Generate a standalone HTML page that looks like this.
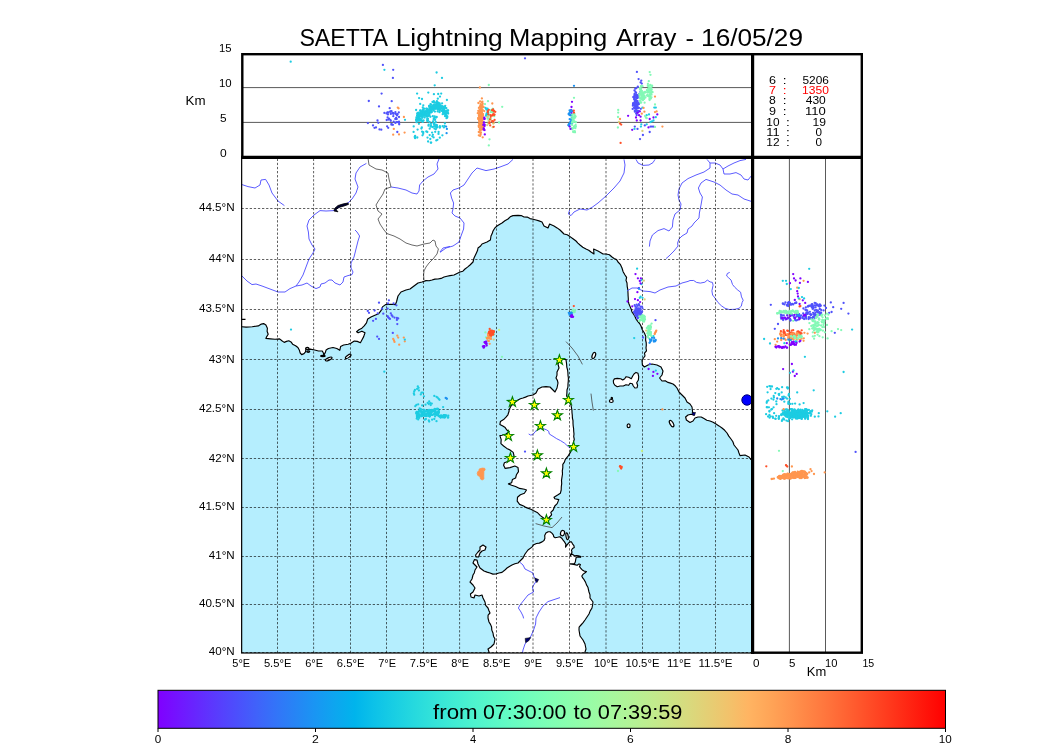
<!DOCTYPE html>
<html><head><meta charset="utf-8"><title>SAETTA Lightning Mapping Array</title>
<style>html,body{margin:0;padding:0;background:#fff;}svg{display:block}text{font-family:"Liberation Sans",sans-serif}</style></head><body>
<svg width="1050" height="750" viewBox="0 0 1050 750">
<rect width="1050" height="750" fill="#fff"/>
<defs><clipPath id="cm"><rect x="241.5" y="157.5" width="511.0" height="495.5"/></clipPath>
<filter id="idf" x="0" y="0" width="1050" height="750" filterUnits="userSpaceOnUse"><feOffset dx="0" dy="0"/></filter>
<linearGradient id="rb" x1="0" x2="1" y1="0" y2="0"><stop offset="0.000" stop-color="rgb(128,0,255)"/><stop offset="0.025" stop-color="rgb(115,20,255)"/><stop offset="0.050" stop-color="rgb(102,40,254)"/><stop offset="0.075" stop-color="rgb(89,60,253)"/><stop offset="0.100" stop-color="rgb(76,79,252)"/><stop offset="0.125" stop-color="rgb(64,98,250)"/><stop offset="0.150" stop-color="rgb(51,116,248)"/><stop offset="0.175" stop-color="rgb(38,133,245)"/><stop offset="0.200" stop-color="rgb(25,150,243)"/><stop offset="0.225" stop-color="rgb(13,166,239)"/><stop offset="0.250" stop-color="rgb(0,180,236)"/><stop offset="0.275" stop-color="rgb(13,194,232)"/><stop offset="0.300" stop-color="rgb(25,206,227)"/><stop offset="0.325" stop-color="rgb(38,217,222)"/><stop offset="0.350" stop-color="rgb(51,227,217)"/><stop offset="0.375" stop-color="rgb(64,236,212)"/><stop offset="0.400" stop-color="rgb(77,243,206)"/><stop offset="0.425" stop-color="rgb(89,248,200)"/><stop offset="0.450" stop-color="rgb(102,252,194)"/><stop offset="0.475" stop-color="rgb(115,254,187)"/><stop offset="0.500" stop-color="rgb(128,255,180)"/><stop offset="0.525" stop-color="rgb(140,254,173)"/><stop offset="0.550" stop-color="rgb(153,252,166)"/><stop offset="0.575" stop-color="rgb(166,248,158)"/><stop offset="0.600" stop-color="rgb(178,243,150)"/><stop offset="0.625" stop-color="rgb(191,236,142)"/><stop offset="0.650" stop-color="rgb(204,227,133)"/><stop offset="0.675" stop-color="rgb(217,217,125)"/><stop offset="0.700" stop-color="rgb(229,206,116)"/><stop offset="0.725" stop-color="rgb(242,194,107)"/><stop offset="0.750" stop-color="rgb(255,180,98)"/><stop offset="0.775" stop-color="rgb(255,166,88)"/><stop offset="0.800" stop-color="rgb(255,150,79)"/><stop offset="0.825" stop-color="rgb(255,133,69)"/><stop offset="0.850" stop-color="rgb(255,116,60)"/><stop offset="0.875" stop-color="rgb(255,98,50)"/><stop offset="0.900" stop-color="rgb(255,79,40)"/><stop offset="0.925" stop-color="rgb(255,60,30)"/><stop offset="0.950" stop-color="rgb(255,40,20)"/><stop offset="0.975" stop-color="rgb(255,20,10)"/><stop offset="1.000" stop-color="rgb(255,0,0)"/></linearGradient></defs>
<g clip-path="url(#cm)">
<rect x="241.5" y="157.5" width="511.0" height="495.5" fill="#b5eefe"/>
<polygon points="230.0,326.7 241.8,326.7 246.1,327.1 252.2,326.7 258.3,325.9 261.3,324.1 263.6,323.6 265.9,325.1 267.4,328.2 267.1,331.2 268.2,334.3 266.7,336.6 265.9,338.4 270.5,338.9 275.0,339.3 279.6,338.9 281.9,340.8 284.2,342.4 286.5,341.4 288.8,340.8 291.0,341.9 292.6,344.2 295.6,345.7 297.9,347.5 299.4,350.3 300.2,353.0 301.7,354.6 304.0,353.6 305.5,351.8 305.8,349.5 310.1,349.1 314.7,350.0 318.5,351.0 322.3,351.0 323.5,353.3 323.8,355.6 325.3,352.6 326.1,350.0 328.4,348.5 333.0,347.5 336.8,348.5 339.8,350.3 340.6,346.5 343.6,345.0 348.2,344.2 351.2,343.1 354.3,341.1 357.3,341.4 360.4,342.7 361.9,339.9 363.7,336.6 365.0,332.8 361.9,331.2 358.1,332.8 356.6,331.7 358.9,329.7 361.9,328.2 364.2,325.9 366.5,322.9 367.7,319.0 371.0,317.1 374.9,315.2 378.7,313.7 381.0,310.7 382.5,306.9 385.5,304.6 390.9,304.3 395.4,304.6 396.6,301.5 398.0,296.0 401.0,292.0 403.5,291.0 406.0,290.0 410.0,289.0 414.0,286.0 418.0,283.0 422.0,282.0 426.0,280.6 429.1,280.8 432.0,280.0 434.9,279.1 438.0,279.0 441.1,278.4 444.0,277.0 447.0,276.2 450.0,275.6 454.0,275.0 457.0,273.4 460.0,272.0 462.9,271.2 465.0,269.0 467.5,267.1 470.0,265.0 473.0,262.0 474.0,258.0 475.2,255.5 476.4,253.0 477.5,250.6 478.0,248.0 480.3,246.3 482.0,244.0 484.5,243.0 487.0,242.0 490.4,240.0 491.0,236.0 492.2,233.6 493.0,231.0 494.7,228.2 497.0,226.0 499.4,224.4 502.0,223.0 504.9,220.8 508.0,219.0 510.2,216.8 513.0,215.6 518.0,215.4 521.2,215.6 524.0,217.0 527.2,217.1 530.0,218.6 533.0,219.2 536.0,220.0 539.0,220.9 542.0,222.0 544.0,226.0 548.0,228.0 549.6,224.0 554.0,226.0 557.1,227.9 560.0,230.0 562.0,232.0 564.0,234.0 567.2,234.8 570.0,236.6 573.0,238.8 576.0,241.0 577.9,243.1 580.0,245.0 582.8,247.3 586.0,249.0 588.7,250.2 591.0,252.0 594.0,254.0 593.6,249.0 598.0,251.0 600.6,252.4 603.0,254.0 606.0,254.0 609.4,254.7 612.0,257.0 614.1,258.5 616.6,259.6 618.0,262.0 620.5,264.7 622.0,268.0 623.1,271.7 625.0,275.0 626.6,277.4 626.0,280.4 627.0,283.0 627.2,286.3 627.8,289.7 628.0,293.0 628.1,295.8 628.3,298.5 628.3,301.3 629.0,304.0 630.1,306.6 631.2,309.2 632.0,312.0 633.6,314.2 635.0,316.5 636.0,319.0 637.7,321.3 639.6,323.5 641.0,326.0 642.3,329.7 644.4,333.0 645.8,336.4 645.6,340.0 646.2,342.6 646.3,345.3 646.0,348.0 646.5,350.8 644.5,353.2 645.0,356.0 642.0,360.0 642.4,365.0 644.4,367.0 648.0,365.0 652.0,364.0 657.0,365.0 661.0,367.0 663.0,371.0 662.0,375.0 659.6,378.0 662.0,381.0 665.2,380.7 668.0,382.4 670.5,383.1 673.0,384.0 675.2,385.8 677.0,388.0 679.0,392.0 682.0,395.0 685.0,398.0 687.0,402.0 690.0,404.0 692.0,407.0 692.6,412.0 694.0,415.0 691.0,414.3 688.0,415.0 685.6,417.0 686.4,420.0 690.0,422.4 693.0,421.0 695.0,418.0 698.0,417.0 701.2,417.0 704.0,418.6 706.8,420.2 710.0,421.0 713.1,422.2 716.0,424.0 719.0,425.9 722.0,428.0 724.7,430.3 727.0,433.0 728.8,436.1 731.0,439.0 732.9,441.8 734.0,445.0 736.0,447.5 738.0,450.0 738.9,452.8 740.0,455.6 745.0,455.0 749.0,457.0 751.0,459.6 753.6,461.2 756.9,460.4 759.2,462.9 762.1,463.5 765.0,464.0 765.0,140.0 230.0,140.0" fill="#fff" stroke="#000" stroke-width="1.15" stroke-linejoin="round"/>
<polygon points="509.0,410.0 511.0,406.0 514.0,403.0 518.0,400.0 520.4,398.7 523.0,398.0 525.5,397.1 528.0,396.0 533.0,395.0 536.0,393.0 538.0,389.0 542.0,387.0 546.0,386.6 550.0,387.0 553.0,390.0 555.0,392.0 557.0,388.0 558.0,383.0 557.4,380.4 556.0,378.0 557.0,375.1 557.0,372.0 559.0,368.0 558.0,364.0 560.0,361.0 563.0,359.0 566.0,359.6 566.6,364.0 566.8,367.1 567.6,370.0 567.9,372.7 568.0,375.3 568.4,378.0 568.3,381.0 568.0,384.0 567.9,387.1 567.0,390.0 566.9,393.0 566.6,396.0 569.0,400.0 569.7,402.6 571.0,405.0 571.9,410.0 572.0,412.7 572.3,415.3 572.4,418.0 573.0,420.6 573.0,423.3 573.2,426.0 573.6,428.6 573.7,431.3 574.0,434.0 573.7,436.7 574.3,439.4 573.5,442.0 573.0,444.8 572.4,447.6 570.8,451.6 568.4,455.6 565.2,459.6 564.4,462.2 562.8,464.4 562.8,467.6 562.3,470.8 562.5,474.0 562.0,477.2 561.5,480.4 561.7,483.6 561.3,486.8 561.2,490.0 560.4,493.2 558.0,494.8 554.0,497.2 554.8,498.8 558.8,499.6 557.2,503.6 554.8,506.0 553.2,510.0 550.8,512.4 551.6,514.8 549.2,517.5 546.0,520.4 543.6,518.0 540.4,515.6 537.2,512.4 533.2,510.5 530.9,509.3 528.4,508.4 525.9,507.4 523.6,506.0 519.6,504.4 517.2,501.2 517.5,497.2 520.4,494.8 524.4,493.2 526.5,490.0 524.4,489.2 519.6,488.4 515.6,486.5 511.6,485.2 508.4,483.9 511.6,482.8 512.4,479.6 515.6,478.0 516.4,474.8 518.5,471.6 518.0,467.6 514.8,466.0 510.0,467.6 505.2,468.4 503.6,465.2 504.4,462.8 508.4,461.2 512.4,458.8 514.0,455.6 513.2,452.4 510.0,450.0 506.8,448.4 503.6,446.0 500.9,443.6 501.2,439.6 499.9,435.6 502.0,435.3 506.0,434.0 509.2,431.6 506.8,430.0 505.2,427.6 502.8,426.0 499.9,424.4 500.4,421.5 503.6,419.6 506.0,417.2 507.9,414.8 509.2,410.8" fill="#fff" stroke="#000" stroke-width="1.15" stroke-linejoin="round"/>
<polygon points="489.0,665.0 489.0,652.0 488.0,649.0 491.0,647.0 494.0,644.0 495.0,639.0 493.5,636.2 493.0,633.0 491.8,630.1 491.6,627.0 490.5,624.4 489.0,622.0 488.0,618.0 488.1,615.1 490.0,613.0 488.9,610.5 488.0,608.0 485.7,605.4 485.0,602.0 483.0,598.0 482.0,595.0 479.0,596.0 475.0,595.0 474.0,598.0 471.0,597.0 470.4,594.0 473.0,592.0 475.0,588.0 473.0,585.0 470.0,582.0 472.0,579.0 473.0,575.0 474.4,572.7 475.0,570.0 477.0,567.0 475.0,565.0 473.0,563.0 474.4,559.6 477.0,560.0 478.0,564.0 480.0,568.0 484.0,571.0 487.0,572.1 490.0,573.0 492.9,574.1 496.0,574.0 498.9,573.0 502.0,572.4 504.6,570.3 507.0,568.0 509.4,566.4 512.0,565.0 514.9,563.7 518.0,563.0 520.5,560.5 523.0,558.0 525.0,554.0 528.0,550.0 531.9,547.1 533.7,544.7 536.5,543.5 539.3,543.1 542.1,541.9 544.0,540.5 544.9,538.2 544.7,535.4 545.9,533.1 548.2,531.7 550.1,531.7 551.9,533.1 553.3,534.9 553.8,536.8 555.2,537.7 557.5,537.3 559.9,536.8 561.7,538.2 563.1,540.1 564.5,541.9 565.9,544.3 565.5,547.1 566.9,545.2 568.3,543.3 570.1,541.9 571.5,541.9 572.5,543.8 573.9,545.7 574.3,547.5 572.5,548.5 571.5,550.3 572.0,552.2 570.6,554.5 570.1,555.9 572.0,554.1 573.4,555.0 574.8,555.9 576.7,555.5 578.5,555.9 580.9,556.6 580.4,557.3 578.1,556.9 576.2,557.3 575.7,559.7 575.3,562.0 574.3,563.9 572.0,563.7 569.7,563.9 572.0,564.3 574.8,564.6 577.1,565.3 579.0,563.9 580.4,564.6 579.5,566.7 580.9,568.5 582.3,569.9 584.1,571.1 586.5,571.5 585.1,572.7 583.2,574.1 581.8,576.0 582.7,577.9 584.1,579.7 585.5,582.1 586.5,584.9 587.9,587.2 589.0,592.0 590.0,594.9 590.0,598.0 593.0,602.0 592.6,605.0 592.0,608.0 590.2,610.9 589.0,614.0 587.0,617.0 585.0,620.0 583.1,622.6 581.0,625.0 579.1,627.2 579.0,630.0 579.5,633.0 580.0,636.0 583.0,640.0 585.0,644.0 586.0,649.0 585.0,652.0 585.2,655.2 584.9,658.5 585.2,661.8 585.0,665.0" fill="#fff" stroke="#000" stroke-width="1.15" stroke-linejoin="round"/>
<polygon points="613.3,380.7 614.4,378.9 617.3,378.4 620.7,378.7 622.7,380.0 624.7,378.7 626.0,376.7 628.7,377.3 631.3,378.7 632.7,376.0 634.0,374.0 636.0,372.4 638.0,373.3 638.7,376.7 638.4,380.0 636.7,382.7 637.6,385.3 637.1,387.7 634.9,388.0 633.3,386.0 632.3,383.7 630.0,383.3 628.7,385.3 626.0,384.7 623.3,386.0 620.0,386.0 617.3,386.7 614.9,385.3 613.6,383.3" fill="#fff" stroke="#000" stroke-width="1.15" stroke-linejoin="round"/>
<polygon points="480.0,547.0 483.0,545.0 486.0,547.0 485.0,550.0 482.0,551.0 480.0,553.0 478.6,557.0 476.0,557.0 475.6,555.0 478.0,552.0 480.0,550.0" fill="#fff" stroke="#000" stroke-width="1.15" stroke-linejoin="round"/>
<ellipse cx="562.5" cy="533.1" rx="2.0" ry="2.7" transform="rotate(15 562.5 533.1)" fill="#fff" stroke="#000" stroke-width="1.2"/>
<ellipse cx="567.1" cy="536.3" rx="1.1" ry="3.4" transform="rotate(-10 567.1 536.3)" fill="#fff" stroke="#000" stroke-width="1.2"/>
<ellipse cx="593.8" cy="355.5" rx="1.6" ry="3.2" transform="rotate(20 593.8 355.5)" fill="#fff" stroke="#000" stroke-width="1.2"/>
<ellipse cx="611.8" cy="398.3" rx="0.7" ry="0.9" transform="rotate(0 611.8 398.3)" fill="#fff" stroke="#000" stroke-width="1.2"/>
<ellipse cx="611.3" cy="401.0" rx="1.9" ry="1.5" transform="rotate(0 611.3 401.0)" fill="#fff" stroke="#000" stroke-width="1.2"/>
<ellipse cx="628.6" cy="425.8" rx="1.5" ry="1.9" transform="rotate(0 628.6 425.8)" fill="#fff" stroke="#000" stroke-width="1.2"/>
<ellipse cx="671.6" cy="423.6" rx="1.6" ry="3.6" transform="rotate(-30 671.6 423.6)" fill="#fff" stroke="#000" stroke-width="1.2"/>
<ellipse cx="322.9" cy="356.0" rx="2.3" ry="0.7" transform="rotate(0 322.9 356.0)" fill="#fff" stroke="#000" stroke-width="1.2"/>
<ellipse cx="328.7" cy="359.0" rx="3.6" ry="1.2" transform="rotate(-25 328.7 359.0)" fill="#fff" stroke="#000" stroke-width="1.2"/>
<ellipse cx="348.2" cy="356.4" rx="3.3" ry="1.2" transform="rotate(-35 348.2 356.4)" fill="#fff" stroke="#000" stroke-width="1.2"/>
<ellipse cx="307.3" cy="348.4" rx="1.7" ry="1.0" transform="rotate(0 307.3 348.4)" fill="#fff" stroke="#000" stroke-width="1.2"/>
<ellipse cx="308.2" cy="351.6" rx="1.5" ry="0.7" transform="rotate(0 308.2 351.6)" fill="#fff" stroke="#000" stroke-width="1.2"/>
<path d="M241 319.3 L245.5 319.3" stroke="#000" stroke-width="1.3" fill="none"/>
<polyline points="242.0,184.6 248.0,186.6 255.0,188.0 260.0,185.0 261.0,180.0 265.6,179.4 269.0,185.0 272.0,193.0 278.0,201.0 284.4,205.6" fill="none" stroke="#4a4aff" stroke-width="0.9" stroke-linejoin="round"/>
<polyline points="366.4,163.4 360.0,167.0 356.0,173.0 355.0,179.0 358.0,187.0 356.0,193.0 352.0,199.0 348.0,203.0 341.0,206.0 334.0,210.6 326.0,211.0 320.0,210.6 314.0,215.0 309.0,220.0 307.0,226.0 308.4,232.0 309.0,239.0 312.0,245.0 315.0,249.0 313.0,253.0 309.0,259.0 306.0,267.0 303.0,275.0 299.0,282.0 296.0,286.0 290.0,288.6 285.0,292.0 278.0,292.0 270.0,289.0 262.0,286.0 256.0,284.0 252.0,284.6 247.0,281.0 242.0,276.0" fill="none" stroke="#4a4aff" stroke-width="0.9" stroke-linejoin="round"/>
<polyline points="296.0,286.0 302.0,285.0 307.0,283.0 311.0,286.0 316.0,288.6 320.0,287.0 321.0,284.0 325.0,283.0 329.0,280.0 332.0,280.0 335.0,283.0 340.0,285.0 343.0,282.0 344.0,277.0 348.0,275.6 352.0,274.6 353.0,272.0 351.0,268.0 351.0,263.0 354.0,257.0 356.0,249.0 358.0,241.0 359.6,236.0 357.0,232.0 355.0,230.0" fill="none" stroke="#4a4aff" stroke-width="0.9" stroke-linejoin="round"/>
<polyline points="391.0,187.0 398.0,188.0 406.0,190.0 412.0,193.0 417.0,194.0 419.0,191.0 419.6,185.0 423.0,181.0 428.0,177.0 434.0,174.0 438.0,169.0 437.0,164.0 439.0,159.0" fill="none" stroke="#4a4aff" stroke-width="0.9" stroke-linejoin="round"/>
<polyline points="440.0,252.0 443.0,248.0 450.0,246.4" fill="none" stroke="#4a4aff" stroke-width="0.9" stroke-linejoin="round"/>
<polyline points="513.0,159.4 508.0,164.0 500.0,167.0 494.0,169.0 486.0,170.6 477.0,168.0 472.0,173.0 468.0,179.0 464.0,185.0 459.0,188.0 453.0,190.0 450.4,193.0 451.6,198.0 453.6,203.0 453.0,209.0 452.0,213.0 455.0,216.0 460.0,218.0 464.0,223.0 463.6,229.0 461.0,236.0 459.0,242.0 453.0,246.0 446.0,248.0 440.0,252.4" fill="none" stroke="#4a4aff" stroke-width="0.9" stroke-linejoin="round"/>
<polyline points="624.0,159.4 625.0,165.0 624.0,173.0 620.0,181.0 614.0,188.0 606.0,196.0 598.0,203.0 592.0,207.4 587.0,210.0 580.0,209.0 574.0,212.0 571.0,215.6 568.4,214.0 569.6,210.0" fill="none" stroke="#4a4aff" stroke-width="0.9" stroke-linejoin="round"/>
<polyline points="636.0,159.4 638.0,163.0 643.0,165.4 649.0,165.0 653.0,162.6 655.0,159.4" fill="none" stroke="#4a4aff" stroke-width="0.9" stroke-linejoin="round"/>
<polyline points="707.0,159.4 710.0,163.0 710.0,168.0 704.0,172.0 696.0,175.0 688.0,178.6 682.0,183.0 679.0,189.0 678.0,195.0 679.0,200.0 681.0,204.0 680.0,210.0 675.0,214.0 673.0,220.0 672.4,227.0 669.0,231.0 664.0,228.6 658.0,230.6 652.4,235.0 650.0,241.0 649.4,246.6" fill="none" stroke="#4a4aff" stroke-width="0.9" stroke-linejoin="round"/>
<polyline points="752.0,201.6 744.0,199.0 738.0,195.0 732.0,194.0 726.0,190.0 720.0,185.0 714.0,182.0 706.0,179.4 701.0,183.0 698.4,188.0 700.0,193.0 702.4,197.0 701.0,205.0 699.4,213.0 699.0,218.0 694.0,223.0 692.0,226.0 688.0,229.0 687.0,233.0 682.0,236.0 679.0,239.0 677.6,243.0 678.0,246.0 674.0,251.0 669.0,256.0 666.0,258.6" fill="none" stroke="#4a4aff" stroke-width="0.9" stroke-linejoin="round"/>
<polyline points="710.0,163.0 715.0,163.0 720.0,165.0 723.0,169.0 724.0,174.0 730.0,174.0 736.0,172.6 741.0,175.0 744.0,179.0 748.0,180.0 750.4,177.0 752.0,175.0" fill="none" stroke="#4a4aff" stroke-width="0.9" stroke-linejoin="round"/>
<polyline points="723.0,169.0 728.0,166.0 734.0,163.0 740.0,160.6 746.0,159.4" fill="none" stroke="#4a4aff" stroke-width="0.9" stroke-linejoin="round"/>
<polyline points="627.0,291.0 632.0,288.0 637.0,288.0 643.0,291.0 650.0,291.6 655.0,293.0 660.0,290.0 668.0,287.0 676.0,286.0 682.0,283.0 688.0,281.4 690.0,280.5 693.7,280.5 696.5,282.4 700.3,283.1 704.9,282.2 707.3,280.1 710.1,281.9 712.4,282.4 713.1,285.2 711.9,290.8 712.6,295.0 715.2,298.3 718.0,302.5 721.3,305.7 725.0,308.3 729.2,309.5 734.8,309.3 739.0,308.3 741.3,306.2 742.1,302.5 743.2,300.3 741.5,296.9 740.6,292.2 737.8,290.1 734.8,287.3 732.5,284.5 731.1,280.1 728.3,277.5 726.6,275.9 727.3,273.5 729.7,272.4" fill="none" stroke="#4a4aff" stroke-width="0.9" stroke-linejoin="round"/>
<polyline points="528.7,434.0 530.5,435.0 532.7,434.7 536.7,430.0 540.0,428.8 543.3,428.7 546.5,429.8 548.7,431.3 549.3,434.0 553.0,436.3 556.7,438.7 560.5,440.6 564.7,443.3 567.5,446.0 570.0,448.0" fill="none" stroke="#4a4aff" stroke-width="0.9" stroke-linejoin="round"/>
<polyline points="520.0,562.4 523.0,565.0 525.0,569.0 529.0,571.0 533.0,573.0 534.0,577.0 537.0,580.0 535.0,583.0 532.4,587.0 533.6,592.0 528.0,595.0 524.0,600.0 520.0,605.0 518.4,608.0 521.0,612.0 523.0,616.0 523.6,618.4" fill="none" stroke="#4a4aff" stroke-width="0.9" stroke-linejoin="round"/>
<polyline points="560.0,597.6 554.0,599.6 548.0,601.6 543.0,606.0 539.0,612.0 536.0,618.0 535.6,624.0 533.6,630.0 531.0,636.0 528.0,640.0 525.0,644.0 523.0,650.0 522.4,653.0" fill="none" stroke="#4a4aff" stroke-width="0.9" stroke-linejoin="round"/>
<circle cx="747" cy="400" r="5.2" fill="#0000ff" stroke="#00007a" stroke-width="1"/>
<path d="M692 412.5 L695.5 412.5 L694.5 415.5 L692.5 415 Z" fill="#00008b" stroke="#000" stroke-width="0.6"/>
<path d="M348 203 L343.5 203.8 L338 205.5 L334.5 208.5 L334 211 L338 211.8 L336 209.6 L339 207.4 L344 206 L348.5 204.4 Z" fill="#000030" stroke="#000" stroke-width="0.8"/>
<path d="M534.8 578 L538.6 579.5 L537 582.6 L535.4 581 Z" fill="#000070" stroke="#000" stroke-width="0.6"/>
<path d="M525.2 638.4 L530.8 637.6 L528.5 641 L525.6 642.6 Z" fill="#000070" stroke="#000" stroke-width="0.6"/>
<polyline points="368.0,158.0 369.0,165.0 376.0,169.0 382.0,170.0 388.0,173.0 389.0,179.0 391.0,187.0 385.0,189.0 383.0,194.0 379.0,200.0 376.0,205.0 378.0,211.0 382.0,214.0 378.0,219.0 380.0,224.0 384.0,230.0 387.0,233.6 394.0,236.0 400.0,239.0 406.0,243.0 412.0,245.0 417.0,246.0 424.0,244.0 430.0,243.0 433.0,240.0 435.0,241.0 436.0,246.0 438.4,249.0 437.0,254.0 433.0,259.0 429.0,263.0 426.0,267.0 424.0,271.0 423.6,275.0 424.0,280.0" fill="none" stroke="#444" stroke-width="0.8" stroke-linejoin="round"/>
<polyline points="566.0,341.6 572.0,348.0 578.0,356.0 582.4,364.4" fill="none" stroke="#444" stroke-width="0.8" stroke-linejoin="round"/>
<polyline points="591.0,393.6 592.0,402.0 593.4,410.6" fill="none" stroke="#444" stroke-width="0.8" stroke-linejoin="round"/>
<polyline points="535.6,523.6 544.0,526.0 552.0,527.6 557.0,523.0 562.0,517.0" fill="none" stroke="#444" stroke-width="0.8" stroke-linejoin="round"/>
<path d="M277.5 653.0 V157.5 M313.6 653.0 V157.5 M350.5 653.0 V157.5 M386.5 653.0 V157.5 M423.5 653.0 V157.5 M459.6 653.0 V157.5 M496.5 653.0 V157.5 M533.0 653.0 V157.5 M569.5 653.0 V157.5 M606.0 653.0 V157.5 M642.5 653.0 V157.5 M679.4 653.0 V157.5 M715.5 653.0 V157.5 M241.5 652.5 H752.5 M241.5 604.5 H752.5 M241.5 556.5 H752.5 M241.5 507.5 H752.5 M241.5 458.5 H752.5 M241.5 409.5 H752.5 M241.5 359.5 H752.5 M241.5 309.5 H752.5 M241.5 259.5 H752.5 M241.5 208.5 H752.5" fill="none" stroke="#000" stroke-opacity="0.62" stroke-width="1" stroke-dasharray="2.3 1.8"/>
<g fill="#5052fb"><circle cx="379.0" cy="302.7" r="1.15"/><circle cx="388.9" cy="300.3" r="1.15"/><circle cx="388.0" cy="303.4" r="1.15"/><circle cx="393.6" cy="303.4" r="1.15"/><circle cx="396.4" cy="305.3" r="1.15"/><circle cx="382.0" cy="308.7" r="1.15"/><circle cx="387.6" cy="308.7" r="1.15"/><circle cx="367.8" cy="310.9" r="1.15"/><circle cx="369.0" cy="312.8" r="1.15"/><circle cx="374.6" cy="310.5" r="1.15"/><circle cx="377.7" cy="313.3" r="1.15"/><circle cx="383.3" cy="313.7" r="1.15"/><circle cx="390.8" cy="313.3" r="1.15"/><circle cx="391.7" cy="315.2" r="1.15"/><circle cx="388.0" cy="317.1" r="1.15"/><circle cx="389.9" cy="318.9" r="1.15"/><circle cx="394.5" cy="317.6" r="1.15"/><circle cx="396.9" cy="318.0" r="1.15"/><circle cx="398.2" cy="318.4" r="1.15"/><circle cx="396.9" cy="319.9" r="1.15"/><circle cx="375.9" cy="318.9" r="1.15"/><circle cx="373.1" cy="320.8" r="1.15"/><circle cx="397.3" cy="324.1" r="1.15"/><circle cx="392.8" cy="332.9" r="1.15"/><circle cx="377.2" cy="336.6" r="1.15"/><circle cx="379.0" cy="338.9" r="1.15"/><circle cx="388.9" cy="318.0" r="1.15"/><circle cx="387.6" cy="316.1" r="1.15"/><circle cx="392.6" cy="316.5" r="1.15"/></g>
<g fill="#ff964f"><circle cx="393.2" cy="338.9" r="1.15"/><circle cx="394.0" cy="340.4" r="1.15"/><circle cx="394.5" cy="341.9" r="1.15"/><circle cx="397.3" cy="335.7" r="1.15"/><circle cx="398.2" cy="337.6" r="1.15"/><circle cx="403.8" cy="337.6" r="1.15"/><circle cx="404.8" cy="341.3" r="1.15"/><circle cx="399.2" cy="344.7" r="1.15"/></g>
<g fill="#1dcce2"><circle cx="404.8" cy="339.6" r="1.15"/><circle cx="384.3" cy="371.7" r="1.15"/></g>
<g fill="#1dcce2"><circle cx="291.0" cy="329.6" r="1.15"/></g>
<g fill="#1dcce2"><circle cx="417.8" cy="386.4" r="1.15"/><circle cx="418.6" cy="387.8" r="1.15"/><circle cx="417.1" cy="388.9" r="1.15"/><circle cx="418.9" cy="390.4" r="1.15"/><circle cx="414.9" cy="390.0" r="1.15"/><circle cx="414.2" cy="391.5" r="1.15"/><circle cx="413.8" cy="393.3" r="1.15"/><circle cx="414.2" cy="394.7" r="1.15"/><circle cx="421.5" cy="392.7" r="1.15"/><circle cx="423.0" cy="392.6" r="1.15"/><circle cx="420.8" cy="394.4" r="1.15"/><circle cx="423.9" cy="396.3" r="1.15"/><circle cx="429.2" cy="401.4" r="1.15"/><circle cx="427.7" cy="402.9" r="1.15"/><circle cx="428.8" cy="404.0" r="1.15"/><circle cx="430.3" cy="403.2" r="1.15"/><circle cx="431.8" cy="403.6" r="1.15"/><circle cx="430.7" cy="405.1" r="1.15"/><circle cx="425.5" cy="404.7" r="1.15"/><circle cx="422.2" cy="405.4" r="1.15"/><circle cx="418.2" cy="404.3" r="1.15"/><circle cx="416.4" cy="404.9" r="1.15"/><circle cx="415.3" cy="406.2" r="1.15"/><circle cx="434.3" cy="395.9" r="1.15"/><circle cx="436.5" cy="396.8" r="1.15"/><circle cx="437.6" cy="397.7" r="1.15"/><circle cx="438.7" cy="398.8" r="1.15"/><circle cx="439.5" cy="399.8" r="1.15"/><circle cx="443.1" cy="407.1" r="1.15"/><circle cx="417.1" cy="417.5" r="1.15"/><circle cx="418.2" cy="419.4" r="1.15"/><circle cx="425.9" cy="419.0" r="1.15"/><circle cx="424.8" cy="419.7" r="1.15"/><circle cx="428.8" cy="420.5" r="1.15"/><circle cx="429.2" cy="421.6" r="1.15"/><circle cx="432.1" cy="419.7" r="1.15"/><circle cx="434.3" cy="419.0" r="1.15"/><circle cx="436.5" cy="421.2" r="1.15"/><circle cx="435.1" cy="416.4" r="1.15"/><circle cx="416.7" cy="418.6" r="1.15"/></g>
<g fill="#1dcce2"><circle cx="417.6" cy="413.1" r="1.15"/><circle cx="433.8" cy="410.7" r="1.15"/><circle cx="421.8" cy="416.1" r="1.15"/><circle cx="422.4" cy="412.2" r="1.15"/><circle cx="432.2" cy="410.8" r="1.15"/><circle cx="426.4" cy="414.2" r="1.15"/><circle cx="423.8" cy="410.2" r="1.15"/><circle cx="434.1" cy="414.6" r="1.15"/><circle cx="421.7" cy="412.1" r="1.15"/><circle cx="421.5" cy="413.3" r="1.15"/><circle cx="436.2" cy="414.3" r="1.15"/><circle cx="434.3" cy="414.1" r="1.15"/><circle cx="425.8" cy="411.4" r="1.15"/><circle cx="418.8" cy="414.5" r="1.15"/><circle cx="424.5" cy="409.8" r="1.15"/><circle cx="424.9" cy="415.9" r="1.15"/><circle cx="431.2" cy="412.6" r="1.15"/><circle cx="418.0" cy="414.9" r="1.15"/><circle cx="429.5" cy="410.7" r="1.15"/><circle cx="421.3" cy="416.2" r="1.15"/><circle cx="429.6" cy="416.6" r="1.15"/><circle cx="422.4" cy="414.1" r="1.15"/><circle cx="428.6" cy="410.7" r="1.15"/><circle cx="419.7" cy="410.2" r="1.15"/><circle cx="417.6" cy="412.7" r="1.15"/><circle cx="430.3" cy="413.6" r="1.15"/><circle cx="430.2" cy="414.3" r="1.15"/><circle cx="421.6" cy="409.7" r="1.15"/><circle cx="423.2" cy="415.0" r="1.15"/><circle cx="431.9" cy="410.0" r="1.15"/><circle cx="427.1" cy="411.2" r="1.15"/><circle cx="433.3" cy="411.4" r="1.15"/><circle cx="429.3" cy="413.6" r="1.15"/><circle cx="429.9" cy="416.0" r="1.15"/><circle cx="419.1" cy="414.6" r="1.15"/><circle cx="427.7" cy="410.4" r="1.15"/><circle cx="437.9" cy="412.1" r="1.15"/><circle cx="430.8" cy="411.5" r="1.15"/><circle cx="419.4" cy="415.5" r="1.15"/><circle cx="419.0" cy="414.7" r="1.15"/><circle cx="438.8" cy="411.3" r="1.15"/><circle cx="418.2" cy="412.0" r="1.15"/><circle cx="419.1" cy="416.6" r="1.15"/><circle cx="419.1" cy="410.8" r="1.15"/><circle cx="417.6" cy="416.6" r="1.15"/><circle cx="430.4" cy="410.2" r="1.15"/><circle cx="417.0" cy="412.6" r="1.15"/><circle cx="422.9" cy="415.5" r="1.15"/><circle cx="434.7" cy="411.3" r="1.15"/><circle cx="420.2" cy="411.2" r="1.15"/><circle cx="421.8" cy="414.3" r="1.15"/><circle cx="426.6" cy="416.0" r="1.15"/><circle cx="435.3" cy="413.0" r="1.15"/><circle cx="427.5" cy="413.2" r="1.15"/><circle cx="438.9" cy="412.6" r="1.15"/><circle cx="426.5" cy="410.7" r="1.15"/><circle cx="425.4" cy="415.4" r="1.15"/><circle cx="421.4" cy="409.6" r="1.15"/><circle cx="432.0" cy="414.9" r="1.15"/><circle cx="429.8" cy="413.4" r="1.15"/><circle cx="429.1" cy="409.9" r="1.15"/><circle cx="429.5" cy="415.7" r="1.15"/><circle cx="428.5" cy="412.4" r="1.15"/><circle cx="432.3" cy="410.7" r="1.15"/><circle cx="430.6" cy="413.1" r="1.15"/><circle cx="434.5" cy="414.1" r="1.15"/><circle cx="432.3" cy="411.6" r="1.15"/><circle cx="437.5" cy="412.1" r="1.15"/><circle cx="430.7" cy="412.0" r="1.15"/><circle cx="436.1" cy="414.8" r="1.15"/><circle cx="429.8" cy="416.2" r="1.15"/><circle cx="437.5" cy="412.2" r="1.15"/><circle cx="422.7" cy="411.9" r="1.15"/><circle cx="422.3" cy="411.6" r="1.15"/><circle cx="419.2" cy="415.0" r="1.15"/><circle cx="425.2" cy="415.7" r="1.15"/><circle cx="416.9" cy="411.8" r="1.15"/><circle cx="438.6" cy="415.7" r="1.15"/><circle cx="439.3" cy="416.4" r="1.15"/><circle cx="436.9" cy="414.2" r="1.15"/><circle cx="438.7" cy="410.6" r="1.15"/><circle cx="427.2" cy="413.6" r="1.15"/><circle cx="434.5" cy="413.7" r="1.15"/><circle cx="421.3" cy="415.7" r="1.15"/><circle cx="428.3" cy="414.1" r="1.15"/><circle cx="417.0" cy="416.6" r="1.15"/><circle cx="417.3" cy="416.6" r="1.15"/><circle cx="431.0" cy="412.9" r="1.15"/><circle cx="431.4" cy="413.0" r="1.15"/><circle cx="438.0" cy="415.3" r="1.15"/><circle cx="417.0" cy="412.6" r="1.15"/><circle cx="424.0" cy="415.1" r="1.15"/><circle cx="424.0" cy="412.1" r="1.15"/><circle cx="438.2" cy="413.5" r="1.15"/><circle cx="424.3" cy="411.3" r="1.15"/><circle cx="421.3" cy="414.9" r="1.15"/><circle cx="438.5" cy="412.3" r="1.15"/><circle cx="439.1" cy="415.8" r="1.15"/><circle cx="436.7" cy="414.7" r="1.15"/><circle cx="428.3" cy="411.9" r="1.15"/><circle cx="424.7" cy="413.0" r="1.15"/><circle cx="421.3" cy="412.6" r="1.15"/><circle cx="438.2" cy="413.3" r="1.15"/><circle cx="428.5" cy="413.0" r="1.15"/><circle cx="428.2" cy="415.9" r="1.15"/><circle cx="431.5" cy="414.8" r="1.15"/><circle cx="437.8" cy="415.0" r="1.15"/><circle cx="426.2" cy="413.9" r="1.15"/><circle cx="422.7" cy="415.8" r="1.15"/><circle cx="435.4" cy="413.0" r="1.15"/><circle cx="423.9" cy="413.7" r="1.15"/><circle cx="436.6" cy="413.2" r="1.15"/><circle cx="418.7" cy="412.2" r="1.15"/><circle cx="418.2" cy="414.8" r="1.15"/><circle cx="420.6" cy="409.7" r="1.15"/><circle cx="435.5" cy="409.9" r="1.15"/><circle cx="425.2" cy="415.5" r="1.15"/><circle cx="435.6" cy="411.6" r="1.15"/><circle cx="417.1" cy="415.6" r="1.15"/><circle cx="432.5" cy="414.9" r="1.15"/></g>
<g fill="#1dcce2"><circle cx="445.2" cy="416.9" r="1.15"/><circle cx="445.3" cy="415.6" r="1.15"/><circle cx="441.6" cy="417.0" r="1.15"/><circle cx="448.3" cy="415.7" r="1.15"/><circle cx="441.0" cy="416.1" r="1.15"/><circle cx="444.7" cy="417.4" r="1.15"/><circle cx="440.7" cy="417.6" r="1.15"/><circle cx="443.9" cy="415.5" r="1.15"/><circle cx="444.2" cy="416.2" r="1.15"/><circle cx="443.1" cy="417.4" r="1.15"/><circle cx="439.4" cy="416.0" r="1.15"/><circle cx="444.5" cy="416.2" r="1.15"/><circle cx="444.0" cy="416.9" r="1.15"/><circle cx="443.7" cy="415.5" r="1.15"/><circle cx="444.6" cy="415.5" r="1.15"/><circle cx="442.5" cy="417.1" r="1.15"/><circle cx="441.6" cy="415.9" r="1.15"/><circle cx="441.0" cy="415.4" r="1.15"/><circle cx="444.8" cy="415.8" r="1.15"/><circle cx="446.3" cy="415.5" r="1.15"/><circle cx="440.3" cy="416.8" r="1.15"/><circle cx="445.2" cy="416.0" r="1.15"/><circle cx="440.6" cy="417.3" r="1.15"/><circle cx="445.2" cy="416.4" r="1.15"/><circle cx="440.4" cy="416.1" r="1.15"/><circle cx="445.2" cy="415.7" r="1.15"/><circle cx="444.6" cy="417.4" r="1.15"/><circle cx="443.1" cy="416.6" r="1.15"/><circle cx="443.2" cy="415.6" r="1.15"/><circle cx="444.5" cy="415.5" r="1.15"/><circle cx="447.9" cy="417.5" r="1.15"/><circle cx="448.2" cy="417.4" r="1.15"/></g>
<g fill="#1dcce2"><circle cx="416.9" cy="415.8" r="1.15"/><circle cx="418.7" cy="414.7" r="1.15"/><circle cx="418.6" cy="416.0" r="1.15"/><circle cx="416.3" cy="412.3" r="1.15"/><circle cx="419.3" cy="417.7" r="1.15"/><circle cx="418.6" cy="415.3" r="1.15"/><circle cx="418.9" cy="417.7" r="1.15"/><circle cx="418.8" cy="416.3" r="1.15"/><circle cx="416.2" cy="413.6" r="1.15"/><circle cx="417.2" cy="414.9" r="1.15"/></g>
<g fill="#1dcce2"><circle cx="434.5" cy="409.9" r="1.15"/><circle cx="438.3" cy="409.2" r="1.15"/><circle cx="437.3" cy="409.1" r="1.15"/><circle cx="437.2" cy="409.0" r="1.15"/><circle cx="434.8" cy="408.9" r="1.15"/><circle cx="435.8" cy="409.1" r="1.15"/><circle cx="437.8" cy="408.8" r="1.15"/><circle cx="437.8" cy="408.9" r="1.15"/><circle cx="434.1" cy="409.7" r="1.15"/><circle cx="436.6" cy="408.8" r="1.15"/></g>
<g fill="#1dcce2"><circle cx="419.7" cy="408.4" r="1.15"/><circle cx="420.0" cy="409.1" r="1.15"/></g>
<g fill="#1c92f2"><circle cx="445.7" cy="397.9" r="1.15"/><circle cx="446.4" cy="398.3" r="1.15"/><circle cx="446.9" cy="398.8" r="1.15"/></g>
<g fill="#84f9b6"><circle cx="485.4" cy="332.4" r="1.15"/><circle cx="486.0" cy="337.3" r="1.15"/><circle cx="494.0" cy="334.4" r="1.15"/><circle cx="487.1" cy="338.4" r="1.15"/></g>
<g fill="#ff964f"><circle cx="489.8" cy="335.9" r="1.15"/><circle cx="489.8" cy="336.2" r="1.15"/><circle cx="489.3" cy="334.6" r="1.15"/><circle cx="487.3" cy="338.3" r="1.15"/><circle cx="487.6" cy="338.2" r="1.15"/><circle cx="488.4" cy="337.4" r="1.15"/><circle cx="488.9" cy="336.5" r="1.15"/><circle cx="488.1" cy="335.5" r="1.15"/><circle cx="487.7" cy="338.0" r="1.15"/><circle cx="487.0" cy="338.4" r="1.15"/><circle cx="490.7" cy="335.3" r="1.15"/><circle cx="487.9" cy="338.1" r="1.15"/><circle cx="489.0" cy="335.2" r="1.15"/><circle cx="489.5" cy="338.6" r="1.15"/><circle cx="491.1" cy="336.8" r="1.15"/><circle cx="489.6" cy="337.7" r="1.15"/><circle cx="488.5" cy="334.3" r="1.15"/><circle cx="489.4" cy="334.6" r="1.15"/><circle cx="488.3" cy="335.6" r="1.15"/><circle cx="489.5" cy="334.3" r="1.15"/><circle cx="488.0" cy="334.1" r="1.15"/><circle cx="491.0" cy="338.9" r="1.15"/></g>
<g fill="#ff5028"><circle cx="491.6" cy="332.5" r="1.15"/><circle cx="493.2" cy="334.1" r="1.15"/><circle cx="489.8" cy="333.0" r="1.15"/><circle cx="490.0" cy="334.8" r="1.15"/><circle cx="491.2" cy="334.2" r="1.15"/><circle cx="490.8" cy="332.3" r="1.15"/><circle cx="491.0" cy="335.5" r="1.15"/><circle cx="493.9" cy="331.7" r="1.15"/><circle cx="491.5" cy="331.2" r="1.15"/><circle cx="491.5" cy="333.2" r="1.15"/><circle cx="493.7" cy="331.9" r="1.15"/><circle cx="491.6" cy="335.1" r="1.15"/><circle cx="491.2" cy="332.5" r="1.15"/><circle cx="491.3" cy="333.5" r="1.15"/><circle cx="492.0" cy="330.6" r="1.15"/><circle cx="490.8" cy="331.8" r="1.15"/><circle cx="492.5" cy="331.8" r="1.15"/><circle cx="492.8" cy="334.0" r="1.15"/><circle cx="493.9" cy="331.4" r="1.15"/><circle cx="492.3" cy="331.6" r="1.15"/><circle cx="489.9" cy="332.9" r="1.15"/><circle cx="489.0" cy="332.2" r="1.15"/><circle cx="490.7" cy="330.7" r="1.15"/><circle cx="491.4" cy="332.4" r="1.15"/><circle cx="492.5" cy="333.1" r="1.15"/><circle cx="489.5" cy="331.4" r="1.15"/><circle cx="493.0" cy="331.8" r="1.15"/><circle cx="491.5" cy="334.2" r="1.15"/><circle cx="491.8" cy="334.1" r="1.15"/><circle cx="488.8" cy="332.8" r="1.15"/><circle cx="492.0" cy="332.5" r="1.15"/><circle cx="492.4" cy="331.3" r="1.15"/><circle cx="490.6" cy="332.0" r="1.15"/><circle cx="493.4" cy="331.5" r="1.15"/><circle cx="492.4" cy="333.5" r="1.15"/><circle cx="491.7" cy="333.5" r="1.15"/><circle cx="492.2" cy="334.4" r="1.15"/><circle cx="491.1" cy="333.4" r="1.15"/><circle cx="490.6" cy="334.7" r="1.15"/><circle cx="493.2" cy="334.6" r="1.15"/><circle cx="489.7" cy="328.9" r="1.15"/></g>
<g fill="#d9cf7a"><circle cx="493.7" cy="339.6" r="1.15"/></g>
<g fill="#ff964f"><circle cx="488.9" cy="341.1" r="1.15"/><circle cx="489.7" cy="343.8" r="1.15"/><circle cx="488.1" cy="340.7" r="1.15"/></g>
<g fill="#8000ff"><circle cx="485.1" cy="342.2" r="1.15"/><circle cx="486.7" cy="345.5" r="1.15"/><circle cx="486.0" cy="341.7" r="1.15"/><circle cx="484.9" cy="342.5" r="1.15"/><circle cx="485.6" cy="342.9" r="1.15"/><circle cx="485.9" cy="343.5" r="1.15"/><circle cx="486.4" cy="343.7" r="1.15"/><circle cx="484.6" cy="342.2" r="1.15"/><circle cx="486.2" cy="342.0" r="1.15"/><circle cx="485.4" cy="342.2" r="1.15"/><circle cx="486.4" cy="343.7" r="1.15"/><circle cx="485.9" cy="342.3" r="1.15"/><circle cx="484.0" cy="346.5" r="1.15"/><circle cx="482.9" cy="346.4" r="1.15"/><circle cx="484.4" cy="346.4" r="1.15"/><circle cx="484.0" cy="346.2" r="1.15"/><circle cx="484.1" cy="346.1" r="1.15"/><circle cx="483.7" cy="347.7" r="1.15"/><circle cx="484.0" cy="347.1" r="1.15"/><circle cx="484.0" cy="346.9" r="1.15"/></g>
<g fill="#c8f080"><circle cx="499.1" cy="329.9" r="1.15"/></g>
<g fill="#84f9b6"><circle cx="502.0" cy="356.8" r="1.15"/></g>
<g fill="#ff5028"><circle cx="573.8" cy="306.1" r="1.15"/></g>
<g fill="#84f9b6"><circle cx="572.9" cy="311.4" r="1.15"/><circle cx="573.5" cy="312.2" r="1.15"/><circle cx="574.7" cy="312.0" r="1.15"/><circle cx="573.5" cy="311.6" r="1.15"/><circle cx="572.4" cy="311.3" r="1.15"/><circle cx="571.4" cy="312.7" r="1.15"/><circle cx="575.1" cy="310.2" r="1.15"/><circle cx="573.0" cy="310.7" r="1.15"/><circle cx="573.2" cy="310.2" r="1.15"/><circle cx="572.9" cy="310.8" r="1.15"/><circle cx="573.2" cy="310.3" r="1.15"/><circle cx="574.9" cy="310.3" r="1.15"/><circle cx="573.0" cy="310.8" r="1.15"/><circle cx="573.7" cy="312.2" r="1.15"/><circle cx="573.2" cy="309.7" r="1.15"/><circle cx="574.3" cy="310.1" r="1.15"/></g>
<g fill="#1c92f2"><circle cx="570.3" cy="314.4" r="1.15"/><circle cx="571.7" cy="314.4" r="1.15"/><circle cx="571.5" cy="312.9" r="1.15"/><circle cx="571.5" cy="312.9" r="1.15"/><circle cx="569.5" cy="313.9" r="1.15"/><circle cx="568.8" cy="312.8" r="1.15"/><circle cx="571.0" cy="315.7" r="1.15"/><circle cx="570.3" cy="313.4" r="1.15"/><circle cx="570.8" cy="313.9" r="1.15"/><circle cx="570.8" cy="313.4" r="1.15"/><circle cx="570.8" cy="312.7" r="1.15"/><circle cx="570.6" cy="314.5" r="1.15"/><circle cx="570.4" cy="314.3" r="1.15"/><circle cx="569.7" cy="314.9" r="1.15"/></g>
<g fill="#8000ff"><circle cx="571.5" cy="316.5" r="1.15"/><circle cx="571.4" cy="316.7" r="1.15"/><circle cx="572.1" cy="316.4" r="1.15"/><circle cx="573.1" cy="316.8" r="1.15"/><circle cx="572.1" cy="315.5" r="1.15"/><circle cx="570.9" cy="316.3" r="1.15"/><circle cx="571.7" cy="315.6" r="1.15"/><circle cx="571.4" cy="315.6" r="1.15"/><circle cx="572.3" cy="316.9" r="1.15"/><circle cx="571.7" cy="315.9" r="1.15"/></g>
<g fill="#1dcce2"><circle cx="637.1" cy="268.7" r="1.15"/><circle cx="641.4" cy="280.2" r="1.15"/><circle cx="641.4" cy="284.2" r="1.15"/><circle cx="639.0" cy="288.2" r="1.15"/><circle cx="640.6" cy="296.7" r="1.15"/><circle cx="639.8" cy="297.8" r="1.15"/><circle cx="642.5" cy="297.8" r="1.15"/><circle cx="634.2" cy="338.1" r="1.15"/><circle cx="653.4" cy="336.2" r="1.15"/></g>
<g fill="#8000ff"><circle cx="635.5" cy="274.1" r="1.15"/><circle cx="637.9" cy="278.3" r="1.15"/><circle cx="640.9" cy="278.3" r="1.15"/><circle cx="639.8" cy="281.0" r="1.15"/><circle cx="640.6" cy="283.4" r="1.15"/><circle cx="638.7" cy="288.2" r="1.15"/><circle cx="637.4" cy="292.2" r="1.15"/><circle cx="637.9" cy="300.2" r="1.15"/><circle cx="635.0" cy="299.1" r="1.15"/><circle cx="640.1" cy="302.1" r="1.15"/><circle cx="632.3" cy="306.3" r="1.15"/><circle cx="627.5" cy="301.5" r="1.15"/><circle cx="648.6" cy="369.0" r="1.15"/><circle cx="653.4" cy="371.9" r="1.15"/><circle cx="657.4" cy="373.8" r="1.15"/><circle cx="652.9" cy="375.9" r="1.15"/></g>
<g fill="#d9cf7a"><circle cx="643.8" cy="280.7" r="1.15"/><circle cx="644.6" cy="299.4" r="1.15"/><circle cx="646.2" cy="330.6" r="1.15"/></g>
<g fill="#1c92f2"><circle cx="639.0" cy="288.7" r="1.15"/></g>
<g fill="#5052fb"><circle cx="636.2" cy="310.5" r="1.15"/><circle cx="637.7" cy="305.8" r="1.15"/><circle cx="635.2" cy="312.6" r="1.15"/><circle cx="637.2" cy="315.1" r="1.15"/><circle cx="638.8" cy="311.0" r="1.15"/><circle cx="634.9" cy="311.7" r="1.15"/><circle cx="635.4" cy="311.4" r="1.15"/><circle cx="640.7" cy="315.4" r="1.15"/><circle cx="639.5" cy="312.8" r="1.15"/><circle cx="636.7" cy="312.8" r="1.15"/><circle cx="640.7" cy="306.8" r="1.15"/><circle cx="638.3" cy="311.6" r="1.15"/><circle cx="639.1" cy="312.4" r="1.15"/><circle cx="638.8" cy="315.3" r="1.15"/><circle cx="638.1" cy="312.2" r="1.15"/><circle cx="642.1" cy="311.4" r="1.15"/><circle cx="639.4" cy="313.0" r="1.15"/><circle cx="638.1" cy="313.4" r="1.15"/><circle cx="635.6" cy="310.0" r="1.15"/><circle cx="636.8" cy="315.5" r="1.15"/><circle cx="637.1" cy="311.5" r="1.15"/><circle cx="639.6" cy="313.3" r="1.15"/><circle cx="636.7" cy="304.7" r="1.15"/><circle cx="637.4" cy="311.8" r="1.15"/><circle cx="638.1" cy="310.7" r="1.15"/><circle cx="637.4" cy="316.5" r="1.15"/><circle cx="636.1" cy="311.7" r="1.15"/><circle cx="636.8" cy="309.9" r="1.15"/><circle cx="637.8" cy="310.4" r="1.15"/><circle cx="639.5" cy="312.1" r="1.15"/><circle cx="638.9" cy="304.2" r="1.15"/><circle cx="639.6" cy="309.4" r="1.15"/><circle cx="639.5" cy="309.5" r="1.15"/><circle cx="636.3" cy="311.2" r="1.15"/><circle cx="636.6" cy="309.2" r="1.15"/><circle cx="639.0" cy="309.1" r="1.15"/><circle cx="640.0" cy="308.9" r="1.15"/><circle cx="635.5" cy="315.2" r="1.15"/><circle cx="638.0" cy="315.8" r="1.15"/><circle cx="636.2" cy="312.3" r="1.15"/><circle cx="638.8" cy="311.8" r="1.15"/><circle cx="637.8" cy="310.7" r="1.15"/><circle cx="637.0" cy="313.7" r="1.15"/><circle cx="639.8" cy="313.9" r="1.15"/><circle cx="639.3" cy="308.6" r="1.15"/><circle cx="639.3" cy="310.5" r="1.15"/><circle cx="637.9" cy="310.7" r="1.15"/><circle cx="639.3" cy="317.0" r="1.15"/><circle cx="640.0" cy="312.6" r="1.15"/><circle cx="634.0" cy="312.1" r="1.15"/><circle cx="635.4" cy="306.7" r="1.15"/><circle cx="638.9" cy="312.4" r="1.15"/><circle cx="635.5" cy="309.2" r="1.15"/><circle cx="642.0" cy="306.7" r="1.15"/><circle cx="639.3" cy="305.4" r="1.15"/><circle cx="637.4" cy="316.4" r="1.15"/><circle cx="634.6" cy="311.1" r="1.15"/><circle cx="637.3" cy="315.4" r="1.15"/><circle cx="638.0" cy="317.8" r="1.15"/><circle cx="641.5" cy="312.5" r="1.15"/><circle cx="638.2" cy="309.8" r="1.15"/><circle cx="638.4" cy="309.4" r="1.15"/><circle cx="637.3" cy="310.3" r="1.15"/><circle cx="637.2" cy="316.3" r="1.15"/><circle cx="640.5" cy="309.8" r="1.15"/><circle cx="638.0" cy="312.5" r="1.15"/><circle cx="638.3" cy="308.6" r="1.15"/><circle cx="634.6" cy="313.1" r="1.15"/><circle cx="637.3" cy="309.0" r="1.15"/><circle cx="636.4" cy="315.9" r="1.15"/><circle cx="637.3" cy="311.8" r="1.15"/><circle cx="639.5" cy="310.0" r="1.15"/><circle cx="640.1" cy="311.0" r="1.15"/><circle cx="636.0" cy="310.7" r="1.15"/><circle cx="641.1" cy="313.8" r="1.15"/><circle cx="637.5" cy="318.5" r="1.15"/><circle cx="634.7" cy="305.2" r="1.15"/><circle cx="636.7" cy="314.3" r="1.15"/><circle cx="636.5" cy="307.4" r="1.15"/><circle cx="639.7" cy="309.9" r="1.15"/><circle cx="638.3" cy="308.7" r="1.15"/><circle cx="637.0" cy="316.4" r="1.15"/><circle cx="636.3" cy="310.3" r="1.15"/><circle cx="638.4" cy="311.9" r="1.15"/><circle cx="636.5" cy="314.2" r="1.15"/><circle cx="635.6" cy="313.2" r="1.15"/><circle cx="637.0" cy="313.6" r="1.15"/><circle cx="638.0" cy="315.9" r="1.15"/><circle cx="642.5" cy="308.4" r="1.15"/><circle cx="639.2" cy="309.7" r="1.15"/><circle cx="655.5" cy="320.2" r="1.15"/><circle cx="643.0" cy="337.5" r="1.15"/><circle cx="649.9" cy="363.9" r="1.15"/></g>
<g fill="#84f9b6"><circle cx="642.0" cy="320.1" r="1.15"/><circle cx="644.2" cy="315.9" r="1.15"/><circle cx="643.3" cy="318.2" r="1.15"/><circle cx="644.1" cy="318.9" r="1.15"/><circle cx="644.1" cy="319.8" r="1.15"/><circle cx="640.0" cy="319.8" r="1.15"/><circle cx="642.5" cy="315.2" r="1.15"/><circle cx="640.3" cy="317.6" r="1.15"/><circle cx="643.1" cy="317.3" r="1.15"/><circle cx="645.0" cy="319.4" r="1.15"/><circle cx="644.1" cy="321.6" r="1.15"/><circle cx="639.2" cy="321.1" r="1.15"/><circle cx="641.8" cy="316.9" r="1.15"/><circle cx="642.8" cy="319.1" r="1.15"/><circle cx="644.0" cy="319.8" r="1.15"/><circle cx="642.4" cy="315.9" r="1.15"/><circle cx="640.7" cy="317.2" r="1.15"/><circle cx="644.5" cy="319.7" r="1.15"/><circle cx="643.4" cy="319.1" r="1.15"/><circle cx="643.6" cy="317.4" r="1.15"/><circle cx="641.8" cy="316.9" r="1.15"/><circle cx="643.0" cy="320.9" r="1.15"/><circle cx="639.3" cy="316.3" r="1.15"/><circle cx="641.7" cy="318.0" r="1.15"/><circle cx="644.5" cy="318.6" r="1.15"/><circle cx="643.7" cy="319.7" r="1.15"/><circle cx="643.0" cy="319.0" r="1.15"/><circle cx="642.9" cy="315.8" r="1.15"/><circle cx="640.6" cy="320.3" r="1.15"/><circle cx="642.7" cy="318.2" r="1.15"/><circle cx="644.9" cy="316.9" r="1.15"/><circle cx="640.9" cy="316.5" r="1.15"/><circle cx="643.7" cy="316.0" r="1.15"/><circle cx="643.4" cy="316.9" r="1.15"/><circle cx="643.4" cy="321.4" r="1.15"/></g>
<g fill="#84f9b6"><circle cx="650.6" cy="326.9" r="1.15"/><circle cx="650.4" cy="325.4" r="1.15"/><circle cx="647.6" cy="327.6" r="1.15"/><circle cx="650.2" cy="334.3" r="1.15"/><circle cx="648.5" cy="330.0" r="1.15"/><circle cx="649.3" cy="332.7" r="1.15"/><circle cx="650.1" cy="332.1" r="1.15"/><circle cx="648.4" cy="326.8" r="1.15"/><circle cx="650.7" cy="335.1" r="1.15"/><circle cx="649.0" cy="330.1" r="1.15"/><circle cx="649.4" cy="328.7" r="1.15"/><circle cx="651.5" cy="336.2" r="1.15"/><circle cx="648.7" cy="332.2" r="1.15"/><circle cx="649.0" cy="328.8" r="1.15"/><circle cx="648.7" cy="331.0" r="1.15"/><circle cx="648.7" cy="325.9" r="1.15"/><circle cx="649.1" cy="332.9" r="1.15"/><circle cx="648.8" cy="328.3" r="1.15"/><circle cx="651.6" cy="323.6" r="1.15"/><circle cx="649.9" cy="332.1" r="1.15"/><circle cx="649.6" cy="331.6" r="1.15"/><circle cx="648.7" cy="338.1" r="1.15"/><circle cx="647.9" cy="326.6" r="1.15"/><circle cx="648.8" cy="334.7" r="1.15"/><circle cx="649.5" cy="332.4" r="1.15"/><circle cx="648.6" cy="330.7" r="1.15"/><circle cx="648.7" cy="329.4" r="1.15"/><circle cx="649.8" cy="334.6" r="1.15"/><circle cx="650.6" cy="334.2" r="1.15"/><circle cx="649.6" cy="329.7" r="1.15"/><circle cx="649.2" cy="330.4" r="1.15"/><circle cx="649.4" cy="334.8" r="1.15"/><circle cx="647.9" cy="337.1" r="1.15"/><circle cx="650.9" cy="332.1" r="1.15"/><circle cx="648.5" cy="333.6" r="1.15"/><circle cx="650.0" cy="333.9" r="1.15"/><circle cx="646.8" cy="328.1" r="1.15"/><circle cx="650.6" cy="329.1" r="1.15"/><circle cx="650.5" cy="332.6" r="1.15"/><circle cx="649.1" cy="327.6" r="1.15"/><circle cx="648.6" cy="332.9" r="1.15"/><circle cx="650.8" cy="326.9" r="1.15"/><circle cx="647.8" cy="332.9" r="1.15"/><circle cx="650.9" cy="333.0" r="1.15"/><circle cx="650.8" cy="327.6" r="1.15"/><circle cx="648.8" cy="328.0" r="1.15"/><circle cx="647.3" cy="333.3" r="1.15"/><circle cx="648.3" cy="331.7" r="1.15"/><circle cx="650.1" cy="334.4" r="1.15"/><circle cx="648.0" cy="335.5" r="1.15"/></g>
<g fill="#ff964f"><circle cx="656.3" cy="330.6" r="1.15"/><circle cx="656.0" cy="331.4" r="1.15"/><circle cx="655.5" cy="332.2" r="1.15"/><circle cx="655.0" cy="333.2" r="1.15"/><circle cx="654.7" cy="334.0" r="1.15"/></g>
<g fill="#1c92f2"><circle cx="650.1" cy="342.1" r="1.15"/><circle cx="650.5" cy="340.8" r="1.15"/><circle cx="653.8" cy="341.5" r="1.15"/><circle cx="654.9" cy="341.3" r="1.15"/><circle cx="649.9" cy="339.5" r="1.15"/><circle cx="649.5" cy="342.8" r="1.15"/><circle cx="651.1" cy="340.7" r="1.15"/><circle cx="655.3" cy="341.1" r="1.15"/><circle cx="655.7" cy="340.0" r="1.15"/><circle cx="655.1" cy="340.8" r="1.15"/><circle cx="651.4" cy="339.6" r="1.15"/><circle cx="654.1" cy="338.0" r="1.15"/><circle cx="653.7" cy="340.3" r="1.15"/><circle cx="652.0" cy="337.8" r="1.15"/></g>
<g fill="#1dcce2"><circle cx="655.8" cy="370.6" r="1.15"/></g>
<g fill="#ff5028"><circle cx="620.3" cy="466.2" r="1.15"/><circle cx="621.2" cy="468.5" r="1.15"/><circle cx="621.7" cy="466.9" r="1.15"/><circle cx="619.9" cy="466.4" r="1.15"/><circle cx="621.2" cy="467.8" r="1.15"/><circle cx="620.7" cy="467.5" r="1.15"/></g>
<g fill="#84f9b6"><circle cx="618.0" cy="471.0" r="1.15"/></g>
<g fill="#5052fb"><circle cx="525.0" cy="451.6" r="1.15"/></g>
<g fill="#c8f080"><circle cx="642.0" cy="451.0" r="1.15"/></g>
<g fill="#ff964f"><circle cx="662.4" cy="409.4" r="1.15"/></g>
<polygon points="479.1,469.1 482.1,468.1 484.7,468.3 485.2,469.9 483.9,471.2 483.8,476.3 483.9,479 482.1,480 480.5,479 479.9,476.6 477.8,475.5 477.2,473.4 477.8,471.5 479.1,470.7" fill="#ff964f" stroke="#ff964f" stroke-width="0.8" stroke-linejoin="round"/>
<polygon points="559.4,354.7 560.6,358.3 564.4,358.4 561.3,360.6 562.5,364.3 559.4,362.1 556.3,364.3 557.5,360.6 554.4,358.4 558.2,358.3" fill="#ffff00" stroke="#008000" stroke-width="1.1" stroke-linejoin="miter"/>
<polygon points="512.4,396.7 513.6,400.3 517.4,400.4 514.3,402.6 515.5,406.3 512.4,404.1 509.3,406.3 510.5,402.6 507.4,400.4 511.2,400.3" fill="#ffff00" stroke="#008000" stroke-width="1.1" stroke-linejoin="miter"/>
<polygon points="534.4,399.7 535.6,403.3 539.4,403.4 536.3,405.6 537.5,409.3 534.4,407.1 531.3,409.3 532.5,405.6 529.4,403.4 533.2,403.3" fill="#ffff00" stroke="#008000" stroke-width="1.1" stroke-linejoin="miter"/>
<polygon points="568.4,394.7 569.6,398.3 573.4,398.4 570.3,400.6 571.5,404.3 568.4,402.1 565.3,404.3 566.5,400.6 563.4,398.4 567.2,398.3" fill="#ffff00" stroke="#008000" stroke-width="1.1" stroke-linejoin="miter"/>
<polygon points="557.4,410.1 558.6,413.7 562.4,413.8 559.3,416.0 560.5,419.7 557.4,417.4 554.3,419.7 555.5,416.0 552.4,413.8 556.2,413.7" fill="#ffff00" stroke="#008000" stroke-width="1.1" stroke-linejoin="miter"/>
<polygon points="540.4,420.7 541.6,424.3 545.4,424.4 542.3,426.6 543.5,430.3 540.4,428.1 537.3,430.3 538.5,426.6 535.4,424.4 539.2,424.3" fill="#ffff00" stroke="#008000" stroke-width="1.1" stroke-linejoin="miter"/>
<polygon points="508.4,430.7 509.6,434.3 513.4,434.4 510.3,436.6 511.5,440.3 508.4,438.1 505.3,440.3 506.5,436.6 503.4,434.4 507.2,434.3" fill="#ffff00" stroke="#008000" stroke-width="1.1" stroke-linejoin="miter"/>
<polygon points="573.6,441.7 574.8,445.3 578.6,445.4 575.5,447.6 576.7,451.3 573.6,449.1 570.5,451.3 571.7,447.6 568.6,445.4 572.4,445.3" fill="#ffff00" stroke="#008000" stroke-width="1.1" stroke-linejoin="miter"/>
<polygon points="510.4,452.7 511.6,456.3 515.4,456.4 512.3,458.6 513.5,462.3 510.4,460.1 507.3,462.3 508.5,458.6 505.4,456.4 509.2,456.3" fill="#ffff00" stroke="#008000" stroke-width="1.1" stroke-linejoin="miter"/>
<polygon points="537.4,450.1 538.6,453.7 542.4,453.8 539.3,456.0 540.5,459.7 537.4,457.4 534.3,459.7 535.5,456.0 532.4,453.8 536.2,453.7" fill="#ffff00" stroke="#008000" stroke-width="1.1" stroke-linejoin="miter"/>
<polygon points="546.4,468.1 547.6,471.7 551.4,471.8 548.3,474.0 549.5,477.7 546.4,475.4 543.3,477.7 544.5,474.0 541.4,471.8 545.2,471.7" fill="#ffff00" stroke="#008000" stroke-width="1.1" stroke-linejoin="miter"/>
<polygon points="546.4,514.7 547.6,518.3 551.4,518.4 548.3,520.6 549.5,524.3 546.4,522.0 543.3,524.3 544.5,520.6 541.4,518.4 545.2,518.3" fill="#ffff00" stroke="#008000" stroke-width="1.1" stroke-linejoin="miter"/>
</g>
<line x1="242" x2="752" y1="87.6" y2="87.6" stroke="#5a5a5a" stroke-width="1"/>
<line x1="242" x2="752" y1="122.4" y2="122.4" stroke="#5a5a5a" stroke-width="1"/>
<g fill="#1dcce2"><circle cx="290.7" cy="61.7" r="1.15"/></g>
<g fill="#5052fb"><circle cx="525.0" cy="58.3" r="1.15"/></g>
<g fill="#5052fb"><circle cx="382.9" cy="64.9" r="1.15"/><circle cx="393.2" cy="69.8" r="1.15"/><circle cx="392.9" cy="77.9" r="1.15"/><circle cx="381.6" cy="93.6" r="1.15"/><circle cx="368.8" cy="101.0" r="1.15"/><circle cx="391.7" cy="101.2" r="1.15"/><circle cx="379.0" cy="106.4" r="1.15"/><circle cx="389.7" cy="108.2" r="1.15"/><circle cx="384.4" cy="112.9" r="1.15"/><circle cx="387.4" cy="112.4" r="1.15"/><circle cx="392.5" cy="112.9" r="1.15"/><circle cx="377.5" cy="120.5" r="1.15"/><circle cx="378.3" cy="122.8" r="1.15"/><circle cx="367.9" cy="123.1" r="1.15"/><circle cx="373.0" cy="125.4" r="1.15"/><circle cx="374.5" cy="127.8" r="1.15"/><circle cx="376.0" cy="127.4" r="1.15"/><circle cx="379.5" cy="129.4" r="1.15"/><circle cx="381.3" cy="129.7" r="1.15"/><circle cx="387.1" cy="126.3" r="1.15"/><circle cx="388.2" cy="127.8" r="1.15"/><circle cx="397.3" cy="132.0" r="1.15"/></g>
<g fill="#5052fb"><circle cx="391.5" cy="111.2" r="1.15"/><circle cx="397.0" cy="115.4" r="1.15"/><circle cx="390.8" cy="113.9" r="1.15"/><circle cx="393.5" cy="113.4" r="1.15"/><circle cx="387.6" cy="117.3" r="1.15"/><circle cx="393.4" cy="113.6" r="1.15"/><circle cx="393.3" cy="116.2" r="1.15"/><circle cx="398.8" cy="112.4" r="1.15"/><circle cx="399.0" cy="117.0" r="1.15"/><circle cx="392.7" cy="113.2" r="1.15"/><circle cx="395.5" cy="113.8" r="1.15"/><circle cx="390.5" cy="111.4" r="1.15"/><circle cx="399.0" cy="121.7" r="1.15"/><circle cx="397.6" cy="122.1" r="1.15"/><circle cx="388.3" cy="112.5" r="1.15"/><circle cx="391.5" cy="123.8" r="1.15"/><circle cx="393.7" cy="121.6" r="1.15"/><circle cx="389.0" cy="118.6" r="1.15"/><circle cx="395.4" cy="122.9" r="1.15"/><circle cx="396.7" cy="114.4" r="1.15"/><circle cx="397.6" cy="114.2" r="1.15"/><circle cx="396.7" cy="119.0" r="1.15"/><circle cx="388.4" cy="119.5" r="1.15"/><circle cx="392.9" cy="124.8" r="1.15"/><circle cx="386.5" cy="113.4" r="1.15"/><circle cx="399.1" cy="123.0" r="1.15"/><circle cx="387.9" cy="114.4" r="1.15"/><circle cx="393.1" cy="113.3" r="1.15"/><circle cx="390.2" cy="111.8" r="1.15"/><circle cx="395.4" cy="112.2" r="1.15"/><circle cx="399.2" cy="124.3" r="1.15"/><circle cx="396.5" cy="122.1" r="1.15"/><circle cx="390.8" cy="120.8" r="1.15"/><circle cx="396.1" cy="118.0" r="1.15"/><circle cx="386.7" cy="120.0" r="1.15"/><circle cx="390.3" cy="119.8" r="1.15"/><circle cx="391.5" cy="124.7" r="1.15"/><circle cx="395.3" cy="119.0" r="1.15"/></g>
<g fill="#1dcce2"><circle cx="384.4" cy="69.8" r="1.15"/><circle cx="405.0" cy="119.8" r="1.15"/></g>
<g fill="#ff964f"><circle cx="397.8" cy="107.6" r="1.15"/><circle cx="398.6" cy="108.3" r="1.15"/><circle cx="403.9" cy="117.0" r="1.15"/><circle cx="393.8" cy="128.9" r="1.15"/><circle cx="393.2" cy="134.7" r="1.15"/><circle cx="399.0" cy="134.4" r="1.15"/><circle cx="404.6" cy="132.6" r="1.15"/></g>
<g fill="#1dcce2"><circle cx="436.6" cy="72.5" r="1.15"/><circle cx="442.0" cy="77.9" r="1.15"/><circle cx="434.7" cy="85.3" r="1.15"/><circle cx="417.1" cy="93.6" r="1.15"/><circle cx="428.3" cy="92.6" r="1.15"/><circle cx="433.9" cy="94.2" r="1.15"/><circle cx="438.2" cy="94.0" r="1.15"/><circle cx="441.2" cy="93.6" r="1.15"/><circle cx="440.0" cy="96.6" r="1.15"/><circle cx="419.1" cy="98.1" r="1.15"/><circle cx="422.0" cy="99.0" r="1.15"/><circle cx="446.9" cy="100.0" r="1.15"/><circle cx="420.2" cy="103.9" r="1.15"/></g>
<g fill="#1dcce2"><circle cx="421.7" cy="120.2" r="1.15"/><circle cx="425.7" cy="113.4" r="1.15"/><circle cx="435.6" cy="106.2" r="1.15"/><circle cx="416.4" cy="117.3" r="1.15"/><circle cx="437.8" cy="105.4" r="1.15"/><circle cx="432.6" cy="109.0" r="1.15"/><circle cx="445.6" cy="114.0" r="1.15"/><circle cx="445.7" cy="111.5" r="1.15"/><circle cx="431.7" cy="111.8" r="1.15"/><circle cx="435.1" cy="108.9" r="1.15"/><circle cx="439.6" cy="108.1" r="1.15"/><circle cx="433.7" cy="110.6" r="1.15"/><circle cx="426.1" cy="116.0" r="1.15"/><circle cx="428.1" cy="112.6" r="1.15"/><circle cx="438.7" cy="103.8" r="1.15"/><circle cx="425.0" cy="112.2" r="1.15"/><circle cx="433.3" cy="105.2" r="1.15"/><circle cx="418.0" cy="117.9" r="1.15"/><circle cx="418.3" cy="112.7" r="1.15"/><circle cx="430.0" cy="109.1" r="1.15"/><circle cx="439.9" cy="108.3" r="1.15"/><circle cx="416.4" cy="120.6" r="1.15"/><circle cx="437.1" cy="103.4" r="1.15"/><circle cx="417.5" cy="115.5" r="1.15"/><circle cx="431.4" cy="110.6" r="1.15"/><circle cx="444.7" cy="107.3" r="1.15"/><circle cx="419.0" cy="118.9" r="1.15"/><circle cx="418.8" cy="116.9" r="1.15"/><circle cx="443.1" cy="112.1" r="1.15"/><circle cx="418.9" cy="118.7" r="1.15"/><circle cx="441.7" cy="110.8" r="1.15"/><circle cx="419.2" cy="116.8" r="1.15"/><circle cx="423.1" cy="111.3" r="1.15"/><circle cx="446.5" cy="118.2" r="1.15"/><circle cx="418.6" cy="114.2" r="1.15"/><circle cx="437.5" cy="108.4" r="1.15"/><circle cx="443.0" cy="111.2" r="1.15"/><circle cx="437.3" cy="104.9" r="1.15"/><circle cx="433.5" cy="108.9" r="1.15"/><circle cx="442.7" cy="114.2" r="1.15"/><circle cx="440.5" cy="107.2" r="1.15"/><circle cx="417.8" cy="119.7" r="1.15"/><circle cx="421.1" cy="113.7" r="1.15"/><circle cx="421.5" cy="114.0" r="1.15"/><circle cx="424.3" cy="112.2" r="1.15"/><circle cx="426.0" cy="113.6" r="1.15"/><circle cx="419.4" cy="117.2" r="1.15"/><circle cx="442.1" cy="110.8" r="1.15"/><circle cx="429.7" cy="111.3" r="1.15"/><circle cx="447.1" cy="110.6" r="1.15"/><circle cx="445.3" cy="111.4" r="1.15"/><circle cx="441.0" cy="107.7" r="1.15"/><circle cx="424.4" cy="108.7" r="1.15"/><circle cx="437.2" cy="107.3" r="1.15"/><circle cx="426.3" cy="111.5" r="1.15"/><circle cx="429.2" cy="106.0" r="1.15"/><circle cx="434.9" cy="102.4" r="1.15"/><circle cx="445.7" cy="112.4" r="1.15"/><circle cx="446.5" cy="110.8" r="1.15"/><circle cx="430.4" cy="106.4" r="1.15"/><circle cx="421.0" cy="116.2" r="1.15"/><circle cx="437.7" cy="109.3" r="1.15"/><circle cx="445.5" cy="115.5" r="1.15"/><circle cx="439.0" cy="103.6" r="1.15"/><circle cx="435.0" cy="106.1" r="1.15"/><circle cx="447.8" cy="110.6" r="1.15"/><circle cx="423.9" cy="112.0" r="1.15"/><circle cx="431.3" cy="111.5" r="1.15"/><circle cx="427.9" cy="113.6" r="1.15"/><circle cx="425.6" cy="111.2" r="1.15"/><circle cx="437.1" cy="102.2" r="1.15"/><circle cx="429.8" cy="112.2" r="1.15"/><circle cx="427.5" cy="111.8" r="1.15"/><circle cx="430.2" cy="106.6" r="1.15"/><circle cx="438.3" cy="102.6" r="1.15"/><circle cx="438.3" cy="105.9" r="1.15"/><circle cx="433.8" cy="101.2" r="1.15"/><circle cx="440.7" cy="106.9" r="1.15"/><circle cx="431.1" cy="104.7" r="1.15"/><circle cx="443.2" cy="111.9" r="1.15"/><circle cx="431.0" cy="109.0" r="1.15"/><circle cx="429.2" cy="105.9" r="1.15"/><circle cx="423.4" cy="109.2" r="1.15"/><circle cx="423.3" cy="113.4" r="1.15"/><circle cx="440.6" cy="106.0" r="1.15"/><circle cx="427.1" cy="108.8" r="1.15"/><circle cx="418.6" cy="119.2" r="1.15"/><circle cx="432.2" cy="109.5" r="1.15"/><circle cx="422.0" cy="111.5" r="1.15"/><circle cx="437.1" cy="105.3" r="1.15"/><circle cx="443.5" cy="111.1" r="1.15"/><circle cx="417.6" cy="115.3" r="1.15"/><circle cx="447.3" cy="116.4" r="1.15"/><circle cx="435.0" cy="104.3" r="1.15"/><circle cx="444.3" cy="112.1" r="1.15"/><circle cx="425.6" cy="113.7" r="1.15"/><circle cx="439.7" cy="103.3" r="1.15"/><circle cx="423.3" cy="115.3" r="1.15"/><circle cx="416.2" cy="120.0" r="1.15"/><circle cx="436.3" cy="103.1" r="1.15"/><circle cx="446.5" cy="115.5" r="1.15"/><circle cx="419.0" cy="118.3" r="1.15"/><circle cx="438.6" cy="107.7" r="1.15"/><circle cx="438.9" cy="104.9" r="1.15"/><circle cx="422.4" cy="115.3" r="1.15"/><circle cx="444.3" cy="110.2" r="1.15"/><circle cx="448.1" cy="110.5" r="1.15"/><circle cx="427.7" cy="110.9" r="1.15"/><circle cx="423.3" cy="114.2" r="1.15"/><circle cx="440.3" cy="107.0" r="1.15"/><circle cx="437.7" cy="106.8" r="1.15"/><circle cx="420.7" cy="110.7" r="1.15"/><circle cx="418.4" cy="114.6" r="1.15"/><circle cx="445.4" cy="113.8" r="1.15"/><circle cx="423.7" cy="113.2" r="1.15"/><circle cx="421.1" cy="113.7" r="1.15"/><circle cx="436.6" cy="106.4" r="1.15"/><circle cx="422.8" cy="112.8" r="1.15"/><circle cx="437.8" cy="106.2" r="1.15"/><circle cx="445.9" cy="116.2" r="1.15"/><circle cx="434.1" cy="108.3" r="1.15"/><circle cx="426.6" cy="115.4" r="1.15"/><circle cx="439.7" cy="110.3" r="1.15"/><circle cx="422.6" cy="110.1" r="1.15"/><circle cx="439.5" cy="112.2" r="1.15"/><circle cx="439.8" cy="108.2" r="1.15"/><circle cx="427.2" cy="113.3" r="1.15"/><circle cx="442.6" cy="106.2" r="1.15"/><circle cx="431.5" cy="112.2" r="1.15"/><circle cx="438.4" cy="104.6" r="1.15"/><circle cx="441.4" cy="108.2" r="1.15"/><circle cx="429.7" cy="110.9" r="1.15"/><circle cx="444.6" cy="108.6" r="1.15"/><circle cx="432.1" cy="107.8" r="1.15"/><circle cx="432.5" cy="106.2" r="1.15"/><circle cx="437.7" cy="106.7" r="1.15"/><circle cx="422.1" cy="113.8" r="1.15"/><circle cx="443.2" cy="108.1" r="1.15"/><circle cx="420.1" cy="110.5" r="1.15"/><circle cx="424.0" cy="115.0" r="1.15"/><circle cx="445.1" cy="116.2" r="1.15"/><circle cx="427.6" cy="110.2" r="1.15"/><circle cx="438.0" cy="109.6" r="1.15"/><circle cx="417.6" cy="115.7" r="1.15"/><circle cx="433.7" cy="108.8" r="1.15"/><circle cx="421.8" cy="115.6" r="1.15"/><circle cx="437.8" cy="104.8" r="1.15"/><circle cx="443.2" cy="111.2" r="1.15"/><circle cx="437.6" cy="111.4" r="1.15"/><circle cx="431.9" cy="109.0" r="1.15"/><circle cx="444.1" cy="113.8" r="1.15"/><circle cx="429.5" cy="108.6" r="1.15"/><circle cx="425.3" cy="113.7" r="1.15"/><circle cx="426.5" cy="108.8" r="1.15"/><circle cx="425.4" cy="112.1" r="1.15"/><circle cx="419.2" cy="117.4" r="1.15"/><circle cx="423.5" cy="112.8" r="1.15"/><circle cx="436.1" cy="107.2" r="1.15"/><circle cx="430.4" cy="111.1" r="1.15"/><circle cx="422.8" cy="107.5" r="1.15"/><circle cx="445.1" cy="112.1" r="1.15"/><circle cx="440.1" cy="109.4" r="1.15"/><circle cx="439.5" cy="104.3" r="1.15"/><circle cx="432.5" cy="108.5" r="1.15"/><circle cx="424.7" cy="117.6" r="1.15"/><circle cx="437.8" cy="106.4" r="1.15"/><circle cx="432.1" cy="106.4" r="1.15"/><circle cx="436.0" cy="108.1" r="1.15"/><circle cx="420.2" cy="112.4" r="1.15"/><circle cx="440.3" cy="107.6" r="1.15"/><circle cx="425.4" cy="114.6" r="1.15"/><circle cx="431.5" cy="108.7" r="1.15"/><circle cx="437.7" cy="106.7" r="1.15"/><circle cx="431.0" cy="112.4" r="1.15"/><circle cx="435.2" cy="106.6" r="1.15"/><circle cx="434.9" cy="107.7" r="1.15"/><circle cx="424.8" cy="113.1" r="1.15"/><circle cx="443.6" cy="109.4" r="1.15"/><circle cx="416.7" cy="119.3" r="1.15"/><circle cx="432.5" cy="102.0" r="1.15"/><circle cx="438.8" cy="105.9" r="1.15"/><circle cx="436.5" cy="105.1" r="1.15"/><circle cx="416.1" cy="110.0" r="1.15"/><circle cx="439.5" cy="111.2" r="1.15"/><circle cx="426.8" cy="113.6" r="1.15"/><circle cx="445.0" cy="107.2" r="1.15"/><circle cx="417.5" cy="120.3" r="1.15"/><circle cx="426.5" cy="108.7" r="1.15"/><circle cx="443.4" cy="107.2" r="1.15"/><circle cx="446.0" cy="113.6" r="1.15"/><circle cx="436.8" cy="105.6" r="1.15"/><circle cx="428.9" cy="110.7" r="1.15"/><circle cx="421.1" cy="112.1" r="1.15"/><circle cx="433.4" cy="107.7" r="1.15"/><circle cx="438.0" cy="108.7" r="1.15"/><circle cx="431.3" cy="108.5" r="1.15"/><circle cx="437.9" cy="106.3" r="1.15"/><circle cx="448.1" cy="113.5" r="1.15"/><circle cx="429.3" cy="107.0" r="1.15"/><circle cx="436.8" cy="102.3" r="1.15"/><circle cx="423.8" cy="111.4" r="1.15"/><circle cx="446.3" cy="108.2" r="1.15"/><circle cx="440.2" cy="107.3" r="1.15"/><circle cx="440.3" cy="108.5" r="1.15"/><circle cx="437.8" cy="98.7" r="1.15"/><circle cx="440.4" cy="108.1" r="1.15"/><circle cx="440.8" cy="105.5" r="1.15"/><circle cx="437.5" cy="107.2" r="1.15"/><circle cx="437.7" cy="104.3" r="1.15"/><circle cx="441.9" cy="108.5" r="1.15"/><circle cx="423.9" cy="111.2" r="1.15"/><circle cx="433.8" cy="105.2" r="1.15"/><circle cx="447.2" cy="117.5" r="1.15"/><circle cx="434.9" cy="111.6" r="1.15"/><circle cx="447.6" cy="112.6" r="1.15"/><circle cx="426.9" cy="110.2" r="1.15"/><circle cx="445.2" cy="105.8" r="1.15"/><circle cx="442.1" cy="103.3" r="1.15"/><circle cx="433.3" cy="107.0" r="1.15"/><circle cx="444.7" cy="112.4" r="1.15"/><circle cx="416.9" cy="118.6" r="1.15"/><circle cx="417.2" cy="118.6" r="1.15"/><circle cx="420.8" cy="118.9" r="1.15"/><circle cx="423.3" cy="105.3" r="1.15"/><circle cx="417.3" cy="115.9" r="1.15"/><circle cx="422.5" cy="117.5" r="1.15"/><circle cx="446.5" cy="113.3" r="1.15"/><circle cx="416.5" cy="122.2" r="1.15"/><circle cx="445.9" cy="113.0" r="1.15"/><circle cx="430.5" cy="104.2" r="1.15"/><circle cx="439.0" cy="104.0" r="1.15"/><circle cx="423.7" cy="113.7" r="1.15"/><circle cx="433.8" cy="102.5" r="1.15"/><circle cx="439.7" cy="105.4" r="1.15"/><circle cx="437.2" cy="108.8" r="1.15"/><circle cx="444.8" cy="107.3" r="1.15"/><circle cx="440.5" cy="108.0" r="1.15"/><circle cx="432.6" cy="109.1" r="1.15"/><circle cx="430.7" cy="107.5" r="1.15"/><circle cx="447.4" cy="112.7" r="1.15"/><circle cx="440.5" cy="107.5" r="1.15"/><circle cx="422.7" cy="115.5" r="1.15"/><circle cx="419.5" cy="115.8" r="1.15"/><circle cx="419.7" cy="116.2" r="1.15"/><circle cx="436.6" cy="106.9" r="1.15"/><circle cx="428.5" cy="109.7" r="1.15"/><circle cx="437.9" cy="107.1" r="1.15"/><circle cx="423.4" cy="112.2" r="1.15"/><circle cx="436.9" cy="101.2" r="1.15"/><circle cx="442.4" cy="108.9" r="1.15"/></g>
<g fill="#1dcce2"><circle cx="428.7" cy="113.4" r="1.15"/><circle cx="429.6" cy="122.0" r="1.15"/><circle cx="427.3" cy="118.4" r="1.15"/><circle cx="427.6" cy="113.7" r="1.15"/><circle cx="429.5" cy="113.7" r="1.15"/><circle cx="420.0" cy="115.4" r="1.15"/><circle cx="426.9" cy="116.5" r="1.15"/><circle cx="422.3" cy="117.5" r="1.15"/><circle cx="427.9" cy="120.6" r="1.15"/><circle cx="429.3" cy="115.5" r="1.15"/><circle cx="417.2" cy="113.8" r="1.15"/><circle cx="418.1" cy="119.7" r="1.15"/><circle cx="417.7" cy="119.8" r="1.15"/><circle cx="416.4" cy="119.2" r="1.15"/><circle cx="420.1" cy="118.8" r="1.15"/><circle cx="428.0" cy="118.9" r="1.15"/><circle cx="417.5" cy="113.1" r="1.15"/><circle cx="422.2" cy="121.2" r="1.15"/><circle cx="423.5" cy="115.3" r="1.15"/><circle cx="423.6" cy="120.4" r="1.15"/><circle cx="419.5" cy="114.0" r="1.15"/><circle cx="430.4" cy="116.8" r="1.15"/><circle cx="423.1" cy="115.7" r="1.15"/><circle cx="420.1" cy="120.8" r="1.15"/><circle cx="428.6" cy="115.2" r="1.15"/><circle cx="427.4" cy="121.3" r="1.15"/><circle cx="422.7" cy="121.9" r="1.15"/><circle cx="417.8" cy="120.6" r="1.15"/><circle cx="429.3" cy="115.2" r="1.15"/><circle cx="420.6" cy="115.4" r="1.15"/><circle cx="418.5" cy="120.3" r="1.15"/><circle cx="427.0" cy="120.1" r="1.15"/><circle cx="426.2" cy="115.3" r="1.15"/><circle cx="417.7" cy="115.3" r="1.15"/><circle cx="428.4" cy="113.1" r="1.15"/><circle cx="424.5" cy="115.8" r="1.15"/><circle cx="420.8" cy="116.0" r="1.15"/><circle cx="425.4" cy="114.4" r="1.15"/><circle cx="418.8" cy="120.7" r="1.15"/><circle cx="427.9" cy="116.2" r="1.15"/></g>
<g fill="#1dcce2"><circle cx="433.5" cy="123.1" r="1.15"/><circle cx="436.6" cy="125.6" r="1.15"/><circle cx="434.4" cy="123.7" r="1.15"/><circle cx="434.0" cy="124.6" r="1.15"/><circle cx="434.7" cy="116.3" r="1.15"/><circle cx="435.5" cy="126.6" r="1.15"/><circle cx="434.6" cy="117.9" r="1.15"/><circle cx="433.8" cy="118.3" r="1.15"/><circle cx="436.2" cy="124.9" r="1.15"/><circle cx="433.7" cy="119.6" r="1.15"/><circle cx="433.0" cy="121.3" r="1.15"/><circle cx="436.8" cy="125.2" r="1.15"/><circle cx="436.7" cy="116.9" r="1.15"/><circle cx="436.6" cy="127.1" r="1.15"/><circle cx="436.1" cy="117.5" r="1.15"/><circle cx="436.4" cy="127.9" r="1.15"/><circle cx="435.8" cy="122.2" r="1.15"/><circle cx="433.9" cy="126.7" r="1.15"/><circle cx="435.1" cy="119.9" r="1.15"/><circle cx="432.8" cy="116.2" r="1.15"/></g>
<g fill="#1dcce2"><circle cx="435.8" cy="129.3" r="1.15"/><circle cx="417.6" cy="129.6" r="1.15"/><circle cx="428.1" cy="141.5" r="1.15"/><circle cx="428.5" cy="125.7" r="1.15"/><circle cx="439.8" cy="137.7" r="1.15"/><circle cx="430.8" cy="142.7" r="1.15"/><circle cx="426.3" cy="131.4" r="1.15"/><circle cx="415.1" cy="138.2" r="1.15"/><circle cx="413.6" cy="131.9" r="1.15"/><circle cx="427.3" cy="132.0" r="1.15"/><circle cx="414.7" cy="137.0" r="1.15"/><circle cx="423.3" cy="132.2" r="1.15"/><circle cx="440.1" cy="127.3" r="1.15"/><circle cx="429.7" cy="128.7" r="1.15"/><circle cx="432.9" cy="134.8" r="1.15"/><circle cx="434.7" cy="124.9" r="1.15"/><circle cx="433.6" cy="137.4" r="1.15"/><circle cx="438.5" cy="133.9" r="1.15"/><circle cx="442.6" cy="126.2" r="1.15"/><circle cx="415.3" cy="137.1" r="1.15"/><circle cx="444.5" cy="125.9" r="1.15"/><circle cx="431.2" cy="142.6" r="1.15"/><circle cx="421.8" cy="127.4" r="1.15"/><circle cx="436.3" cy="140.4" r="1.15"/><circle cx="422.5" cy="135.3" r="1.15"/><circle cx="431.0" cy="126.0" r="1.15"/><circle cx="429.7" cy="135.1" r="1.15"/><circle cx="437.4" cy="127.0" r="1.15"/><circle cx="431.0" cy="123.9" r="1.15"/><circle cx="444.9" cy="123.3" r="1.15"/><circle cx="430.6" cy="126.7" r="1.15"/><circle cx="422.1" cy="131.7" r="1.15"/><circle cx="421.4" cy="128.6" r="1.15"/><circle cx="423.2" cy="133.8" r="1.15"/><circle cx="443.9" cy="127.4" r="1.15"/><circle cx="418.9" cy="123.8" r="1.15"/><circle cx="439.9" cy="126.1" r="1.15"/><circle cx="427.5" cy="137.6" r="1.15"/><circle cx="430.3" cy="139.0" r="1.15"/><circle cx="432.3" cy="136.3" r="1.15"/><circle cx="432.1" cy="132.6" r="1.15"/><circle cx="413.7" cy="126.4" r="1.15"/><circle cx="428.7" cy="124.6" r="1.15"/><circle cx="432.4" cy="127.0" r="1.15"/><circle cx="435.2" cy="131.8" r="1.15"/><circle cx="434.4" cy="128.6" r="1.15"/><circle cx="417.3" cy="137.5" r="1.15"/><circle cx="439.7" cy="127.5" r="1.15"/><circle cx="437.4" cy="139.8" r="1.15"/><circle cx="438.6" cy="132.0" r="1.15"/><circle cx="442.4" cy="135.3" r="1.15"/><circle cx="415.1" cy="135.8" r="1.15"/></g>
<g fill="#1c92f2"><circle cx="446.1" cy="126.6" r="1.15"/><circle cx="446.9" cy="128.9" r="1.15"/><circle cx="446.6" cy="133.2" r="1.15"/></g>
<g fill="#ff964f"><circle cx="480.4" cy="116.0" r="1.15"/><circle cx="479.7" cy="129.5" r="1.15"/><circle cx="478.4" cy="103.0" r="1.15"/><circle cx="480.7" cy="110.9" r="1.15"/><circle cx="480.6" cy="113.6" r="1.15"/><circle cx="481.5" cy="111.1" r="1.15"/><circle cx="481.1" cy="115.5" r="1.15"/><circle cx="480.7" cy="112.3" r="1.15"/><circle cx="482.3" cy="104.9" r="1.15"/><circle cx="478.9" cy="115.2" r="1.15"/><circle cx="480.9" cy="123.4" r="1.15"/><circle cx="481.5" cy="122.3" r="1.15"/><circle cx="481.9" cy="124.5" r="1.15"/><circle cx="479.4" cy="116.3" r="1.15"/><circle cx="478.8" cy="132.0" r="1.15"/><circle cx="480.3" cy="118.4" r="1.15"/><circle cx="482.1" cy="129.4" r="1.15"/><circle cx="480.2" cy="119.6" r="1.15"/><circle cx="481.6" cy="114.4" r="1.15"/><circle cx="479.4" cy="112.9" r="1.15"/><circle cx="481.5" cy="121.8" r="1.15"/><circle cx="481.1" cy="106.3" r="1.15"/><circle cx="480.8" cy="114.8" r="1.15"/><circle cx="481.8" cy="121.2" r="1.15"/><circle cx="479.8" cy="109.6" r="1.15"/><circle cx="480.3" cy="130.3" r="1.15"/><circle cx="481.9" cy="106.8" r="1.15"/><circle cx="482.2" cy="125.6" r="1.15"/><circle cx="478.9" cy="107.9" r="1.15"/><circle cx="480.5" cy="105.8" r="1.15"/><circle cx="478.7" cy="126.0" r="1.15"/><circle cx="483.7" cy="107.2" r="1.15"/><circle cx="480.4" cy="121.1" r="1.15"/><circle cx="481.4" cy="127.2" r="1.15"/><circle cx="481.7" cy="114.6" r="1.15"/><circle cx="479.1" cy="119.1" r="1.15"/><circle cx="479.2" cy="121.0" r="1.15"/><circle cx="479.4" cy="123.6" r="1.15"/><circle cx="483.0" cy="114.1" r="1.15"/><circle cx="482.1" cy="114.0" r="1.15"/><circle cx="481.2" cy="120.3" r="1.15"/><circle cx="481.0" cy="129.4" r="1.15"/><circle cx="481.0" cy="126.0" r="1.15"/><circle cx="482.0" cy="112.3" r="1.15"/><circle cx="480.9" cy="132.5" r="1.15"/><circle cx="481.2" cy="115.6" r="1.15"/><circle cx="480.3" cy="123.1" r="1.15"/><circle cx="481.0" cy="121.1" r="1.15"/><circle cx="480.9" cy="107.5" r="1.15"/><circle cx="480.2" cy="123.0" r="1.15"/><circle cx="480.2" cy="121.6" r="1.15"/><circle cx="480.4" cy="129.7" r="1.15"/><circle cx="481.4" cy="113.1" r="1.15"/><circle cx="481.7" cy="120.3" r="1.15"/><circle cx="482.0" cy="102.5" r="1.15"/><circle cx="482.0" cy="113.4" r="1.15"/><circle cx="481.1" cy="116.6" r="1.15"/><circle cx="481.1" cy="108.8" r="1.15"/><circle cx="481.2" cy="121.6" r="1.15"/><circle cx="483.2" cy="126.3" r="1.15"/><circle cx="479.2" cy="119.9" r="1.15"/><circle cx="481.2" cy="125.1" r="1.15"/><circle cx="480.6" cy="134.7" r="1.15"/><circle cx="482.1" cy="106.5" r="1.15"/><circle cx="478.6" cy="110.9" r="1.15"/><circle cx="481.8" cy="119.8" r="1.15"/><circle cx="482.5" cy="106.4" r="1.15"/><circle cx="480.1" cy="123.1" r="1.15"/><circle cx="480.7" cy="116.2" r="1.15"/><circle cx="481.5" cy="114.4" r="1.15"/><circle cx="481.0" cy="111.2" r="1.15"/><circle cx="479.0" cy="118.7" r="1.15"/><circle cx="481.1" cy="121.9" r="1.15"/><circle cx="480.8" cy="116.5" r="1.15"/><circle cx="478.9" cy="127.1" r="1.15"/><circle cx="481.0" cy="124.2" r="1.15"/><circle cx="479.4" cy="121.9" r="1.15"/><circle cx="480.8" cy="118.4" r="1.15"/><circle cx="478.8" cy="135.3" r="1.15"/><circle cx="479.4" cy="111.8" r="1.15"/><circle cx="480.1" cy="128.1" r="1.15"/><circle cx="481.8" cy="124.7" r="1.15"/><circle cx="480.2" cy="116.0" r="1.15"/><circle cx="479.4" cy="115.9" r="1.15"/><circle cx="482.2" cy="116.5" r="1.15"/><circle cx="480.9" cy="119.6" r="1.15"/><circle cx="480.0" cy="106.7" r="1.15"/><circle cx="479.0" cy="123.8" r="1.15"/><circle cx="481.6" cy="110.7" r="1.15"/><circle cx="477.8" cy="113.2" r="1.15"/><circle cx="480.5" cy="124.6" r="1.15"/><circle cx="479.4" cy="116.6" r="1.15"/><circle cx="478.4" cy="110.8" r="1.15"/><circle cx="481.7" cy="110.1" r="1.15"/><circle cx="480.2" cy="129.2" r="1.15"/><circle cx="480.4" cy="109.9" r="1.15"/><circle cx="479.7" cy="118.0" r="1.15"/><circle cx="479.8" cy="115.2" r="1.15"/><circle cx="481.7" cy="118.6" r="1.15"/><circle cx="481.7" cy="119.4" r="1.15"/><circle cx="480.1" cy="122.0" r="1.15"/><circle cx="482.8" cy="110.2" r="1.15"/><circle cx="480.5" cy="133.1" r="1.15"/><circle cx="480.4" cy="116.1" r="1.15"/><circle cx="480.1" cy="116.6" r="1.15"/><circle cx="480.1" cy="135.9" r="1.15"/><circle cx="479.5" cy="118.5" r="1.15"/><circle cx="480.8" cy="121.9" r="1.15"/><circle cx="480.9" cy="105.5" r="1.15"/><circle cx="481.7" cy="109.0" r="1.15"/><circle cx="482.7" cy="103.6" r="1.15"/><circle cx="482.5" cy="121.2" r="1.15"/><circle cx="481.8" cy="119.3" r="1.15"/><circle cx="482.0" cy="124.0" r="1.15"/><circle cx="481.1" cy="118.3" r="1.15"/><circle cx="480.5" cy="104.1" r="1.15"/><circle cx="482.4" cy="101.7" r="1.15"/><circle cx="480.1" cy="101.5" r="1.15"/><circle cx="480.3" cy="124.5" r="1.15"/><circle cx="479.4" cy="113.7" r="1.15"/><circle cx="479.2" cy="118.1" r="1.15"/><circle cx="480.3" cy="115.7" r="1.15"/><circle cx="482.1" cy="126.9" r="1.15"/><circle cx="481.3" cy="111.9" r="1.15"/><circle cx="481.4" cy="119.7" r="1.15"/><circle cx="481.8" cy="110.0" r="1.15"/><circle cx="482.3" cy="114.7" r="1.15"/><circle cx="482.4" cy="124.9" r="1.15"/><circle cx="482.2" cy="124.3" r="1.15"/><circle cx="483.0" cy="115.6" r="1.15"/><circle cx="481.2" cy="108.3" r="1.15"/><circle cx="481.6" cy="118.1" r="1.15"/><circle cx="482.2" cy="105.1" r="1.15"/><circle cx="479.9" cy="113.6" r="1.15"/><circle cx="478.2" cy="118.0" r="1.15"/><circle cx="483.0" cy="126.8" r="1.15"/><circle cx="482.6" cy="121.9" r="1.15"/><circle cx="483.4" cy="117.7" r="1.15"/><circle cx="480.0" cy="125.2" r="1.15"/><circle cx="482.6" cy="119.1" r="1.15"/><circle cx="481.8" cy="115.8" r="1.15"/><circle cx="481.1" cy="112.1" r="1.15"/><circle cx="482.7" cy="118.6" r="1.15"/><circle cx="480.4" cy="128.4" r="1.15"/><circle cx="481.4" cy="117.6" r="1.15"/><circle cx="480.0" cy="124.7" r="1.15"/><circle cx="480.7" cy="120.1" r="1.15"/><circle cx="481.7" cy="120.8" r="1.15"/><circle cx="482.3" cy="119.7" r="1.15"/><circle cx="482.3" cy="117.7" r="1.15"/><circle cx="480.5" cy="118.0" r="1.15"/><circle cx="482.5" cy="117.4" r="1.15"/><circle cx="480.5" cy="111.1" r="1.15"/><circle cx="480.2" cy="114.5" r="1.15"/><circle cx="478.2" cy="119.1" r="1.15"/><circle cx="481.3" cy="124.2" r="1.15"/><circle cx="481.6" cy="112.4" r="1.15"/><circle cx="480.8" cy="112.8" r="1.15"/><circle cx="480.3" cy="129.5" r="1.15"/><circle cx="481.5" cy="111.1" r="1.15"/><circle cx="479.6" cy="119.7" r="1.15"/><circle cx="481.1" cy="122.6" r="1.15"/><circle cx="481.6" cy="107.2" r="1.15"/><circle cx="481.7" cy="107.4" r="1.15"/><circle cx="479.9" cy="106.9" r="1.15"/><circle cx="481.1" cy="124.9" r="1.15"/><circle cx="480.1" cy="120.7" r="1.15"/><circle cx="479.4" cy="132.2" r="1.15"/><circle cx="484.2" cy="111.1" r="1.15"/><circle cx="479.6" cy="114.2" r="1.15"/></g>
<g fill="#ff964f"><circle cx="479.9" cy="87.5" r="1.15"/><circle cx="492.3" cy="103.5" r="1.15"/><circle cx="482.7" cy="137.3" r="1.15"/><circle cx="481.9" cy="98.4" r="1.15"/></g>
<g fill="#84f9b6"><circle cx="488.8" cy="85.0" r="1.15"/><circle cx="488.0" cy="101.2" r="1.15"/><circle cx="485.0" cy="104.1" r="1.15"/><circle cx="502.2" cy="106.8" r="1.15"/><circle cx="499.0" cy="122.5" r="1.15"/><circle cx="489.5" cy="139.3" r="1.15"/><circle cx="488.8" cy="145.4" r="1.15"/></g>
<g fill="#1dcce2"><circle cx="486.4" cy="109.5" r="1.15"/><circle cx="488.2" cy="114.7" r="1.15"/><circle cx="487.7" cy="111.6" r="1.15"/><circle cx="486.7" cy="113.5" r="1.15"/><circle cx="488.0" cy="113.4" r="1.15"/><circle cx="488.1" cy="112.3" r="1.15"/><circle cx="487.8" cy="112.4" r="1.15"/><circle cx="486.9" cy="114.3" r="1.15"/><circle cx="486.6" cy="114.5" r="1.15"/><circle cx="486.0" cy="115.7" r="1.15"/><circle cx="487.5" cy="108.6" r="1.15"/><circle cx="487.3" cy="109.5" r="1.15"/><circle cx="485.6" cy="108.0" r="1.15"/><circle cx="486.6" cy="115.5" r="1.15"/></g>
<g fill="#84f9b6"><circle cx="489.0" cy="115.0" r="1.15"/><circle cx="490.6" cy="110.4" r="1.15"/><circle cx="492.5" cy="112.0" r="1.15"/><circle cx="487.6" cy="118.7" r="1.15"/><circle cx="493.0" cy="108.9" r="1.15"/><circle cx="490.7" cy="112.2" r="1.15"/><circle cx="492.2" cy="112.2" r="1.15"/><circle cx="492.6" cy="108.9" r="1.15"/><circle cx="494.2" cy="116.2" r="1.15"/><circle cx="490.3" cy="118.3" r="1.15"/><circle cx="492.9" cy="112.2" r="1.15"/><circle cx="487.9" cy="116.1" r="1.15"/><circle cx="490.5" cy="118.9" r="1.15"/><circle cx="488.4" cy="118.5" r="1.15"/></g>
<g fill="#d9cf7a"><circle cx="492.9" cy="115.4" r="1.15"/><circle cx="488.4" cy="123.5" r="1.15"/><circle cx="488.6" cy="121.0" r="1.15"/><circle cx="490.5" cy="119.2" r="1.15"/><circle cx="487.4" cy="117.0" r="1.15"/><circle cx="492.7" cy="127.2" r="1.15"/><circle cx="487.2" cy="125.1" r="1.15"/><circle cx="493.2" cy="123.5" r="1.15"/><circle cx="493.8" cy="123.1" r="1.15"/><circle cx="490.0" cy="119.3" r="1.15"/></g>
<g fill="#ff5028"><circle cx="492.1" cy="121.2" r="1.15"/><circle cx="495.3" cy="111.8" r="1.15"/><circle cx="490.2" cy="125.4" r="1.15"/><circle cx="492.9" cy="114.7" r="1.15"/><circle cx="492.0" cy="110.2" r="1.15"/><circle cx="488.8" cy="109.8" r="1.15"/><circle cx="494.1" cy="111.6" r="1.15"/><circle cx="490.5" cy="115.1" r="1.15"/><circle cx="493.0" cy="110.4" r="1.15"/><circle cx="487.8" cy="112.2" r="1.15"/><circle cx="492.0" cy="115.6" r="1.15"/><circle cx="488.3" cy="114.3" r="1.15"/><circle cx="489.7" cy="122.4" r="1.15"/><circle cx="493.1" cy="109.5" r="1.15"/><circle cx="494.1" cy="111.0" r="1.15"/><circle cx="490.7" cy="116.8" r="1.15"/><circle cx="487.9" cy="111.1" r="1.15"/><circle cx="493.3" cy="121.7" r="1.15"/><circle cx="493.7" cy="126.8" r="1.15"/><circle cx="494.5" cy="114.6" r="1.15"/><circle cx="492.7" cy="121.2" r="1.15"/><circle cx="489.4" cy="123.0" r="1.15"/><circle cx="494.6" cy="119.9" r="1.15"/><circle cx="493.6" cy="114.2" r="1.15"/><circle cx="494.1" cy="115.1" r="1.15"/><circle cx="490.0" cy="119.4" r="1.15"/></g>
<g fill="#8000ff"><circle cx="483.8" cy="122.8" r="1.15"/><circle cx="484.6" cy="118.8" r="1.15"/><circle cx="483.3" cy="124.9" r="1.15"/><circle cx="483.8" cy="129.7" r="1.15"/><circle cx="484.6" cy="126.0" r="1.15"/><circle cx="484.8" cy="134.4" r="1.15"/><circle cx="484.0" cy="122.3" r="1.15"/><circle cx="484.4" cy="119.1" r="1.15"/><circle cx="483.7" cy="128.5" r="1.15"/><circle cx="484.7" cy="124.6" r="1.15"/><circle cx="484.6" cy="130.1" r="1.15"/><circle cx="483.8" cy="128.7" r="1.15"/><circle cx="484.3" cy="117.6" r="1.15"/></g>
<g fill="#1c92f2"><circle cx="574.0" cy="85.8" r="1.15"/></g>
<g fill="#84f9b6"><circle cx="574.0" cy="97.8" r="1.15"/></g>
<g fill="#8000ff"><circle cx="572.0" cy="101.8" r="1.15"/></g>
<g fill="#8000ff"><circle cx="571.1" cy="112.3" r="1.15"/><circle cx="572.6" cy="111.4" r="1.15"/><circle cx="571.4" cy="114.6" r="1.15"/><circle cx="571.1" cy="110.5" r="1.15"/><circle cx="571.3" cy="111.1" r="1.15"/><circle cx="571.7" cy="114.1" r="1.15"/><circle cx="571.1" cy="110.3" r="1.15"/><circle cx="571.5" cy="107.0" r="1.15"/></g>
<g fill="#1c92f2"><circle cx="571.7" cy="121.2" r="1.15"/><circle cx="569.7" cy="119.2" r="1.15"/><circle cx="570.1" cy="110.9" r="1.15"/><circle cx="569.6" cy="110.5" r="1.15"/><circle cx="568.7" cy="124.7" r="1.15"/><circle cx="571.4" cy="115.1" r="1.15"/><circle cx="568.4" cy="125.3" r="1.15"/><circle cx="568.6" cy="114.1" r="1.15"/><circle cx="571.7" cy="119.9" r="1.15"/><circle cx="570.1" cy="123.5" r="1.15"/><circle cx="572.0" cy="120.0" r="1.15"/><circle cx="572.0" cy="111.1" r="1.15"/><circle cx="570.4" cy="121.9" r="1.15"/><circle cx="571.7" cy="118.2" r="1.15"/><circle cx="570.8" cy="114.9" r="1.15"/><circle cx="571.2" cy="120.0" r="1.15"/><circle cx="572.3" cy="119.1" r="1.15"/><circle cx="569.1" cy="123.8" r="1.15"/><circle cx="570.1" cy="112.2" r="1.15"/><circle cx="572.2" cy="118.5" r="1.15"/><circle cx="569.0" cy="113.4" r="1.15"/><circle cx="569.4" cy="126.1" r="1.15"/><circle cx="571.6" cy="110.5" r="1.15"/><circle cx="571.1" cy="115.6" r="1.15"/><circle cx="570.1" cy="122.9" r="1.15"/><circle cx="569.5" cy="115.0" r="1.15"/><circle cx="572.0" cy="123.7" r="1.15"/><circle cx="571.6" cy="122.9" r="1.15"/><circle cx="572.1" cy="123.1" r="1.15"/><circle cx="571.3" cy="115.0" r="1.15"/></g>
<g fill="#84f9b6"><circle cx="574.7" cy="131.2" r="1.15"/><circle cx="574.1" cy="126.9" r="1.15"/><circle cx="572.4" cy="122.0" r="1.15"/><circle cx="574.0" cy="127.1" r="1.15"/><circle cx="573.9" cy="117.5" r="1.15"/><circle cx="575.9" cy="122.3" r="1.15"/><circle cx="572.2" cy="129.3" r="1.15"/><circle cx="573.3" cy="131.5" r="1.15"/><circle cx="571.8" cy="127.8" r="1.15"/><circle cx="574.6" cy="126.9" r="1.15"/><circle cx="571.9" cy="122.7" r="1.15"/><circle cx="573.8" cy="118.7" r="1.15"/><circle cx="572.1" cy="124.9" r="1.15"/><circle cx="573.3" cy="132.1" r="1.15"/><circle cx="572.7" cy="120.5" r="1.15"/><circle cx="574.5" cy="115.5" r="1.15"/><circle cx="572.3" cy="114.6" r="1.15"/><circle cx="575.3" cy="128.2" r="1.15"/><circle cx="572.2" cy="118.4" r="1.15"/><circle cx="574.5" cy="114.0" r="1.15"/><circle cx="572.0" cy="116.6" r="1.15"/><circle cx="575.0" cy="117.7" r="1.15"/><circle cx="574.9" cy="116.1" r="1.15"/><circle cx="574.4" cy="126.1" r="1.15"/><circle cx="574.4" cy="116.3" r="1.15"/><circle cx="573.7" cy="117.8" r="1.15"/><circle cx="573.1" cy="119.4" r="1.15"/><circle cx="575.6" cy="116.5" r="1.15"/><circle cx="573.4" cy="128.2" r="1.15"/><circle cx="572.0" cy="128.1" r="1.15"/><circle cx="575.6" cy="125.0" r="1.15"/><circle cx="575.6" cy="121.8" r="1.15"/><circle cx="575.0" cy="132.3" r="1.15"/><circle cx="573.8" cy="121.7" r="1.15"/><circle cx="575.8" cy="126.5" r="1.15"/><circle cx="573.8" cy="120.6" r="1.15"/><circle cx="574.8" cy="131.9" r="1.15"/><circle cx="573.8" cy="122.0" r="1.15"/><circle cx="573.9" cy="113.7" r="1.15"/><circle cx="575.2" cy="127.0" r="1.15"/></g>
<g fill="#ff5028"><circle cx="573.8" cy="110.6" r="1.15"/><circle cx="574.0" cy="112.6" r="1.15"/></g>
<g fill="#8000ff"><circle cx="569.7" cy="126.6" r="1.15"/><circle cx="570.5" cy="128.9" r="1.15"/></g>
<g fill="#84f9b6"><circle cx="618.2" cy="109.9" r="1.15"/><circle cx="618.2" cy="112.6" r="1.15"/><circle cx="618.0" cy="117.0" r="1.15"/><circle cx="617.9" cy="127.5" r="1.15"/></g>
<g fill="#ff964f"><circle cx="620.0" cy="119.0" r="1.15"/></g>
<g fill="#d9cf7a"><circle cx="618.9" cy="122.0" r="1.15"/></g>
<g fill="#ff5028"><circle cx="620.0" cy="123.6" r="1.15"/><circle cx="621.2" cy="124.6" r="1.15"/><circle cx="620.6" cy="142.9" r="1.15"/></g>
<g fill="#5052fb"><circle cx="636.9" cy="71.9" r="1.15"/><circle cx="638.6" cy="79.1" r="1.15"/><circle cx="641.3" cy="80.6" r="1.15"/><circle cx="640.6" cy="82.4" r="1.15"/><circle cx="637.8" cy="86.7" r="1.15"/><circle cx="641.8" cy="83.6" r="1.15"/></g>
<g fill="#5052fb"><circle cx="634.7" cy="94.9" r="1.15"/><circle cx="637.1" cy="95.7" r="1.15"/><circle cx="635.3" cy="100.6" r="1.15"/><circle cx="634.2" cy="99.3" r="1.15"/><circle cx="635.4" cy="101.1" r="1.15"/><circle cx="636.4" cy="105.0" r="1.15"/><circle cx="634.5" cy="107.6" r="1.15"/><circle cx="634.9" cy="111.7" r="1.15"/><circle cx="635.0" cy="108.5" r="1.15"/><circle cx="637.1" cy="111.6" r="1.15"/><circle cx="636.7" cy="108.1" r="1.15"/><circle cx="634.3" cy="107.5" r="1.15"/><circle cx="635.3" cy="102.5" r="1.15"/><circle cx="634.1" cy="98.1" r="1.15"/><circle cx="636.7" cy="106.6" r="1.15"/><circle cx="637.5" cy="98.1" r="1.15"/><circle cx="634.7" cy="99.8" r="1.15"/><circle cx="635.0" cy="102.5" r="1.15"/><circle cx="638.0" cy="112.2" r="1.15"/><circle cx="633.2" cy="103.2" r="1.15"/><circle cx="637.2" cy="108.4" r="1.15"/><circle cx="636.7" cy="95.4" r="1.15"/><circle cx="633.2" cy="97.1" r="1.15"/><circle cx="636.6" cy="105.6" r="1.15"/><circle cx="638.8" cy="104.1" r="1.15"/><circle cx="637.6" cy="101.2" r="1.15"/><circle cx="634.7" cy="102.7" r="1.15"/><circle cx="633.3" cy="103.6" r="1.15"/><circle cx="638.1" cy="96.6" r="1.15"/><circle cx="632.9" cy="105.7" r="1.15"/><circle cx="635.1" cy="105.2" r="1.15"/><circle cx="634.0" cy="104.5" r="1.15"/><circle cx="636.7" cy="115.0" r="1.15"/><circle cx="636.0" cy="104.8" r="1.15"/><circle cx="635.3" cy="88.6" r="1.15"/><circle cx="640.5" cy="91.8" r="1.15"/><circle cx="640.8" cy="108.8" r="1.15"/><circle cx="639.3" cy="94.0" r="1.15"/><circle cx="639.0" cy="103.5" r="1.15"/><circle cx="636.4" cy="105.5" r="1.15"/><circle cx="634.3" cy="97.1" r="1.15"/><circle cx="634.8" cy="101.4" r="1.15"/><circle cx="638.9" cy="107.9" r="1.15"/><circle cx="638.7" cy="103.5" r="1.15"/><circle cx="638.0" cy="107.6" r="1.15"/><circle cx="635.4" cy="100.3" r="1.15"/><circle cx="636.5" cy="97.4" r="1.15"/><circle cx="637.6" cy="97.6" r="1.15"/><circle cx="635.7" cy="95.6" r="1.15"/><circle cx="636.1" cy="105.9" r="1.15"/><circle cx="636.0" cy="101.5" r="1.15"/><circle cx="634.8" cy="104.5" r="1.15"/><circle cx="636.1" cy="108.4" r="1.15"/><circle cx="633.0" cy="104.2" r="1.15"/><circle cx="636.8" cy="97.0" r="1.15"/><circle cx="634.5" cy="97.2" r="1.15"/><circle cx="636.1" cy="92.9" r="1.15"/><circle cx="637.3" cy="104.6" r="1.15"/><circle cx="636.8" cy="97.5" r="1.15"/><circle cx="636.0" cy="102.0" r="1.15"/><circle cx="635.3" cy="100.1" r="1.15"/><circle cx="636.7" cy="103.3" r="1.15"/><circle cx="636.6" cy="111.8" r="1.15"/><circle cx="636.5" cy="101.2" r="1.15"/><circle cx="634.9" cy="102.7" r="1.15"/><circle cx="634.4" cy="95.9" r="1.15"/><circle cx="637.5" cy="105.8" r="1.15"/><circle cx="638.1" cy="95.1" r="1.15"/><circle cx="637.5" cy="110.9" r="1.15"/><circle cx="635.8" cy="106.2" r="1.15"/><circle cx="634.7" cy="108.0" r="1.15"/><circle cx="634.5" cy="90.4" r="1.15"/><circle cx="634.8" cy="110.8" r="1.15"/><circle cx="635.0" cy="107.9" r="1.15"/><circle cx="635.4" cy="91.9" r="1.15"/><circle cx="636.8" cy="103.7" r="1.15"/><circle cx="635.6" cy="108.2" r="1.15"/><circle cx="632.7" cy="108.9" r="1.15"/><circle cx="636.1" cy="108.0" r="1.15"/><circle cx="635.1" cy="105.8" r="1.15"/><circle cx="634.7" cy="107.7" r="1.15"/><circle cx="638.6" cy="111.0" r="1.15"/><circle cx="634.6" cy="93.9" r="1.15"/><circle cx="635.5" cy="104.7" r="1.15"/><circle cx="636.3" cy="88.2" r="1.15"/><circle cx="638.5" cy="95.6" r="1.15"/><circle cx="637.4" cy="107.3" r="1.15"/><circle cx="636.3" cy="101.1" r="1.15"/><circle cx="636.1" cy="110.1" r="1.15"/><circle cx="636.6" cy="101.4" r="1.15"/><circle cx="636.1" cy="113.3" r="1.15"/><circle cx="637.9" cy="103.2" r="1.15"/><circle cx="636.3" cy="94.8" r="1.15"/><circle cx="636.4" cy="97.5" r="1.15"/><circle cx="636.2" cy="98.8" r="1.15"/></g>
<g fill="#84f9b6"><circle cx="649.7" cy="72.1" r="1.15"/><circle cx="650.5" cy="74.8" r="1.15"/><circle cx="648.8" cy="81.2" r="1.15"/></g>
<g fill="#84f9b6"><circle cx="640.0" cy="89.5" r="1.15"/><circle cx="643.9" cy="96.3" r="1.15"/><circle cx="640.4" cy="102.7" r="1.15"/><circle cx="644.3" cy="96.8" r="1.15"/><circle cx="643.3" cy="94.9" r="1.15"/><circle cx="643.1" cy="94.5" r="1.15"/><circle cx="640.3" cy="93.7" r="1.15"/><circle cx="641.7" cy="91.7" r="1.15"/><circle cx="644.6" cy="102.7" r="1.15"/><circle cx="643.4" cy="96.4" r="1.15"/><circle cx="642.8" cy="100.2" r="1.15"/><circle cx="641.6" cy="99.4" r="1.15"/><circle cx="644.0" cy="96.2" r="1.15"/><circle cx="643.4" cy="95.0" r="1.15"/><circle cx="641.0" cy="90.4" r="1.15"/><circle cx="642.0" cy="95.2" r="1.15"/><circle cx="642.4" cy="93.0" r="1.15"/><circle cx="641.8" cy="90.8" r="1.15"/><circle cx="643.0" cy="93.5" r="1.15"/><circle cx="642.1" cy="95.9" r="1.15"/><circle cx="644.9" cy="92.7" r="1.15"/><circle cx="641.8" cy="97.1" r="1.15"/><circle cx="643.8" cy="92.4" r="1.15"/><circle cx="644.0" cy="98.3" r="1.15"/><circle cx="640.0" cy="100.9" r="1.15"/><circle cx="645.5" cy="97.6" r="1.15"/><circle cx="642.9" cy="94.0" r="1.15"/><circle cx="641.0" cy="88.7" r="1.15"/><circle cx="642.6" cy="86.3" r="1.15"/><circle cx="639.6" cy="96.2" r="1.15"/><circle cx="640.6" cy="92.5" r="1.15"/><circle cx="644.1" cy="98.9" r="1.15"/><circle cx="640.6" cy="94.3" r="1.15"/><circle cx="641.9" cy="86.1" r="1.15"/><circle cx="640.5" cy="94.7" r="1.15"/><circle cx="639.2" cy="94.5" r="1.15"/><circle cx="641.2" cy="102.5" r="1.15"/><circle cx="640.8" cy="89.3" r="1.15"/><circle cx="641.8" cy="94.0" r="1.15"/><circle cx="640.0" cy="88.1" r="1.15"/><circle cx="640.5" cy="87.8" r="1.15"/><circle cx="643.7" cy="98.6" r="1.15"/><circle cx="643.6" cy="96.4" r="1.15"/><circle cx="642.5" cy="98.2" r="1.15"/><circle cx="641.2" cy="91.4" r="1.15"/><circle cx="645.0" cy="92.0" r="1.15"/><circle cx="641.0" cy="86.2" r="1.15"/><circle cx="642.7" cy="94.1" r="1.15"/><circle cx="639.9" cy="97.8" r="1.15"/><circle cx="641.7" cy="85.8" r="1.15"/><circle cx="643.0" cy="99.7" r="1.15"/><circle cx="643.4" cy="93.3" r="1.15"/><circle cx="644.4" cy="96.1" r="1.15"/><circle cx="642.6" cy="95.9" r="1.15"/><circle cx="640.2" cy="98.7" r="1.15"/><circle cx="640.0" cy="88.3" r="1.15"/><circle cx="642.1" cy="98.3" r="1.15"/><circle cx="642.9" cy="94.1" r="1.15"/><circle cx="641.5" cy="93.6" r="1.15"/><circle cx="642.5" cy="92.8" r="1.15"/></g>
<g fill="#84f9b6"><circle cx="650.4" cy="88.9" r="1.15"/><circle cx="651.7" cy="89.5" r="1.15"/><circle cx="649.8" cy="89.1" r="1.15"/><circle cx="648.7" cy="86.0" r="1.15"/><circle cx="648.1" cy="96.0" r="1.15"/><circle cx="646.9" cy="90.2" r="1.15"/><circle cx="652.5" cy="92.2" r="1.15"/><circle cx="649.0" cy="92.4" r="1.15"/><circle cx="649.9" cy="94.9" r="1.15"/><circle cx="650.0" cy="94.3" r="1.15"/><circle cx="648.7" cy="92.1" r="1.15"/><circle cx="652.1" cy="85.6" r="1.15"/><circle cx="651.0" cy="88.0" r="1.15"/><circle cx="647.6" cy="94.6" r="1.15"/><circle cx="648.1" cy="95.8" r="1.15"/><circle cx="651.5" cy="94.7" r="1.15"/><circle cx="648.7" cy="91.1" r="1.15"/><circle cx="650.4" cy="97.1" r="1.15"/><circle cx="649.4" cy="88.1" r="1.15"/><circle cx="649.5" cy="98.9" r="1.15"/><circle cx="649.5" cy="88.4" r="1.15"/><circle cx="650.8" cy="90.7" r="1.15"/><circle cx="652.1" cy="91.9" r="1.15"/><circle cx="647.7" cy="91.2" r="1.15"/><circle cx="652.1" cy="86.3" r="1.15"/><circle cx="651.0" cy="93.5" r="1.15"/><circle cx="651.3" cy="92.6" r="1.15"/><circle cx="649.3" cy="87.7" r="1.15"/><circle cx="648.9" cy="91.2" r="1.15"/><circle cx="650.1" cy="96.5" r="1.15"/><circle cx="649.6" cy="100.0" r="1.15"/><circle cx="650.0" cy="88.2" r="1.15"/><circle cx="650.5" cy="88.5" r="1.15"/><circle cx="650.9" cy="85.7" r="1.15"/><circle cx="647.1" cy="92.3" r="1.15"/><circle cx="650.0" cy="89.0" r="1.15"/><circle cx="650.8" cy="89.7" r="1.15"/><circle cx="652.0" cy="92.0" r="1.15"/><circle cx="649.9" cy="92.5" r="1.15"/><circle cx="650.2" cy="85.0" r="1.15"/><circle cx="647.8" cy="85.9" r="1.15"/><circle cx="648.7" cy="96.1" r="1.15"/><circle cx="648.7" cy="89.5" r="1.15"/><circle cx="647.9" cy="84.0" r="1.15"/><circle cx="646.7" cy="95.6" r="1.15"/><circle cx="649.8" cy="88.6" r="1.15"/><circle cx="650.9" cy="94.1" r="1.15"/><circle cx="648.1" cy="88.7" r="1.15"/><circle cx="650.9" cy="98.6" r="1.15"/><circle cx="649.1" cy="96.7" r="1.15"/><circle cx="651.5" cy="97.3" r="1.15"/><circle cx="649.7" cy="95.6" r="1.15"/><circle cx="650.8" cy="89.7" r="1.15"/><circle cx="649.9" cy="90.8" r="1.15"/><circle cx="647.5" cy="92.2" r="1.15"/></g>
<g fill="#8000ff"><circle cx="628.1" cy="115.8" r="1.15"/><circle cx="636.0" cy="117.5" r="1.15"/><circle cx="639.0" cy="115.2" r="1.15"/><circle cx="640.6" cy="116.7" r="1.15"/><circle cx="657.3" cy="114.4" r="1.15"/><circle cx="653.5" cy="117.5" r="1.15"/><circle cx="649.7" cy="119.0" r="1.15"/><circle cx="636.8" cy="120.5" r="1.15"/><circle cx="640.6" cy="120.5" r="1.15"/><circle cx="632.2" cy="129.8" r="1.15"/><circle cx="648.5" cy="127.4" r="1.15"/><circle cx="637.5" cy="112.9" r="1.15"/><circle cx="639.8" cy="111.4" r="1.15"/></g>
<g fill="#1dcce2"><circle cx="642.4" cy="107.6" r="1.15"/><circle cx="654.3" cy="107.6" r="1.15"/><circle cx="655.8" cy="107.6" r="1.15"/><circle cx="646.7" cy="115.2" r="1.15"/><circle cx="649.0" cy="114.4" r="1.15"/><circle cx="650.5" cy="122.0" r="1.15"/><circle cx="655.8" cy="117.2" r="1.15"/><circle cx="653.5" cy="120.5" r="1.15"/><circle cx="641.3" cy="124.3" r="1.15"/><circle cx="640.9" cy="126.6" r="1.15"/><circle cx="646.7" cy="124.3" r="1.15"/><circle cx="634.5" cy="128.9" r="1.15"/><circle cx="652.0" cy="121.3" r="1.15"/></g>
<g fill="#5052fb"><circle cx="637.5" cy="128.9" r="1.15"/><circle cx="634.8" cy="126.6" r="1.15"/><circle cx="644.8" cy="125.4" r="1.15"/><circle cx="652.0" cy="126.6" r="1.15"/><circle cx="649.7" cy="132.0" r="1.15"/><circle cx="642.9" cy="135.0" r="1.15"/><circle cx="640.0" cy="139.1" r="1.15"/><circle cx="653.5" cy="126.6" r="1.15"/><circle cx="650.5" cy="126.6" r="1.15"/></g>
<g fill="#84f9b6"><circle cx="655.0" cy="104.5" r="1.15"/><circle cx="645.9" cy="117.5" r="1.15"/><circle cx="655.0" cy="126.9" r="1.15"/><circle cx="645.1" cy="116.0" r="1.15"/><circle cx="646.7" cy="118.2" r="1.15"/></g>
<g fill="#ff964f"><circle cx="655.0" cy="96.6" r="1.15"/><circle cx="643.6" cy="107.9" r="1.15"/><circle cx="644.4" cy="111.7" r="1.15"/><circle cx="641.8" cy="113.7" r="1.15"/><circle cx="655.0" cy="112.1" r="1.15"/><circle cx="656.6" cy="111.4" r="1.15"/><circle cx="662.4" cy="126.6" r="1.15"/></g>
<g fill="#d9cf7a"><circle cx="642.4" cy="130.9" r="1.15"/></g>
<line x1="789.4" x2="789.4" y1="158" y2="652" stroke="#5a5a5a" stroke-width="1"/>
<line x1="825.5" x2="825.5" y1="158" y2="652" stroke="#5a5a5a" stroke-width="1"/>
<g fill="#5052fb"><circle cx="830.8" cy="302.4" r="1.15"/><circle cx="843.6" cy="302.9" r="1.15"/><circle cx="833.2" cy="307.2" r="1.15"/><circle cx="841.2" cy="308.8" r="1.15"/><circle cx="848.4" cy="313.6" r="1.15"/><circle cx="831.6" cy="312.0" r="1.15"/><circle cx="770.8" cy="304.8" r="1.15"/><circle cx="778.0" cy="324.0" r="1.15"/><circle cx="774.8" cy="328.8" r="1.15"/><circle cx="834.8" cy="332.8" r="1.15"/><circle cx="824.4" cy="305.6" r="1.15"/><circle cx="826.0" cy="308.0" r="1.15"/><circle cx="823.6" cy="310.4" r="1.15"/><circle cx="829.2" cy="312.8" r="1.15"/></g>
<g fill="#5052fb"><circle cx="792.4" cy="304.0" r="1.15"/><circle cx="784.5" cy="304.4" r="1.15"/><circle cx="795.0" cy="303.2" r="1.15"/><circle cx="788.0" cy="304.9" r="1.15"/><circle cx="787.2" cy="304.8" r="1.15"/><circle cx="788.1" cy="302.7" r="1.15"/><circle cx="789.0" cy="302.2" r="1.15"/><circle cx="783.2" cy="303.8" r="1.15"/><circle cx="787.0" cy="305.5" r="1.15"/><circle cx="782.8" cy="303.5" r="1.15"/><circle cx="790.9" cy="304.5" r="1.15"/><circle cx="791.1" cy="304.5" r="1.15"/><circle cx="796.2" cy="302.9" r="1.15"/><circle cx="789.4" cy="302.3" r="1.15"/><circle cx="793.2" cy="304.4" r="1.15"/><circle cx="796.2" cy="302.4" r="1.15"/><circle cx="789.9" cy="303.1" r="1.15"/><circle cx="788.2" cy="306.1" r="1.15"/><circle cx="785.4" cy="302.5" r="1.15"/><circle cx="787.9" cy="303.1" r="1.15"/></g>
<g fill="#5052fb"><circle cx="817.0" cy="311.5" r="1.15"/><circle cx="807.6" cy="313.1" r="1.15"/><circle cx="805.9" cy="309.8" r="1.15"/><circle cx="817.0" cy="311.6" r="1.15"/><circle cx="805.8" cy="307.4" r="1.15"/><circle cx="817.9" cy="310.5" r="1.15"/><circle cx="816.9" cy="304.4" r="1.15"/><circle cx="817.6" cy="304.6" r="1.15"/><circle cx="803.4" cy="308.5" r="1.15"/><circle cx="814.7" cy="310.5" r="1.15"/><circle cx="811.7" cy="304.7" r="1.15"/><circle cx="813.2" cy="308.5" r="1.15"/><circle cx="809.9" cy="311.8" r="1.15"/><circle cx="820.7" cy="314.9" r="1.15"/><circle cx="813.2" cy="306.9" r="1.15"/><circle cx="818.6" cy="312.6" r="1.15"/><circle cx="820.5" cy="305.7" r="1.15"/><circle cx="821.2" cy="310.0" r="1.15"/><circle cx="814.7" cy="305.4" r="1.15"/><circle cx="819.8" cy="304.3" r="1.15"/><circle cx="815.5" cy="314.3" r="1.15"/><circle cx="817.6" cy="305.1" r="1.15"/><circle cx="820.8" cy="313.2" r="1.15"/><circle cx="821.1" cy="312.6" r="1.15"/><circle cx="820.3" cy="305.2" r="1.15"/><circle cx="811.6" cy="304.7" r="1.15"/><circle cx="819.4" cy="313.1" r="1.15"/><circle cx="809.1" cy="305.7" r="1.15"/><circle cx="807.8" cy="306.4" r="1.15"/><circle cx="815.7" cy="303.2" r="1.15"/><circle cx="813.1" cy="312.8" r="1.15"/><circle cx="807.2" cy="310.5" r="1.15"/><circle cx="807.7" cy="313.9" r="1.15"/><circle cx="812.0" cy="307.1" r="1.15"/><circle cx="819.8" cy="309.0" r="1.15"/><circle cx="803.2" cy="313.5" r="1.15"/><circle cx="819.3" cy="313.2" r="1.15"/><circle cx="811.7" cy="306.9" r="1.15"/><circle cx="808.1" cy="306.4" r="1.15"/><circle cx="812.1" cy="304.8" r="1.15"/><circle cx="812.5" cy="308.8" r="1.15"/><circle cx="805.4" cy="309.8" r="1.15"/><circle cx="819.5" cy="312.1" r="1.15"/><circle cx="812.8" cy="305.6" r="1.15"/><circle cx="816.0" cy="305.5" r="1.15"/><circle cx="818.4" cy="306.0" r="1.15"/><circle cx="806.4" cy="312.4" r="1.15"/><circle cx="815.6" cy="307.3" r="1.15"/><circle cx="810.1" cy="314.1" r="1.15"/><circle cx="818.8" cy="315.1" r="1.15"/><circle cx="813.1" cy="307.2" r="1.15"/><circle cx="813.7" cy="307.6" r="1.15"/><circle cx="820.6" cy="305.8" r="1.15"/><circle cx="818.0" cy="312.5" r="1.15"/><circle cx="807.9" cy="312.4" r="1.15"/><circle cx="815.5" cy="312.6" r="1.15"/><circle cx="812.3" cy="304.2" r="1.15"/><circle cx="811.7" cy="314.6" r="1.15"/><circle cx="819.5" cy="306.5" r="1.15"/><circle cx="814.7" cy="302.8" r="1.15"/><circle cx="816.1" cy="309.9" r="1.15"/><circle cx="810.0" cy="305.9" r="1.15"/></g>
<g fill="#5052fb"><circle cx="783.8" cy="315.3" r="1.15"/><circle cx="796.4" cy="316.7" r="1.15"/><circle cx="786.3" cy="318.6" r="1.15"/><circle cx="781.1" cy="314.9" r="1.15"/><circle cx="791.1" cy="314.9" r="1.15"/><circle cx="797.9" cy="316.0" r="1.15"/><circle cx="811.5" cy="319.1" r="1.15"/><circle cx="783.4" cy="317.9" r="1.15"/><circle cx="790.5" cy="320.6" r="1.15"/><circle cx="783.1" cy="320.0" r="1.15"/><circle cx="814.1" cy="314.0" r="1.15"/><circle cx="813.0" cy="317.2" r="1.15"/><circle cx="813.5" cy="317.0" r="1.15"/><circle cx="816.4" cy="315.9" r="1.15"/><circle cx="787.8" cy="318.2" r="1.15"/><circle cx="816.3" cy="315.4" r="1.15"/><circle cx="805.8" cy="315.5" r="1.15"/><circle cx="794.3" cy="318.0" r="1.15"/><circle cx="808.8" cy="317.2" r="1.15"/><circle cx="814.7" cy="318.3" r="1.15"/><circle cx="782.0" cy="318.0" r="1.15"/><circle cx="782.0" cy="315.3" r="1.15"/><circle cx="800.2" cy="316.5" r="1.15"/><circle cx="805.7" cy="316.5" r="1.15"/><circle cx="810.3" cy="317.6" r="1.15"/><circle cx="802.3" cy="318.0" r="1.15"/><circle cx="799.0" cy="317.4" r="1.15"/><circle cx="780.9" cy="314.7" r="1.15"/><circle cx="792.1" cy="315.2" r="1.15"/><circle cx="787.7" cy="318.6" r="1.15"/><circle cx="796.9" cy="314.8" r="1.15"/><circle cx="804.6" cy="314.9" r="1.15"/><circle cx="791.7" cy="315.0" r="1.15"/><circle cx="805.4" cy="317.2" r="1.15"/><circle cx="781.2" cy="318.7" r="1.15"/><circle cx="787.3" cy="315.5" r="1.15"/><circle cx="784.5" cy="317.9" r="1.15"/><circle cx="801.0" cy="315.4" r="1.15"/><circle cx="817.0" cy="316.5" r="1.15"/><circle cx="785.6" cy="319.4" r="1.15"/><circle cx="799.4" cy="317.0" r="1.15"/><circle cx="802.8" cy="317.0" r="1.15"/><circle cx="796.5" cy="313.9" r="1.15"/><circle cx="809.8" cy="317.6" r="1.15"/><circle cx="806.7" cy="314.0" r="1.15"/><circle cx="798.0" cy="316.1" r="1.15"/><circle cx="799.9" cy="318.6" r="1.15"/><circle cx="790.1" cy="318.9" r="1.15"/><circle cx="806.1" cy="314.1" r="1.15"/><circle cx="812.0" cy="318.1" r="1.15"/><circle cx="790.5" cy="320.0" r="1.15"/><circle cx="782.3" cy="317.7" r="1.15"/><circle cx="811.8" cy="318.8" r="1.15"/><circle cx="814.0" cy="317.1" r="1.15"/><circle cx="814.1" cy="313.9" r="1.15"/><circle cx="810.8" cy="315.0" r="1.15"/><circle cx="780.9" cy="317.1" r="1.15"/><circle cx="804.4" cy="318.8" r="1.15"/><circle cx="815.0" cy="314.9" r="1.15"/><circle cx="799.8" cy="318.1" r="1.15"/><circle cx="795.3" cy="320.2" r="1.15"/><circle cx="799.1" cy="314.1" r="1.15"/><circle cx="804.1" cy="319.0" r="1.15"/><circle cx="806.2" cy="317.1" r="1.15"/><circle cx="797.8" cy="319.8" r="1.15"/><circle cx="806.3" cy="318.7" r="1.15"/><circle cx="810.6" cy="314.3" r="1.15"/><circle cx="795.1" cy="319.0" r="1.15"/><circle cx="808.6" cy="319.0" r="1.15"/><circle cx="799.5" cy="317.1" r="1.15"/><circle cx="814.3" cy="315.2" r="1.15"/><circle cx="792.3" cy="314.8" r="1.15"/><circle cx="793.7" cy="316.5" r="1.15"/><circle cx="809.5" cy="318.2" r="1.15"/><circle cx="796.4" cy="320.4" r="1.15"/></g>
<g fill="#8000ff"><circle cx="794.4" cy="314.9" r="1.15"/><circle cx="790.3" cy="316.2" r="1.15"/><circle cx="784.9" cy="317.6" r="1.15"/><circle cx="794.9" cy="318.0" r="1.15"/><circle cx="803.7" cy="315.5" r="1.15"/><circle cx="788.1" cy="317.7" r="1.15"/><circle cx="799.5" cy="317.9" r="1.15"/><circle cx="782.5" cy="318.4" r="1.15"/><circle cx="787.2" cy="314.8" r="1.15"/><circle cx="805.2" cy="315.0" r="1.15"/><circle cx="804.7" cy="315.5" r="1.15"/><circle cx="786.3" cy="319.1" r="1.15"/><circle cx="799.3" cy="319.3" r="1.15"/><circle cx="782.2" cy="317.9" r="1.15"/></g>
<g fill="#84f9b6"><circle cx="786.2" cy="311.4" r="1.15"/><circle cx="786.1" cy="313.1" r="1.15"/><circle cx="786.9" cy="313.5" r="1.15"/><circle cx="796.7" cy="312.5" r="1.15"/><circle cx="779.7" cy="311.0" r="1.15"/><circle cx="788.4" cy="313.2" r="1.15"/><circle cx="798.0" cy="312.9" r="1.15"/><circle cx="777.2" cy="313.5" r="1.15"/><circle cx="789.5" cy="311.0" r="1.15"/><circle cx="791.8" cy="313.6" r="1.15"/><circle cx="782.9" cy="312.4" r="1.15"/><circle cx="790.3" cy="312.5" r="1.15"/><circle cx="784.2" cy="312.3" r="1.15"/><circle cx="796.4" cy="312.3" r="1.15"/><circle cx="780.7" cy="312.4" r="1.15"/><circle cx="792.7" cy="310.8" r="1.15"/><circle cx="795.1" cy="312.1" r="1.15"/><circle cx="781.7" cy="311.3" r="1.15"/><circle cx="778.9" cy="313.3" r="1.15"/><circle cx="794.2" cy="311.9" r="1.15"/><circle cx="797.7" cy="311.3" r="1.15"/><circle cx="777.3" cy="313.2" r="1.15"/><circle cx="793.0" cy="311.1" r="1.15"/><circle cx="783.8" cy="310.8" r="1.15"/><circle cx="788.8" cy="312.3" r="1.15"/><circle cx="790.3" cy="313.3" r="1.15"/><circle cx="794.8" cy="311.7" r="1.15"/><circle cx="785.9" cy="311.0" r="1.15"/><circle cx="789.3" cy="311.8" r="1.15"/><circle cx="791.7" cy="311.5" r="1.15"/><circle cx="784.7" cy="312.6" r="1.15"/><circle cx="780.3" cy="311.3" r="1.15"/><circle cx="788.8" cy="312.7" r="1.15"/><circle cx="779.7" cy="311.9" r="1.15"/><circle cx="786.6" cy="311.9" r="1.15"/><circle cx="778.6" cy="312.8" r="1.15"/><circle cx="791.7" cy="311.3" r="1.15"/><circle cx="788.3" cy="313.2" r="1.15"/><circle cx="792.6" cy="310.6" r="1.15"/><circle cx="783.8" cy="311.3" r="1.15"/><circle cx="795.3" cy="312.8" r="1.15"/><circle cx="792.8" cy="310.6" r="1.15"/><circle cx="792.7" cy="311.0" r="1.15"/><circle cx="781.0" cy="312.0" r="1.15"/><circle cx="789.8" cy="311.4" r="1.15"/><circle cx="795.1" cy="312.9" r="1.15"/><circle cx="797.3" cy="311.0" r="1.15"/><circle cx="787.0" cy="311.7" r="1.15"/><circle cx="785.4" cy="310.9" r="1.15"/><circle cx="796.0" cy="311.0" r="1.15"/></g>
<g fill="#84f9b6"><circle cx="818.8" cy="325.2" r="1.15"/><circle cx="816.7" cy="328.7" r="1.15"/><circle cx="817.1" cy="331.8" r="1.15"/><circle cx="815.3" cy="321.3" r="1.15"/><circle cx="827.6" cy="317.9" r="1.15"/><circle cx="818.8" cy="318.3" r="1.15"/><circle cx="821.1" cy="325.5" r="1.15"/><circle cx="824.2" cy="321.4" r="1.15"/><circle cx="818.6" cy="322.7" r="1.15"/><circle cx="818.8" cy="319.5" r="1.15"/><circle cx="816.7" cy="331.7" r="1.15"/><circle cx="821.5" cy="315.7" r="1.15"/><circle cx="818.5" cy="324.7" r="1.15"/><circle cx="812.3" cy="328.4" r="1.15"/><circle cx="813.8" cy="326.9" r="1.15"/><circle cx="822.3" cy="320.0" r="1.15"/><circle cx="820.6" cy="330.2" r="1.15"/><circle cx="815.1" cy="328.1" r="1.15"/><circle cx="824.9" cy="332.3" r="1.15"/><circle cx="816.0" cy="317.5" r="1.15"/><circle cx="823.4" cy="320.4" r="1.15"/><circle cx="825.1" cy="315.5" r="1.15"/><circle cx="814.9" cy="325.3" r="1.15"/><circle cx="812.8" cy="336.4" r="1.15"/><circle cx="814.1" cy="328.1" r="1.15"/><circle cx="819.4" cy="336.2" r="1.15"/><circle cx="827.0" cy="324.9" r="1.15"/><circle cx="819.6" cy="328.8" r="1.15"/><circle cx="817.2" cy="331.8" r="1.15"/><circle cx="811.5" cy="319.3" r="1.15"/><circle cx="811.3" cy="325.9" r="1.15"/><circle cx="824.0" cy="327.1" r="1.15"/><circle cx="816.5" cy="323.5" r="1.15"/><circle cx="823.9" cy="323.0" r="1.15"/><circle cx="814.9" cy="325.4" r="1.15"/><circle cx="809.4" cy="323.1" r="1.15"/><circle cx="817.4" cy="322.1" r="1.15"/><circle cx="814.1" cy="338.7" r="1.15"/><circle cx="822.9" cy="330.7" r="1.15"/><circle cx="822.6" cy="317.3" r="1.15"/><circle cx="817.2" cy="323.4" r="1.15"/><circle cx="817.3" cy="329.6" r="1.15"/><circle cx="817.6" cy="334.7" r="1.15"/><circle cx="817.6" cy="325.9" r="1.15"/><circle cx="822.4" cy="327.1" r="1.15"/><circle cx="812.8" cy="328.4" r="1.15"/><circle cx="814.8" cy="335.8" r="1.15"/><circle cx="826.6" cy="318.6" r="1.15"/><circle cx="822.1" cy="322.4" r="1.15"/><circle cx="809.3" cy="329.2" r="1.15"/><circle cx="822.7" cy="337.3" r="1.15"/><circle cx="819.5" cy="319.5" r="1.15"/><circle cx="823.5" cy="325.0" r="1.15"/><circle cx="818.9" cy="328.9" r="1.15"/><circle cx="814.6" cy="329.4" r="1.15"/><circle cx="817.8" cy="314.4" r="1.15"/><circle cx="814.6" cy="328.5" r="1.15"/><circle cx="814.0" cy="330.4" r="1.15"/><circle cx="812.2" cy="325.7" r="1.15"/><circle cx="821.6" cy="321.6" r="1.15"/><circle cx="815.3" cy="323.2" r="1.15"/><circle cx="812.6" cy="321.0" r="1.15"/><circle cx="815.8" cy="318.2" r="1.15"/><circle cx="820.7" cy="329.6" r="1.15"/><circle cx="817.5" cy="329.1" r="1.15"/><circle cx="824.2" cy="320.1" r="1.15"/><circle cx="828.0" cy="319.1" r="1.15"/><circle cx="817.5" cy="330.5" r="1.15"/><circle cx="813.4" cy="325.0" r="1.15"/><circle cx="816.4" cy="326.2" r="1.15"/><circle cx="825.9" cy="318.6" r="1.15"/><circle cx="814.2" cy="321.5" r="1.15"/><circle cx="813.4" cy="320.0" r="1.15"/><circle cx="812.8" cy="332.3" r="1.15"/><circle cx="817.8" cy="331.2" r="1.15"/><circle cx="821.4" cy="315.4" r="1.15"/><circle cx="819.2" cy="330.6" r="1.15"/><circle cx="815.4" cy="324.3" r="1.15"/><circle cx="817.6" cy="315.5" r="1.15"/><circle cx="815.4" cy="329.3" r="1.15"/><circle cx="819.1" cy="328.9" r="1.15"/><circle cx="813.0" cy="321.1" r="1.15"/><circle cx="822.4" cy="314.7" r="1.15"/><circle cx="817.3" cy="316.0" r="1.15"/><circle cx="818.4" cy="332.0" r="1.15"/></g>
<g fill="#84f9b6"><circle cx="838.0" cy="329.1" r="1.15"/><circle cx="841.2" cy="330.1" r="1.15"/><circle cx="831.6" cy="331.2" r="1.15"/><circle cx="827.6" cy="338.4" r="1.15"/><circle cx="826.8" cy="313.6" r="1.15"/><circle cx="828.4" cy="314.7" r="1.15"/><circle cx="793.2" cy="320.8" r="1.15"/></g>
<g fill="#ff5028"><circle cx="799.7" cy="334.3" r="1.15"/><circle cx="796.4" cy="334.9" r="1.15"/><circle cx="798.4" cy="331.5" r="1.15"/><circle cx="800.0" cy="335.4" r="1.15"/><circle cx="793.0" cy="333.2" r="1.15"/><circle cx="798.3" cy="334.5" r="1.15"/><circle cx="799.8" cy="332.6" r="1.15"/><circle cx="799.2" cy="332.5" r="1.15"/><circle cx="789.8" cy="332.8" r="1.15"/><circle cx="793.2" cy="330.2" r="1.15"/><circle cx="785.1" cy="334.7" r="1.15"/><circle cx="780.8" cy="334.9" r="1.15"/><circle cx="800.4" cy="332.6" r="1.15"/><circle cx="799.5" cy="335.0" r="1.15"/><circle cx="788.5" cy="334.3" r="1.15"/><circle cx="784.6" cy="332.2" r="1.15"/><circle cx="783.9" cy="331.8" r="1.15"/><circle cx="801.5" cy="333.5" r="1.15"/><circle cx="787.2" cy="330.6" r="1.15"/><circle cx="798.8" cy="335.2" r="1.15"/><circle cx="801.7" cy="330.3" r="1.15"/><circle cx="797.4" cy="331.7" r="1.15"/><circle cx="784.4" cy="332.8" r="1.15"/><circle cx="786.8" cy="335.1" r="1.15"/><circle cx="783.4" cy="332.1" r="1.15"/><circle cx="783.7" cy="334.0" r="1.15"/><circle cx="790.9" cy="332.7" r="1.15"/><circle cx="799.8" cy="333.3" r="1.15"/><circle cx="791.3" cy="334.8" r="1.15"/><circle cx="793.0" cy="335.0" r="1.15"/><circle cx="794.2" cy="334.0" r="1.15"/><circle cx="791.7" cy="330.7" r="1.15"/><circle cx="792.9" cy="334.9" r="1.15"/><circle cx="796.6" cy="335.3" r="1.15"/><circle cx="785.7" cy="334.8" r="1.15"/><circle cx="783.7" cy="330.2" r="1.15"/><circle cx="780.9" cy="331.2" r="1.15"/><circle cx="785.0" cy="334.3" r="1.15"/><circle cx="791.2" cy="334.8" r="1.15"/><circle cx="788.0" cy="330.9" r="1.15"/></g>
<g fill="#ff964f"><circle cx="787.2" cy="334.2" r="1.15"/><circle cx="799.9" cy="339.6" r="1.15"/><circle cx="794.0" cy="336.8" r="1.15"/><circle cx="794.5" cy="337.8" r="1.15"/><circle cx="801.6" cy="338.7" r="1.15"/><circle cx="791.4" cy="336.4" r="1.15"/><circle cx="791.9" cy="334.0" r="1.15"/><circle cx="781.6" cy="338.7" r="1.15"/><circle cx="791.3" cy="334.0" r="1.15"/><circle cx="780.7" cy="333.0" r="1.15"/><circle cx="791.0" cy="336.9" r="1.15"/><circle cx="803.8" cy="338.3" r="1.15"/><circle cx="790.2" cy="337.0" r="1.15"/><circle cx="780.1" cy="334.0" r="1.15"/><circle cx="791.2" cy="337.1" r="1.15"/><circle cx="797.5" cy="339.4" r="1.15"/><circle cx="789.1" cy="335.6" r="1.15"/><circle cx="783.3" cy="334.8" r="1.15"/><circle cx="784.6" cy="338.7" r="1.15"/><circle cx="796.0" cy="338.5" r="1.15"/><circle cx="781.3" cy="336.2" r="1.15"/><circle cx="796.8" cy="334.4" r="1.15"/><circle cx="793.7" cy="333.1" r="1.15"/><circle cx="796.7" cy="337.1" r="1.15"/><circle cx="796.6" cy="333.1" r="1.15"/><circle cx="794.0" cy="335.4" r="1.15"/><circle cx="785.7" cy="339.9" r="1.15"/><circle cx="793.4" cy="337.9" r="1.15"/><circle cx="792.6" cy="339.2" r="1.15"/><circle cx="783.9" cy="336.3" r="1.15"/><circle cx="798.1" cy="334.0" r="1.15"/><circle cx="783.4" cy="336.3" r="1.15"/><circle cx="793.8" cy="339.1" r="1.15"/><circle cx="796.6" cy="334.5" r="1.15"/><circle cx="788.3" cy="338.8" r="1.15"/><circle cx="783.9" cy="335.0" r="1.15"/><circle cx="788.1" cy="337.1" r="1.15"/><circle cx="798.5" cy="333.9" r="1.15"/><circle cx="791.1" cy="339.0" r="1.15"/><circle cx="797.0" cy="339.0" r="1.15"/></g>
<g fill="#84f9b6"><circle cx="801.7" cy="337.1" r="1.15"/><circle cx="794.3" cy="336.3" r="1.15"/><circle cx="797.6" cy="338.4" r="1.15"/><circle cx="794.4" cy="338.0" r="1.15"/><circle cx="794.1" cy="336.0" r="1.15"/><circle cx="791.5" cy="336.6" r="1.15"/><circle cx="801.2" cy="336.7" r="1.15"/><circle cx="798.8" cy="335.5" r="1.15"/><circle cx="794.8" cy="337.0" r="1.15"/><circle cx="791.0" cy="336.2" r="1.15"/><circle cx="801.2" cy="335.6" r="1.15"/><circle cx="800.9" cy="337.4" r="1.15"/><circle cx="793.7" cy="335.8" r="1.15"/><circle cx="799.4" cy="337.2" r="1.15"/><circle cx="795.2" cy="338.0" r="1.15"/><circle cx="797.8" cy="338.5" r="1.15"/><circle cx="795.2" cy="336.8" r="1.15"/><circle cx="801.5" cy="336.3" r="1.15"/></g>
<g fill="#ff964f"><circle cx="774.8" cy="339.2" r="1.15"/><circle cx="777.2" cy="341.6" r="1.15"/><circle cx="775.6" cy="344.8" r="1.15"/><circle cx="781.2" cy="340.0" r="1.15"/><circle cx="803.6" cy="340.8" r="1.15"/><circle cx="807.6" cy="333.6" r="1.15"/><circle cx="804.4" cy="332.8" r="1.15"/><circle cx="814.8" cy="332.8" r="1.15"/><circle cx="803.6" cy="280.8" r="1.15"/><circle cx="797.2" cy="287.7" r="1.15"/><circle cx="799.6" cy="299.2" r="1.15"/></g>
<g fill="#ff5028"><circle cx="799.6" cy="306.4" r="1.15"/><circle cx="800.4" cy="306.1" r="1.15"/></g>
<g fill="#1c92f2"><circle cx="778.0" cy="338.4" r="1.15"/><circle cx="781.2" cy="338.1" r="1.15"/><circle cx="783.6" cy="338.7" r="1.15"/><circle cx="788.4" cy="339.7" r="1.15"/><circle cx="790.8" cy="340.0" r="1.15"/><circle cx="796.4" cy="341.6" r="1.15"/><circle cx="798.0" cy="315.2" r="1.15"/><circle cx="799.6" cy="316.0" r="1.15"/></g>
<g fill="#8000ff"><circle cx="784.0" cy="347.5" r="1.15"/><circle cx="782.6" cy="347.2" r="1.15"/><circle cx="785.4" cy="346.5" r="1.15"/><circle cx="786.6" cy="347.6" r="1.15"/><circle cx="778.6" cy="346.2" r="1.15"/><circle cx="787.1" cy="347.7" r="1.15"/><circle cx="782.4" cy="347.8" r="1.15"/><circle cx="776.1" cy="346.7" r="1.15"/><circle cx="779.2" cy="346.5" r="1.15"/><circle cx="776.3" cy="347.6" r="1.15"/><circle cx="780.7" cy="346.9" r="1.15"/><circle cx="779.4" cy="347.4" r="1.15"/><circle cx="783.2" cy="346.9" r="1.15"/><circle cx="775.4" cy="346.8" r="1.15"/><circle cx="777.9" cy="346.5" r="1.15"/><circle cx="781.7" cy="347.8" r="1.15"/></g>
<g fill="#8000ff"><circle cx="793.8" cy="341.8" r="1.15"/><circle cx="790.7" cy="344.9" r="1.15"/><circle cx="796.6" cy="342.9" r="1.15"/><circle cx="792.9" cy="342.5" r="1.15"/><circle cx="794.5" cy="344.8" r="1.15"/><circle cx="793.8" cy="344.1" r="1.15"/><circle cx="789.8" cy="344.6" r="1.15"/><circle cx="793.6" cy="341.7" r="1.15"/><circle cx="792.0" cy="344.2" r="1.15"/><circle cx="791.1" cy="344.4" r="1.15"/><circle cx="794.0" cy="343.9" r="1.15"/><circle cx="796.0" cy="344.8" r="1.15"/><circle cx="791.9" cy="342.1" r="1.15"/><circle cx="794.6" cy="344.2" r="1.15"/><circle cx="791.6" cy="343.0" r="1.15"/><circle cx="795.7" cy="342.2" r="1.15"/></g>
<g fill="#8000ff"><circle cx="799.6" cy="341.6" r="1.15"/><circle cx="800.4" cy="340.8" r="1.15"/><circle cx="786.8" cy="343.2" r="1.15"/></g>
<g fill="#8000ff"><circle cx="793.2" cy="274.1" r="1.15"/><circle cx="794.0" cy="278.4" r="1.15"/><circle cx="795.6" cy="280.5" r="1.15"/><circle cx="800.4" cy="278.4" r="1.15"/><circle cx="807.9" cy="281.9" r="1.15"/><circle cx="799.9" cy="282.9" r="1.15"/><circle cx="790.0" cy="283.2" r="1.15"/><circle cx="797.2" cy="291.2" r="1.15"/><circle cx="797.7" cy="293.6" r="1.15"/><circle cx="798.0" cy="296.5" r="1.15"/><circle cx="794.8" cy="300.0" r="1.15"/><circle cx="799.6" cy="304.0" r="1.15"/><circle cx="802.8" cy="300.3" r="1.15"/><circle cx="805.2" cy="302.9" r="1.15"/><circle cx="791.9" cy="364.0" r="1.15"/><circle cx="783.1" cy="369.1" r="1.15"/><circle cx="792.9" cy="371.7" r="1.15"/><circle cx="796.7" cy="373.9" r="1.15"/><circle cx="794.8" cy="376.0" r="1.15"/></g>
<g fill="#1dcce2"><circle cx="809.2" cy="268.8" r="1.15"/><circle cx="782.8" cy="280.8" r="1.15"/><circle cx="786.0" cy="280.8" r="1.15"/><circle cx="786.8" cy="284.0" r="1.15"/><circle cx="790.8" cy="289.1" r="1.15"/><circle cx="798.8" cy="288.0" r="1.15"/><circle cx="802.0" cy="297.1" r="1.15"/><circle cx="804.1" cy="298.4" r="1.15"/><circle cx="798.8" cy="298.4" r="1.15"/><circle cx="852.1" cy="329.6" r="1.15"/><circle cx="764.1" cy="339.0" r="1.15"/><circle cx="770.0" cy="343.5" r="1.15"/><circle cx="804.9" cy="356.8" r="1.15"/><circle cx="843.6" cy="372.0" r="1.15"/><circle cx="790.0" cy="372.8" r="1.15"/><circle cx="793.5" cy="370.4" r="1.15"/><circle cx="784.4" cy="343.2" r="1.15"/><circle cx="795.6" cy="341.3" r="1.15"/></g>
<g fill="#1dcce2"><circle cx="803.3" cy="414.1" r="1.15"/><circle cx="806.4" cy="414.3" r="1.15"/><circle cx="796.2" cy="412.4" r="1.15"/><circle cx="804.3" cy="416.0" r="1.15"/><circle cx="800.3" cy="417.0" r="1.15"/><circle cx="792.6" cy="414.8" r="1.15"/><circle cx="800.4" cy="412.3" r="1.15"/><circle cx="796.0" cy="413.8" r="1.15"/><circle cx="801.4" cy="412.9" r="1.15"/><circle cx="800.1" cy="417.6" r="1.15"/><circle cx="791.6" cy="410.8" r="1.15"/><circle cx="805.3" cy="414.6" r="1.15"/><circle cx="793.1" cy="413.0" r="1.15"/><circle cx="798.3" cy="410.9" r="1.15"/><circle cx="801.7" cy="418.7" r="1.15"/><circle cx="794.5" cy="412.6" r="1.15"/><circle cx="791.3" cy="416.9" r="1.15"/><circle cx="792.8" cy="412.0" r="1.15"/><circle cx="796.6" cy="413.3" r="1.15"/><circle cx="798.5" cy="415.1" r="1.15"/><circle cx="793.3" cy="410.5" r="1.15"/><circle cx="795.1" cy="410.7" r="1.15"/><circle cx="793.3" cy="416.4" r="1.15"/><circle cx="794.2" cy="414.6" r="1.15"/><circle cx="799.5" cy="412.8" r="1.15"/><circle cx="795.5" cy="417.9" r="1.15"/><circle cx="800.3" cy="413.2" r="1.15"/><circle cx="798.6" cy="412.2" r="1.15"/><circle cx="801.0" cy="413.4" r="1.15"/><circle cx="804.2" cy="413.9" r="1.15"/><circle cx="797.5" cy="418.5" r="1.15"/><circle cx="795.7" cy="415.2" r="1.15"/><circle cx="792.1" cy="419.3" r="1.15"/><circle cx="789.6" cy="413.1" r="1.15"/><circle cx="794.6" cy="413.6" r="1.15"/><circle cx="786.9" cy="412.5" r="1.15"/><circle cx="802.9" cy="414.0" r="1.15"/><circle cx="806.1" cy="412.8" r="1.15"/><circle cx="797.1" cy="417.3" r="1.15"/><circle cx="796.0" cy="414.5" r="1.15"/><circle cx="804.8" cy="413.4" r="1.15"/><circle cx="790.9" cy="414.5" r="1.15"/><circle cx="800.6" cy="411.9" r="1.15"/><circle cx="793.7" cy="416.3" r="1.15"/><circle cx="794.5" cy="413.2" r="1.15"/><circle cx="792.6" cy="417.2" r="1.15"/><circle cx="810.3" cy="412.3" r="1.15"/><circle cx="793.1" cy="416.3" r="1.15"/><circle cx="799.4" cy="410.8" r="1.15"/><circle cx="795.4" cy="413.8" r="1.15"/><circle cx="800.0" cy="415.1" r="1.15"/><circle cx="799.9" cy="417.7" r="1.15"/><circle cx="789.6" cy="413.2" r="1.15"/><circle cx="793.7" cy="413.5" r="1.15"/><circle cx="803.3" cy="416.9" r="1.15"/><circle cx="802.9" cy="413.7" r="1.15"/><circle cx="792.9" cy="413.7" r="1.15"/><circle cx="800.6" cy="409.7" r="1.15"/><circle cx="796.3" cy="413.2" r="1.15"/><circle cx="784.1" cy="419.5" r="1.15"/><circle cx="786.0" cy="414.5" r="1.15"/><circle cx="809.7" cy="413.0" r="1.15"/><circle cx="805.1" cy="418.8" r="1.15"/><circle cx="797.6" cy="412.2" r="1.15"/><circle cx="804.6" cy="414.5" r="1.15"/><circle cx="792.8" cy="414.8" r="1.15"/><circle cx="791.8" cy="415.8" r="1.15"/><circle cx="801.6" cy="418.9" r="1.15"/><circle cx="786.0" cy="409.4" r="1.15"/><circle cx="794.4" cy="412.9" r="1.15"/><circle cx="803.8" cy="414.8" r="1.15"/><circle cx="783.3" cy="412.5" r="1.15"/><circle cx="805.1" cy="409.1" r="1.15"/><circle cx="798.7" cy="411.1" r="1.15"/><circle cx="795.2" cy="415.1" r="1.15"/><circle cx="811.3" cy="414.2" r="1.15"/><circle cx="793.4" cy="412.8" r="1.15"/><circle cx="799.2" cy="414.3" r="1.15"/><circle cx="792.4" cy="414.4" r="1.15"/><circle cx="799.8" cy="413.3" r="1.15"/><circle cx="789.5" cy="414.2" r="1.15"/><circle cx="795.4" cy="412.6" r="1.15"/><circle cx="793.1" cy="413.0" r="1.15"/><circle cx="793.6" cy="415.0" r="1.15"/><circle cx="802.1" cy="411.4" r="1.15"/><circle cx="806.8" cy="414.3" r="1.15"/><circle cx="800.1" cy="413.1" r="1.15"/><circle cx="804.2" cy="411.0" r="1.15"/><circle cx="797.8" cy="410.1" r="1.15"/><circle cx="805.8" cy="414.5" r="1.15"/><circle cx="804.0" cy="410.8" r="1.15"/><circle cx="798.4" cy="410.7" r="1.15"/><circle cx="787.3" cy="417.1" r="1.15"/><circle cx="807.9" cy="417.5" r="1.15"/><circle cx="802.2" cy="411.6" r="1.15"/><circle cx="787.8" cy="411.9" r="1.15"/><circle cx="802.5" cy="414.2" r="1.15"/><circle cx="800.1" cy="412.1" r="1.15"/><circle cx="787.0" cy="416.3" r="1.15"/><circle cx="797.0" cy="413.2" r="1.15"/><circle cx="793.6" cy="415.0" r="1.15"/><circle cx="790.8" cy="414.8" r="1.15"/><circle cx="789.2" cy="417.1" r="1.15"/><circle cx="787.3" cy="414.5" r="1.15"/><circle cx="799.8" cy="416.0" r="1.15"/><circle cx="787.8" cy="414.7" r="1.15"/><circle cx="786.1" cy="415.9" r="1.15"/><circle cx="794.3" cy="415.3" r="1.15"/><circle cx="795.1" cy="416.6" r="1.15"/><circle cx="805.4" cy="410.8" r="1.15"/><circle cx="806.4" cy="411.8" r="1.15"/><circle cx="782.6" cy="413.5" r="1.15"/><circle cx="793.2" cy="411.1" r="1.15"/><circle cx="807.0" cy="414.8" r="1.15"/><circle cx="802.5" cy="411.9" r="1.15"/><circle cx="804.9" cy="413.2" r="1.15"/><circle cx="785.8" cy="416.0" r="1.15"/><circle cx="793.3" cy="414.6" r="1.15"/><circle cx="795.6" cy="413.3" r="1.15"/><circle cx="806.4" cy="416.1" r="1.15"/><circle cx="794.2" cy="413.7" r="1.15"/><circle cx="796.8" cy="414.2" r="1.15"/><circle cx="807.2" cy="410.3" r="1.15"/><circle cx="804.3" cy="415.1" r="1.15"/><circle cx="798.2" cy="417.5" r="1.15"/><circle cx="788.2" cy="413.8" r="1.15"/><circle cx="804.5" cy="411.6" r="1.15"/><circle cx="786.8" cy="412.3" r="1.15"/><circle cx="799.3" cy="417.9" r="1.15"/><circle cx="807.6" cy="412.6" r="1.15"/><circle cx="803.7" cy="412.9" r="1.15"/><circle cx="794.0" cy="416.8" r="1.15"/><circle cx="806.7" cy="415.0" r="1.15"/><circle cx="806.2" cy="415.9" r="1.15"/><circle cx="799.4" cy="413.8" r="1.15"/><circle cx="797.3" cy="414.4" r="1.15"/><circle cx="794.1" cy="415.8" r="1.15"/><circle cx="802.3" cy="414.0" r="1.15"/><circle cx="791.6" cy="412.1" r="1.15"/><circle cx="795.2" cy="411.9" r="1.15"/><circle cx="795.5" cy="410.7" r="1.15"/><circle cx="798.9" cy="412.0" r="1.15"/><circle cx="795.0" cy="414.1" r="1.15"/><circle cx="794.2" cy="416.6" r="1.15"/><circle cx="806.2" cy="409.1" r="1.15"/><circle cx="797.5" cy="412.1" r="1.15"/><circle cx="787.5" cy="416.3" r="1.15"/><circle cx="812.2" cy="410.5" r="1.15"/><circle cx="793.2" cy="415.6" r="1.15"/><circle cx="797.7" cy="411.2" r="1.15"/><circle cx="802.4" cy="411.8" r="1.15"/><circle cx="802.5" cy="415.9" r="1.15"/><circle cx="786.4" cy="412.9" r="1.15"/><circle cx="783.4" cy="418.5" r="1.15"/><circle cx="802.7" cy="415.9" r="1.15"/><circle cx="799.4" cy="415.4" r="1.15"/><circle cx="808.9" cy="409.9" r="1.15"/><circle cx="807.4" cy="413.1" r="1.15"/><circle cx="800.1" cy="414.2" r="1.15"/><circle cx="788.9" cy="419.1" r="1.15"/><circle cx="796.4" cy="414.5" r="1.15"/><circle cx="800.6" cy="410.2" r="1.15"/><circle cx="789.6" cy="412.5" r="1.15"/><circle cx="796.5" cy="412.6" r="1.15"/><circle cx="793.7" cy="416.0" r="1.15"/><circle cx="805.7" cy="416.4" r="1.15"/><circle cx="793.8" cy="413.6" r="1.15"/><circle cx="800.1" cy="413.3" r="1.15"/><circle cx="794.4" cy="415.1" r="1.15"/><circle cx="798.4" cy="412.5" r="1.15"/><circle cx="810.9" cy="415.8" r="1.15"/><circle cx="789.5" cy="417.0" r="1.15"/><circle cx="794.5" cy="409.3" r="1.15"/><circle cx="790.1" cy="417.5" r="1.15"/><circle cx="783.9" cy="413.4" r="1.15"/><circle cx="797.4" cy="415.1" r="1.15"/><circle cx="787.0" cy="409.9" r="1.15"/><circle cx="794.5" cy="416.9" r="1.15"/><circle cx="795.2" cy="413.5" r="1.15"/><circle cx="788.1" cy="411.2" r="1.15"/><circle cx="797.6" cy="414.3" r="1.15"/><circle cx="793.7" cy="416.1" r="1.15"/><circle cx="794.1" cy="413.1" r="1.15"/><circle cx="790.3" cy="413.2" r="1.15"/><circle cx="798.6" cy="413.0" r="1.15"/><circle cx="792.1" cy="409.8" r="1.15"/><circle cx="791.8" cy="415.5" r="1.15"/><circle cx="802.0" cy="413.3" r="1.15"/><circle cx="792.1" cy="411.9" r="1.15"/><circle cx="787.0" cy="414.0" r="1.15"/><circle cx="787.9" cy="412.3" r="1.15"/><circle cx="798.0" cy="418.0" r="1.15"/><circle cx="792.5" cy="414.6" r="1.15"/><circle cx="804.9" cy="417.4" r="1.15"/><circle cx="811.8" cy="411.7" r="1.15"/><circle cx="807.4" cy="413.5" r="1.15"/><circle cx="797.6" cy="413.0" r="1.15"/><circle cx="801.6" cy="414.2" r="1.15"/><circle cx="784.8" cy="409.8" r="1.15"/><circle cx="801.9" cy="417.5" r="1.15"/><circle cx="795.3" cy="413.0" r="1.15"/><circle cx="793.5" cy="417.5" r="1.15"/><circle cx="786.2" cy="413.3" r="1.15"/><circle cx="783.6" cy="413.9" r="1.15"/><circle cx="789.5" cy="412.3" r="1.15"/><circle cx="805.6" cy="409.9" r="1.15"/><circle cx="787.9" cy="410.3" r="1.15"/><circle cx="784.1" cy="413.2" r="1.15"/><circle cx="792.9" cy="416.0" r="1.15"/><circle cx="790.9" cy="409.2" r="1.15"/><circle cx="807.3" cy="410.0" r="1.15"/><circle cx="787.7" cy="409.8" r="1.15"/><circle cx="802.5" cy="413.9" r="1.15"/><circle cx="796.6" cy="416.1" r="1.15"/><circle cx="783.8" cy="414.7" r="1.15"/><circle cx="806.1" cy="411.7" r="1.15"/><circle cx="805.0" cy="414.9" r="1.15"/><circle cx="792.4" cy="409.5" r="1.15"/><circle cx="807.5" cy="417.8" r="1.15"/><circle cx="802.5" cy="410.0" r="1.15"/><circle cx="797.3" cy="411.4" r="1.15"/><circle cx="807.3" cy="413.7" r="1.15"/><circle cx="807.8" cy="413.5" r="1.15"/><circle cx="799.9" cy="410.3" r="1.15"/><circle cx="801.9" cy="414.2" r="1.15"/><circle cx="799.9" cy="413.5" r="1.15"/><circle cx="789.1" cy="415.2" r="1.15"/><circle cx="801.4" cy="412.7" r="1.15"/><circle cx="790.4" cy="418.0" r="1.15"/><circle cx="786.5" cy="415.6" r="1.15"/><circle cx="805.6" cy="416.9" r="1.15"/><circle cx="791.3" cy="415.1" r="1.15"/><circle cx="796.1" cy="415.5" r="1.15"/><circle cx="794.9" cy="413.0" r="1.15"/><circle cx="794.3" cy="416.6" r="1.15"/><circle cx="801.2" cy="412.7" r="1.15"/><circle cx="807.7" cy="418.5" r="1.15"/><circle cx="796.3" cy="411.7" r="1.15"/><circle cx="803.9" cy="415.0" r="1.15"/><circle cx="799.1" cy="414.9" r="1.15"/><circle cx="794.4" cy="416.1" r="1.15"/><circle cx="797.5" cy="415.8" r="1.15"/><circle cx="799.1" cy="415.5" r="1.15"/><circle cx="796.1" cy="411.0" r="1.15"/><circle cx="801.9" cy="416.2" r="1.15"/><circle cx="791.1" cy="415.7" r="1.15"/><circle cx="798.3" cy="409.4" r="1.15"/><circle cx="801.8" cy="411.4" r="1.15"/><circle cx="806.8" cy="413.1" r="1.15"/><circle cx="800.5" cy="412.9" r="1.15"/><circle cx="789.3" cy="414.1" r="1.15"/><circle cx="788.3" cy="414.8" r="1.15"/><circle cx="804.4" cy="413.1" r="1.15"/><circle cx="786.0" cy="416.5" r="1.15"/><circle cx="788.4" cy="413.7" r="1.15"/><circle cx="798.1" cy="414.0" r="1.15"/><circle cx="785.1" cy="415.6" r="1.15"/><circle cx="791.0" cy="413.7" r="1.15"/><circle cx="807.2" cy="416.2" r="1.15"/><circle cx="794.9" cy="413.2" r="1.15"/><circle cx="807.4" cy="414.0" r="1.15"/><circle cx="785.6" cy="412.6" r="1.15"/><circle cx="796.4" cy="413.6" r="1.15"/><circle cx="795.9" cy="412.0" r="1.15"/><circle cx="795.0" cy="410.6" r="1.15"/><circle cx="800.1" cy="412.2" r="1.15"/><circle cx="790.6" cy="415.0" r="1.15"/><circle cx="791.2" cy="414.5" r="1.15"/><circle cx="802.9" cy="414.7" r="1.15"/><circle cx="793.1" cy="414.8" r="1.15"/><circle cx="791.5" cy="413.1" r="1.15"/><circle cx="794.7" cy="412.7" r="1.15"/><circle cx="789.1" cy="412.5" r="1.15"/><circle cx="810.0" cy="412.5" r="1.15"/><circle cx="804.8" cy="412.0" r="1.15"/><circle cx="796.1" cy="413.8" r="1.15"/><circle cx="789.6" cy="414.1" r="1.15"/><circle cx="805.4" cy="415.0" r="1.15"/><circle cx="789.3" cy="414.2" r="1.15"/><circle cx="801.2" cy="414.0" r="1.15"/><circle cx="791.5" cy="413.6" r="1.15"/><circle cx="793.8" cy="416.2" r="1.15"/><circle cx="810.6" cy="411.1" r="1.15"/><circle cx="801.2" cy="415.7" r="1.15"/><circle cx="788.5" cy="411.8" r="1.15"/><circle cx="793.2" cy="412.9" r="1.15"/><circle cx="794.2" cy="411.5" r="1.15"/><circle cx="781.3" cy="415.2" r="1.15"/><circle cx="796.1" cy="418.7" r="1.15"/><circle cx="793.6" cy="410.6" r="1.15"/><circle cx="794.0" cy="415.7" r="1.15"/><circle cx="794.4" cy="411.1" r="1.15"/><circle cx="801.7" cy="414.6" r="1.15"/><circle cx="797.5" cy="413.5" r="1.15"/><circle cx="794.3" cy="414.1" r="1.15"/><circle cx="795.5" cy="412.1" r="1.15"/><circle cx="792.7" cy="412.4" r="1.15"/><circle cx="798.9" cy="413.4" r="1.15"/><circle cx="809.8" cy="413.4" r="1.15"/><circle cx="801.1" cy="414.0" r="1.15"/><circle cx="781.9" cy="414.7" r="1.15"/><circle cx="797.8" cy="414.1" r="1.15"/><circle cx="799.5" cy="412.6" r="1.15"/><circle cx="799.2" cy="418.1" r="1.15"/><circle cx="784.6" cy="411.4" r="1.15"/><circle cx="798.7" cy="413.5" r="1.15"/><circle cx="788.6" cy="411.0" r="1.15"/><circle cx="785.9" cy="412.2" r="1.15"/><circle cx="795.1" cy="411.2" r="1.15"/><circle cx="805.8" cy="411.3" r="1.15"/><circle cx="797.8" cy="417.1" r="1.15"/><circle cx="806.6" cy="411.8" r="1.15"/><circle cx="800.6" cy="413.3" r="1.15"/><circle cx="798.9" cy="416.2" r="1.15"/><circle cx="793.7" cy="413.1" r="1.15"/><circle cx="808.3" cy="416.0" r="1.15"/><circle cx="793.2" cy="414.3" r="1.15"/><circle cx="799.5" cy="413.9" r="1.15"/><circle cx="791.6" cy="409.2" r="1.15"/><circle cx="797.6" cy="411.3" r="1.15"/><circle cx="798.7" cy="417.5" r="1.15"/><circle cx="808.0" cy="419.0" r="1.15"/><circle cx="790.5" cy="413.5" r="1.15"/><circle cx="807.3" cy="416.5" r="1.15"/><circle cx="801.7" cy="415.5" r="1.15"/><circle cx="798.3" cy="417.6" r="1.15"/><circle cx="793.8" cy="412.6" r="1.15"/><circle cx="784.0" cy="413.4" r="1.15"/><circle cx="805.6" cy="414.8" r="1.15"/><circle cx="790.0" cy="417.2" r="1.15"/></g>
<g fill="#1dcce2"><circle cx="786.6" cy="415.9" r="1.15"/><circle cx="775.3" cy="418.6" r="1.15"/><circle cx="787.8" cy="388.6" r="1.15"/><circle cx="774.1" cy="413.2" r="1.15"/><circle cx="781.9" cy="420.9" r="1.15"/><circle cx="787.0" cy="409.6" r="1.15"/><circle cx="776.3" cy="401.4" r="1.15"/><circle cx="788.7" cy="395.5" r="1.15"/><circle cx="772.0" cy="386.5" r="1.15"/><circle cx="768.1" cy="416.5" r="1.15"/><circle cx="773.4" cy="399.6" r="1.15"/><circle cx="788.8" cy="394.8" r="1.15"/><circle cx="787.1" cy="398.7" r="1.15"/><circle cx="786.4" cy="420.6" r="1.15"/><circle cx="778.8" cy="418.8" r="1.15"/><circle cx="773.7" cy="395.9" r="1.15"/><circle cx="784.4" cy="413.1" r="1.15"/><circle cx="788.4" cy="403.0" r="1.15"/><circle cx="788.0" cy="387.7" r="1.15"/><circle cx="789.0" cy="393.8" r="1.15"/><circle cx="782.4" cy="419.7" r="1.15"/><circle cx="784.3" cy="401.7" r="1.15"/><circle cx="781.7" cy="392.4" r="1.15"/><circle cx="769.4" cy="415.0" r="1.15"/><circle cx="779.0" cy="416.2" r="1.15"/><circle cx="767.6" cy="392.3" r="1.15"/><circle cx="769.4" cy="411.6" r="1.15"/><circle cx="779.1" cy="395.1" r="1.15"/><circle cx="772.0" cy="409.1" r="1.15"/><circle cx="789.8" cy="398.8" r="1.15"/><circle cx="771.3" cy="409.5" r="1.15"/><circle cx="782.5" cy="410.5" r="1.15"/><circle cx="776.2" cy="415.8" r="1.15"/><circle cx="772.8" cy="416.6" r="1.15"/><circle cx="788.1" cy="421.2" r="1.15"/><circle cx="778.7" cy="394.2" r="1.15"/><circle cx="782.1" cy="387.2" r="1.15"/><circle cx="783.9" cy="396.6" r="1.15"/><circle cx="787.0" cy="387.5" r="1.15"/><circle cx="788.5" cy="401.7" r="1.15"/><circle cx="773.6" cy="407.3" r="1.15"/><circle cx="789.8" cy="417.5" r="1.15"/><circle cx="776.5" cy="404.2" r="1.15"/><circle cx="768.9" cy="407.3" r="1.15"/><circle cx="770.6" cy="389.1" r="1.15"/><circle cx="777.2" cy="388.2" r="1.15"/><circle cx="785.7" cy="397.5" r="1.15"/><circle cx="782.2" cy="397.0" r="1.15"/><circle cx="773.9" cy="397.5" r="1.15"/><circle cx="776.3" cy="388.8" r="1.15"/><circle cx="778.8" cy="418.5" r="1.15"/><circle cx="767.2" cy="386.8" r="1.15"/><circle cx="773.0" cy="417.9" r="1.15"/><circle cx="766.8" cy="407.2" r="1.15"/><circle cx="769.4" cy="386.1" r="1.15"/><circle cx="769.5" cy="410.8" r="1.15"/><circle cx="766.7" cy="402.8" r="1.15"/><circle cx="783.9" cy="409.8" r="1.15"/><circle cx="775.6" cy="418.9" r="1.15"/><circle cx="779.2" cy="394.0" r="1.15"/><circle cx="770.7" cy="416.4" r="1.15"/><circle cx="771.4" cy="398.6" r="1.15"/><circle cx="775.3" cy="393.1" r="1.15"/><circle cx="766.9" cy="401.5" r="1.15"/><circle cx="781.2" cy="414.3" r="1.15"/><circle cx="768.3" cy="400.4" r="1.15"/><circle cx="769.6" cy="417.7" r="1.15"/><circle cx="766.1" cy="414.2" r="1.15"/><circle cx="767.2" cy="407.3" r="1.15"/><circle cx="778.8" cy="417.4" r="1.15"/></g>
<g fill="#1dcce2"><circle cx="813.7" cy="390.3" r="1.15"/><circle cx="797.2" cy="392.4" r="1.15"/><circle cx="818.8" cy="413.2" r="1.15"/><circle cx="818.5" cy="416.4" r="1.15"/><circle cx="814.8" cy="416.7" r="1.15"/><circle cx="827.3" cy="411.3" r="1.15"/><circle cx="840.7" cy="413.2" r="1.15"/><circle cx="835.1" cy="416.7" r="1.15"/><circle cx="803.6" cy="403.1" r="1.15"/><circle cx="799.6" cy="404.4" r="1.15"/><circle cx="795.1" cy="403.6" r="1.15"/><circle cx="788.4" cy="403.9" r="1.15"/><circle cx="790.3" cy="403.9" r="1.15"/><circle cx="792.4" cy="403.8" r="1.15"/><circle cx="770.5" cy="386.5" r="1.15"/><circle cx="778.8" cy="389.2" r="1.15"/></g>
<g fill="#1c92f2"><circle cx="777.2" cy="398.5" r="1.15"/><circle cx="780.4" cy="399.1" r="1.15"/><circle cx="782.8" cy="398.8" r="1.15"/><circle cx="783.6" cy="398.5" r="1.15"/><circle cx="781.7" cy="399.6" r="1.15"/></g>
<g fill="#ff964f"><circle cx="783.6" cy="409.2" r="1.15"/></g>
<g fill="#ff964f"><circle cx="803.4" cy="475.4" r="1.15"/><circle cx="786.1" cy="477.7" r="1.15"/><circle cx="788.6" cy="477.0" r="1.15"/><circle cx="804.6" cy="474.6" r="1.15"/><circle cx="789.4" cy="478.2" r="1.15"/><circle cx="799.1" cy="474.1" r="1.15"/><circle cx="792.2" cy="475.0" r="1.15"/><circle cx="802.8" cy="475.1" r="1.15"/><circle cx="787.3" cy="473.8" r="1.15"/><circle cx="805.4" cy="475.0" r="1.15"/><circle cx="795.7" cy="475.2" r="1.15"/><circle cx="790.0" cy="476.0" r="1.15"/><circle cx="804.8" cy="471.9" r="1.15"/><circle cx="793.4" cy="476.7" r="1.15"/><circle cx="804.6" cy="475.3" r="1.15"/><circle cx="783.7" cy="476.0" r="1.15"/><circle cx="783.8" cy="474.5" r="1.15"/><circle cx="800.3" cy="471.6" r="1.15"/><circle cx="805.6" cy="474.2" r="1.15"/><circle cx="791.9" cy="475.1" r="1.15"/><circle cx="793.9" cy="476.7" r="1.15"/><circle cx="805.4" cy="477.9" r="1.15"/><circle cx="778.2" cy="477.1" r="1.15"/><circle cx="782.9" cy="476.4" r="1.15"/><circle cx="797.2" cy="474.8" r="1.15"/><circle cx="789.7" cy="476.8" r="1.15"/><circle cx="799.6" cy="473.9" r="1.15"/><circle cx="801.0" cy="472.4" r="1.15"/><circle cx="804.4" cy="476.6" r="1.15"/><circle cx="784.9" cy="478.1" r="1.15"/><circle cx="789.1" cy="477.9" r="1.15"/><circle cx="806.1" cy="475.5" r="1.15"/><circle cx="802.1" cy="471.6" r="1.15"/><circle cx="800.9" cy="473.6" r="1.15"/><circle cx="790.9" cy="475.9" r="1.15"/><circle cx="783.0" cy="476.9" r="1.15"/><circle cx="778.5" cy="477.4" r="1.15"/><circle cx="794.1" cy="475.7" r="1.15"/><circle cx="789.3" cy="476.1" r="1.15"/><circle cx="798.0" cy="475.6" r="1.15"/><circle cx="797.1" cy="477.1" r="1.15"/><circle cx="797.5" cy="472.6" r="1.15"/><circle cx="778.0" cy="477.5" r="1.15"/><circle cx="797.1" cy="473.3" r="1.15"/><circle cx="792.1" cy="477.9" r="1.15"/><circle cx="785.5" cy="474.6" r="1.15"/><circle cx="798.2" cy="477.1" r="1.15"/><circle cx="802.7" cy="475.6" r="1.15"/><circle cx="784.6" cy="478.2" r="1.15"/><circle cx="779.0" cy="477.5" r="1.15"/><circle cx="807.3" cy="477.5" r="1.15"/><circle cx="784.2" cy="478.1" r="1.15"/><circle cx="802.1" cy="472.1" r="1.15"/><circle cx="784.8" cy="478.8" r="1.15"/><circle cx="789.9" cy="475.0" r="1.15"/><circle cx="789.2" cy="478.1" r="1.15"/><circle cx="794.6" cy="477.6" r="1.15"/><circle cx="793.9" cy="476.3" r="1.15"/><circle cx="785.2" cy="476.9" r="1.15"/><circle cx="798.5" cy="476.4" r="1.15"/><circle cx="795.1" cy="473.3" r="1.15"/><circle cx="795.0" cy="473.2" r="1.15"/><circle cx="794.1" cy="473.0" r="1.15"/><circle cx="792.0" cy="474.9" r="1.15"/><circle cx="789.4" cy="474.7" r="1.15"/><circle cx="779.0" cy="478.3" r="1.15"/><circle cx="800.6" cy="476.1" r="1.15"/><circle cx="805.1" cy="476.5" r="1.15"/><circle cx="806.6" cy="477.2" r="1.15"/><circle cx="789.3" cy="474.1" r="1.15"/><circle cx="800.9" cy="475.6" r="1.15"/><circle cx="790.3" cy="475.8" r="1.15"/><circle cx="782.6" cy="477.3" r="1.15"/><circle cx="783.0" cy="474.9" r="1.15"/><circle cx="806.3" cy="473.2" r="1.15"/><circle cx="794.7" cy="475.2" r="1.15"/><circle cx="795.4" cy="473.7" r="1.15"/><circle cx="797.7" cy="471.6" r="1.15"/><circle cx="778.8" cy="476.4" r="1.15"/><circle cx="794.9" cy="473.2" r="1.15"/><circle cx="799.6" cy="474.8" r="1.15"/><circle cx="785.1" cy="475.5" r="1.15"/><circle cx="800.0" cy="476.3" r="1.15"/><circle cx="802.4" cy="475.9" r="1.15"/><circle cx="795.9" cy="473.1" r="1.15"/><circle cx="794.6" cy="473.7" r="1.15"/><circle cx="788.4" cy="474.1" r="1.15"/><circle cx="799.3" cy="476.8" r="1.15"/><circle cx="792.7" cy="474.9" r="1.15"/><circle cx="780.3" cy="478.9" r="1.15"/><circle cx="802.1" cy="474.9" r="1.15"/><circle cx="798.6" cy="475.9" r="1.15"/><circle cx="794.4" cy="476.3" r="1.15"/><circle cx="798.6" cy="472.9" r="1.15"/><circle cx="800.3" cy="473.6" r="1.15"/><circle cx="781.0" cy="475.8" r="1.15"/><circle cx="807.6" cy="477.7" r="1.15"/><circle cx="801.9" cy="470.9" r="1.15"/><circle cx="795.0" cy="472.0" r="1.15"/><circle cx="786.5" cy="476.6" r="1.15"/><circle cx="797.9" cy="475.5" r="1.15"/><circle cx="797.5" cy="475.2" r="1.15"/><circle cx="790.5" cy="478.5" r="1.15"/><circle cx="790.2" cy="473.9" r="1.15"/><circle cx="792.6" cy="472.7" r="1.15"/><circle cx="796.2" cy="474.3" r="1.15"/><circle cx="797.1" cy="475.1" r="1.15"/><circle cx="804.7" cy="478.0" r="1.15"/><circle cx="797.4" cy="474.4" r="1.15"/><circle cx="794.4" cy="472.5" r="1.15"/><circle cx="806.5" cy="474.3" r="1.15"/><circle cx="777.8" cy="477.2" r="1.15"/><circle cx="793.9" cy="477.7" r="1.15"/><circle cx="792.2" cy="474.3" r="1.15"/><circle cx="788.0" cy="475.9" r="1.15"/><circle cx="792.7" cy="475.9" r="1.15"/><circle cx="784.1" cy="476.2" r="1.15"/><circle cx="787.7" cy="473.6" r="1.15"/><circle cx="798.7" cy="475.4" r="1.15"/><circle cx="783.0" cy="477.3" r="1.15"/><circle cx="781.3" cy="478.0" r="1.15"/><circle cx="793.7" cy="476.7" r="1.15"/><circle cx="806.0" cy="476.9" r="1.15"/><circle cx="798.9" cy="475.2" r="1.15"/><circle cx="803.9" cy="476.3" r="1.15"/><circle cx="786.8" cy="474.9" r="1.15"/><circle cx="807.3" cy="473.8" r="1.15"/><circle cx="791.1" cy="475.5" r="1.15"/><circle cx="792.9" cy="472.9" r="1.15"/><circle cx="793.8" cy="472.5" r="1.15"/><circle cx="793.0" cy="476.4" r="1.15"/><circle cx="801.4" cy="471.3" r="1.15"/><circle cx="788.1" cy="478.4" r="1.15"/><circle cx="792.8" cy="474.4" r="1.15"/><circle cx="795.8" cy="476.3" r="1.15"/><circle cx="801.5" cy="478.0" r="1.15"/><circle cx="799.1" cy="472.6" r="1.15"/><circle cx="793.0" cy="476.7" r="1.15"/><circle cx="805.4" cy="475.6" r="1.15"/><circle cx="802.8" cy="471.5" r="1.15"/><circle cx="804.9" cy="475.1" r="1.15"/><circle cx="804.9" cy="475.2" r="1.15"/><circle cx="795.9" cy="474.2" r="1.15"/><circle cx="795.6" cy="477.9" r="1.15"/><circle cx="790.5" cy="475.0" r="1.15"/><circle cx="783.5" cy="478.6" r="1.15"/><circle cx="792.3" cy="474.7" r="1.15"/><circle cx="797.9" cy="475.3" r="1.15"/><circle cx="795.0" cy="475.0" r="1.15"/><circle cx="785.1" cy="476.3" r="1.15"/><circle cx="800.2" cy="474.9" r="1.15"/><circle cx="794.0" cy="478.1" r="1.15"/><circle cx="803.6" cy="472.3" r="1.15"/><circle cx="803.3" cy="471.7" r="1.15"/><circle cx="800.7" cy="475.7" r="1.15"/><circle cx="781.9" cy="477.0" r="1.15"/><circle cx="786.6" cy="475.2" r="1.15"/><circle cx="799.4" cy="472.6" r="1.15"/><circle cx="784.4" cy="477.1" r="1.15"/><circle cx="804.1" cy="471.5" r="1.15"/><circle cx="800.5" cy="472.2" r="1.15"/><circle cx="803.1" cy="472.0" r="1.15"/><circle cx="780.6" cy="478.8" r="1.15"/><circle cx="801.5" cy="471.4" r="1.15"/><circle cx="782.7" cy="477.1" r="1.15"/><circle cx="800.4" cy="477.2" r="1.15"/><circle cx="800.5" cy="471.7" r="1.15"/><circle cx="805.2" cy="472.0" r="1.15"/><circle cx="801.7" cy="472.4" r="1.15"/><circle cx="806.1" cy="473.6" r="1.15"/><circle cx="792.0" cy="473.4" r="1.15"/><circle cx="804.5" cy="473.8" r="1.15"/><circle cx="792.6" cy="474.8" r="1.15"/><circle cx="790.7" cy="478.4" r="1.15"/><circle cx="787.5" cy="475.2" r="1.15"/><circle cx="794.8" cy="477.5" r="1.15"/><circle cx="779.4" cy="476.5" r="1.15"/><circle cx="784.5" cy="477.2" r="1.15"/><circle cx="794.2" cy="477.5" r="1.15"/><circle cx="792.7" cy="472.7" r="1.15"/><circle cx="782.8" cy="476.5" r="1.15"/><circle cx="790.7" cy="476.3" r="1.15"/><circle cx="806.1" cy="473.2" r="1.15"/><circle cx="795.2" cy="477.3" r="1.15"/><circle cx="803.5" cy="475.0" r="1.15"/><circle cx="782.6" cy="477.5" r="1.15"/><circle cx="796.9" cy="475.7" r="1.15"/><circle cx="801.1" cy="476.3" r="1.15"/><circle cx="786.2" cy="478.0" r="1.15"/><circle cx="783.2" cy="477.4" r="1.15"/><circle cx="797.0" cy="475.8" r="1.15"/><circle cx="800.5" cy="472.6" r="1.15"/><circle cx="798.5" cy="477.2" r="1.15"/><circle cx="779.5" cy="475.9" r="1.15"/><circle cx="805.4" cy="477.9" r="1.15"/><circle cx="783.4" cy="476.6" r="1.15"/><circle cx="796.5" cy="474.7" r="1.15"/><circle cx="780.8" cy="476.5" r="1.15"/><circle cx="788.3" cy="477.0" r="1.15"/><circle cx="805.2" cy="476.7" r="1.15"/><circle cx="801.3" cy="475.9" r="1.15"/><circle cx="784.1" cy="475.8" r="1.15"/><circle cx="799.8" cy="476.8" r="1.15"/><circle cx="802.2" cy="473.4" r="1.15"/><circle cx="800.7" cy="478.1" r="1.15"/><circle cx="781.0" cy="477.3" r="1.15"/><circle cx="801.6" cy="476.0" r="1.15"/><circle cx="801.7" cy="474.6" r="1.15"/><circle cx="802.6" cy="474.7" r="1.15"/><circle cx="786.3" cy="477.3" r="1.15"/><circle cx="799.8" cy="478.0" r="1.15"/><circle cx="784.2" cy="477.9" r="1.15"/><circle cx="803.5" cy="472.4" r="1.15"/><circle cx="789.4" cy="478.2" r="1.15"/><circle cx="785.7" cy="475.8" r="1.15"/><circle cx="806.3" cy="474.4" r="1.15"/><circle cx="784.9" cy="474.1" r="1.15"/><circle cx="794.8" cy="473.4" r="1.15"/><circle cx="782.9" cy="476.5" r="1.15"/><circle cx="795.3" cy="473.5" r="1.15"/><circle cx="802.7" cy="477.3" r="1.15"/><circle cx="790.4" cy="474.6" r="1.15"/><circle cx="782.8" cy="477.8" r="1.15"/><circle cx="785.2" cy="476.5" r="1.15"/><circle cx="806.3" cy="475.3" r="1.15"/><circle cx="802.8" cy="476.9" r="1.15"/><circle cx="803.5" cy="475.7" r="1.15"/><circle cx="805.7" cy="477.7" r="1.15"/><circle cx="789.8" cy="476.3" r="1.15"/><circle cx="798.2" cy="472.2" r="1.15"/></g>
<g fill="#ff964f"><circle cx="771.6" cy="479.0" r="1.15"/><circle cx="772.7" cy="478.8" r="1.15"/><circle cx="774.0" cy="478.6" r="1.15"/><circle cx="791.9" cy="466.5" r="1.15"/><circle cx="810.5" cy="469.2" r="1.15"/><circle cx="809.2" cy="472.4" r="1.15"/><circle cx="814.0" cy="474.0" r="1.15"/><circle cx="824.7" cy="472.4" r="1.15"/><circle cx="811.6" cy="471.1" r="1.15"/></g>
<g fill="#ff5028"><circle cx="766.3" cy="466.3" r="1.15"/><circle cx="786.0" cy="465.2" r="1.15"/><circle cx="786.6" cy="465.8" r="1.15"/><circle cx="787.3" cy="466.6" r="1.15"/></g>
<g fill="#84f9b6"><circle cx="779.0" cy="450.8" r="1.15"/><circle cx="782.8" cy="471.1" r="1.15"/></g>
<g fill="#5052fb"><circle cx="855.6" cy="451.9" r="1.15"/></g>
<rect x="241.65" y="157.5" width="510.85" height="495.5" fill="none" stroke="#000" stroke-width="1.2"/>
<rect x="242.3" y="54.2" width="510.2" height="103.1" fill="none" stroke="#000" stroke-width="2.4"/>
<rect x="752.5" y="54.2" width="109.3" height="103.1" fill="none" stroke="#000" stroke-width="2.4"/>
<rect x="752.5" y="157.3" width="109.3" height="495.4" fill="none" stroke="#000" stroke-width="2.4"/>
<line x1="241" x2="863" y1="157.4" y2="157.4" stroke="#000" stroke-width="3.4"/>
<line x1="752.6" x2="752.6" y1="53" y2="653.9" stroke="#000" stroke-width="3.2"/>
<rect x="158" y="690.3" width="787.5" height="38" fill="url(#rb)" stroke="#000" stroke-width="1"/>
<line x1="158.0" x2="158.0" y1="728.3" y2="732" stroke="#000" stroke-width="1"/>
<line x1="315.5" x2="315.5" y1="728.3" y2="732" stroke="#000" stroke-width="1"/>
<line x1="473.0" x2="473.0" y1="728.3" y2="732" stroke="#000" stroke-width="1"/>
<line x1="630.5" x2="630.5" y1="728.3" y2="732" stroke="#000" stroke-width="1"/>
<line x1="788.0" x2="788.0" y1="728.3" y2="732" stroke="#000" stroke-width="1"/>
<line x1="945.5" x2="945.5" y1="728.3" y2="732" stroke="#000" stroke-width="1"/>
<g filter="url(#idf)">
<text x="299.4" y="45.9" font-size="23.5" textLength="88.5" lengthAdjust="spacingAndGlyphs">SAETTA</text>
<text x="395.7" y="45.9" font-size="23.5" textLength="107.1" lengthAdjust="spacingAndGlyphs">Lightning</text>
<text x="509.1" y="45.9" font-size="23.5" textLength="98.2" lengthAdjust="spacingAndGlyphs">Mapping</text>
<text x="615.9" y="45.9" font-size="23.5" textLength="60.4" lengthAdjust="spacingAndGlyphs">Array</text>
<text x="685.5" y="45.9" font-size="23.5" textLength="8.4" lengthAdjust="spacingAndGlyphs">-</text>
<text x="701.1" y="45.9" font-size="23.5" textLength="101.9" lengthAdjust="spacingAndGlyphs">16/05/29</text>
<text x="433.1" y="718.7" font-size="19.9" textLength="44.6" lengthAdjust="spacingAndGlyphs">from</text>
<text x="482.9" y="718.7" font-size="19.9" textLength="83.6" lengthAdjust="spacingAndGlyphs">07:30:00</text>
<text x="573.4" y="718.7" font-size="19.9" textLength="18.4" lengthAdjust="spacingAndGlyphs">to</text>
<text x="597.8" y="718.7" font-size="19.9" textLength="84.6" lengthAdjust="spacingAndGlyphs">07:39:59</text>
<text x="154.8" y="743.0" font-size="11.0" textLength="6.5" lengthAdjust="spacingAndGlyphs">0</text>
<text x="312.1" y="743.0" font-size="11.0" textLength="6.8" lengthAdjust="spacingAndGlyphs">2</text>
<text x="469.9" y="743.0" font-size="11.0" textLength="6.2" lengthAdjust="spacingAndGlyphs">4</text>
<text x="627.1" y="743.0" font-size="11.0" textLength="6.7" lengthAdjust="spacingAndGlyphs">6</text>
<text x="784.7" y="743.0" font-size="11.0" textLength="6.6" lengthAdjust="spacingAndGlyphs">8</text>
<text x="938.8" y="743.0" font-size="11.0" textLength="13.0" lengthAdjust="spacingAndGlyphs">10</text>
<text x="218.9" y="51.6" font-size="11.0" textLength="12.6" lengthAdjust="spacingAndGlyphs">15</text>
<text x="218.9" y="87.0" font-size="11.0" textLength="12.7" lengthAdjust="spacingAndGlyphs">10</text>
<text x="219.9" y="122.0" font-size="11.0" textLength="6.6" lengthAdjust="spacingAndGlyphs">5</text>
<text x="220.0" y="157.0" font-size="11.0" textLength="6.7" lengthAdjust="spacingAndGlyphs">0</text>
<text x="185.5" y="105.0" font-size="12.2" textLength="20.0" lengthAdjust="spacingAndGlyphs">Km</text>
<text x="752.9" y="666.8" font-size="11.0" textLength="6.5" lengthAdjust="spacingAndGlyphs">0</text>
<text x="789.1" y="666.8" font-size="11.0" textLength="6.4" lengthAdjust="spacingAndGlyphs">5</text>
<text x="825.0" y="666.8" font-size="11.0" textLength="12.4" lengthAdjust="spacingAndGlyphs">10</text>
<text x="862.4" y="666.8" font-size="11.0" textLength="11.8" lengthAdjust="spacingAndGlyphs">15</text>
<text x="806.8" y="675.7" font-size="12.2" textLength="19.4" lengthAdjust="spacingAndGlyphs">Km</text>
<text x="208.8" y="655.0" font-size="11.0" textLength="25.9" lengthAdjust="spacingAndGlyphs">40°N</text>
<text x="198.9" y="607.2" font-size="11.0" textLength="35.8" lengthAdjust="spacingAndGlyphs">40.5°N</text>
<text x="208.8" y="559.0" font-size="11.0" textLength="25.9" lengthAdjust="spacingAndGlyphs">41°N</text>
<text x="198.9" y="510.4" font-size="11.0" textLength="35.8" lengthAdjust="spacingAndGlyphs">41.5°N</text>
<text x="208.8" y="461.5" font-size="11.0" textLength="25.9" lengthAdjust="spacingAndGlyphs">42°N</text>
<text x="198.9" y="412.2" font-size="11.0" textLength="35.8" lengthAdjust="spacingAndGlyphs">42.5°N</text>
<text x="208.8" y="362.5" font-size="11.0" textLength="25.9" lengthAdjust="spacingAndGlyphs">43°N</text>
<text x="198.9" y="312.4" font-size="11.0" textLength="35.8" lengthAdjust="spacingAndGlyphs">43.5°N</text>
<text x="208.8" y="261.9" font-size="11.0" textLength="25.9" lengthAdjust="spacingAndGlyphs">44°N</text>
<text x="198.9" y="210.9" font-size="11.0" textLength="35.8" lengthAdjust="spacingAndGlyphs">44.5°N</text>
<text x="232.3" y="667.2" font-size="11.0" textLength="17.8" lengthAdjust="spacingAndGlyphs">5°E</text>
<text x="263.9" y="667.2" font-size="11.0" textLength="27.5" lengthAdjust="spacingAndGlyphs">5.5°E</text>
<text x="305.2" y="667.2" font-size="11.0" textLength="17.9" lengthAdjust="spacingAndGlyphs">6°E</text>
<text x="336.8" y="667.2" font-size="11.0" textLength="27.6" lengthAdjust="spacingAndGlyphs">6.5°E</text>
<text x="378.2" y="667.2" font-size="11.0" textLength="17.9" lengthAdjust="spacingAndGlyphs">7°E</text>
<text x="409.8" y="667.2" font-size="11.0" textLength="27.6" lengthAdjust="spacingAndGlyphs">7.5°E</text>
<text x="451.3" y="667.2" font-size="11.0" textLength="17.8" lengthAdjust="spacingAndGlyphs">8°E</text>
<text x="482.9" y="667.2" font-size="11.0" textLength="27.5" lengthAdjust="spacingAndGlyphs">8.5°E</text>
<text x="524.2" y="667.2" font-size="11.0" textLength="17.9" lengthAdjust="spacingAndGlyphs">9°E</text>
<text x="555.9" y="667.2" font-size="11.0" textLength="27.5" lengthAdjust="spacingAndGlyphs">9.5°E</text>
<text x="594.0" y="667.2" font-size="11.0" textLength="24.0" lengthAdjust="spacingAndGlyphs">10°E</text>
<text x="625.4" y="667.2" font-size="11.0" textLength="34.1" lengthAdjust="spacingAndGlyphs">10.5°E</text>
<text x="667.0" y="667.2" font-size="11.0" textLength="24.1" lengthAdjust="spacingAndGlyphs">11°E</text>
<text x="698.4" y="667.2" font-size="11.0" textLength="34.2" lengthAdjust="spacingAndGlyphs">11.5°E</text>
<text x="769.0" y="83.6" font-size="11.0" textLength="7.0" lengthAdjust="spacingAndGlyphs">6</text>
<text x="782.8" y="83.6" font-size="11.0" textLength="3.8" lengthAdjust="spacingAndGlyphs">:</text>
<text x="802.5" y="83.6" font-size="11.0" textLength="26.4" lengthAdjust="spacingAndGlyphs">5206</text>
<text x="769.0" y="94.0" font-size="11.0" textLength="7.0" lengthAdjust="spacingAndGlyphs" fill="#ff0000">7</text>
<text x="782.8" y="94.0" font-size="11.0" textLength="3.8" lengthAdjust="spacingAndGlyphs" fill="#ff0000">:</text>
<text x="802.1" y="94.0" font-size="11.0" textLength="26.8" lengthAdjust="spacingAndGlyphs" fill="#ff0000">1350</text>
<text x="769.1" y="104.4" font-size="11.0" textLength="6.8" lengthAdjust="spacingAndGlyphs">8</text>
<text x="782.8" y="104.4" font-size="11.0" textLength="3.8" lengthAdjust="spacingAndGlyphs">:</text>
<text x="805.7" y="104.4" font-size="11.0" textLength="20.1" lengthAdjust="spacingAndGlyphs">430</text>
<text x="769.0" y="114.6" font-size="11.0" textLength="7.0" lengthAdjust="spacingAndGlyphs">9</text>
<text x="782.8" y="114.6" font-size="11.0" textLength="3.8" lengthAdjust="spacingAndGlyphs">:</text>
<text x="805.0" y="114.6" font-size="11.0" textLength="20.9" lengthAdjust="spacingAndGlyphs">110</text>
<text x="766.3" y="125.6" font-size="11.0" textLength="13.2" lengthAdjust="spacingAndGlyphs">10</text>
<text x="786.0" y="125.6" font-size="11.0" textLength="3.8" lengthAdjust="spacingAndGlyphs">:</text>
<text x="812.5" y="125.6" font-size="11.0" textLength="13.5" lengthAdjust="spacingAndGlyphs">19</text>
<text x="766.2" y="135.6" font-size="11.0" textLength="13.4" lengthAdjust="spacingAndGlyphs">11</text>
<text x="786.0" y="135.6" font-size="11.0" textLength="3.8" lengthAdjust="spacingAndGlyphs">:</text>
<text x="815.6" y="135.6" font-size="11.0" textLength="6.5" lengthAdjust="spacingAndGlyphs">0</text>
<text x="766.3" y="146.0" font-size="11.0" textLength="13.3" lengthAdjust="spacingAndGlyphs">12</text>
<text x="786.0" y="146.0" font-size="11.0" textLength="3.8" lengthAdjust="spacingAndGlyphs">:</text>
<text x="815.6" y="146.0" font-size="11.0" textLength="6.5" lengthAdjust="spacingAndGlyphs">0</text>
</g>
</svg></body></html>
